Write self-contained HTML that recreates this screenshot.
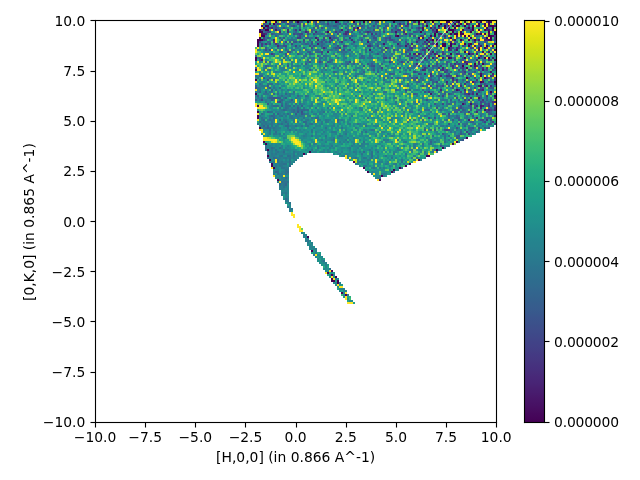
<!DOCTYPE html>
<html><head><meta charset="utf-8"><title>plot</title>
<style>html,body{margin:0;padding:0;background:#fff}svg{display:block}</style></head>
<body><svg width="640" height="480" viewBox="0 0 640 480">
<rect width="640" height="480" fill="#fff"/>
<defs><linearGradient id="cbg" x1="0" y1="0" x2="0" y2="1"><stop offset="0.0000" stop-color="#fde725"/><stop offset="0.0104" stop-color="#f6e620"/><stop offset="0.0208" stop-color="#f1e51d"/><stop offset="0.0312" stop-color="#eae51a"/><stop offset="0.0417" stop-color="#e2e418"/><stop offset="0.0521" stop-color="#dde318"/><stop offset="0.0625" stop-color="#d5e21a"/><stop offset="0.0729" stop-color="#cde11d"/><stop offset="0.0833" stop-color="#c8e020"/><stop offset="0.0938" stop-color="#c0df25"/><stop offset="0.1042" stop-color="#b8de29"/><stop offset="0.1146" stop-color="#b2dd2d"/><stop offset="0.1250" stop-color="#aadc32"/><stop offset="0.1354" stop-color="#a2da37"/><stop offset="0.1458" stop-color="#9dd93b"/><stop offset="0.1562" stop-color="#95d840"/><stop offset="0.1667" stop-color="#8ed645"/><stop offset="0.1771" stop-color="#89d548"/><stop offset="0.1875" stop-color="#81d34d"/><stop offset="0.1979" stop-color="#7cd250"/><stop offset="0.2083" stop-color="#75d054"/><stop offset="0.2188" stop-color="#6ece58"/><stop offset="0.2292" stop-color="#69cd5b"/><stop offset="0.2396" stop-color="#63cb5f"/><stop offset="0.2500" stop-color="#5cc863"/><stop offset="0.2604" stop-color="#58c765"/><stop offset="0.2708" stop-color="#52c569"/><stop offset="0.2812" stop-color="#4cc26c"/><stop offset="0.2917" stop-color="#48c16e"/><stop offset="0.3021" stop-color="#42be71"/><stop offset="0.3125" stop-color="#3dbc74"/><stop offset="0.3229" stop-color="#3aba76"/><stop offset="0.3333" stop-color="#35b779"/><stop offset="0.3438" stop-color="#31b57b"/><stop offset="0.3542" stop-color="#2eb37c"/><stop offset="0.3646" stop-color="#2ab07f"/><stop offset="0.3750" stop-color="#27ad81"/><stop offset="0.3854" stop-color="#25ac82"/><stop offset="0.3958" stop-color="#23a983"/><stop offset="0.4062" stop-color="#21a685"/><stop offset="0.4167" stop-color="#20a486"/><stop offset="0.4271" stop-color="#1fa187"/><stop offset="0.4375" stop-color="#1f9f88"/><stop offset="0.4479" stop-color="#1e9d89"/><stop offset="0.4583" stop-color="#1f9a8a"/><stop offset="0.4688" stop-color="#1f978b"/><stop offset="0.4792" stop-color="#1f958b"/><stop offset="0.4896" stop-color="#20928c"/><stop offset="0.5000" stop-color="#21918c"/><stop offset="0.5104" stop-color="#218e8d"/><stop offset="0.5208" stop-color="#228b8d"/><stop offset="0.5312" stop-color="#23898e"/><stop offset="0.5417" stop-color="#24868e"/><stop offset="0.5521" stop-color="#25838e"/><stop offset="0.5625" stop-color="#26828e"/><stop offset="0.5729" stop-color="#277f8e"/><stop offset="0.5833" stop-color="#287c8e"/><stop offset="0.5938" stop-color="#297a8e"/><stop offset="0.6042" stop-color="#2a778e"/><stop offset="0.6146" stop-color="#2b748e"/><stop offset="0.6250" stop-color="#2c728e"/><stop offset="0.6354" stop-color="#2d708e"/><stop offset="0.6458" stop-color="#2e6d8e"/><stop offset="0.6562" stop-color="#2f6b8e"/><stop offset="0.6667" stop-color="#31688e"/><stop offset="0.6771" stop-color="#32658e"/><stop offset="0.6875" stop-color="#33638d"/><stop offset="0.6979" stop-color="#34608d"/><stop offset="0.7083" stop-color="#365d8d"/><stop offset="0.7188" stop-color="#375b8d"/><stop offset="0.7292" stop-color="#38588c"/><stop offset="0.7396" stop-color="#3a548c"/><stop offset="0.7500" stop-color="#3b528b"/><stop offset="0.7604" stop-color="#3c4f8a"/><stop offset="0.7708" stop-color="#3e4c8a"/><stop offset="0.7812" stop-color="#3e4989"/><stop offset="0.7917" stop-color="#404688"/><stop offset="0.8021" stop-color="#414287"/><stop offset="0.8125" stop-color="#424086"/><stop offset="0.8229" stop-color="#433d84"/><stop offset="0.8333" stop-color="#443983"/><stop offset="0.8438" stop-color="#453781"/><stop offset="0.8542" stop-color="#46337f"/><stop offset="0.8646" stop-color="#46307e"/><stop offset="0.8750" stop-color="#472d7b"/><stop offset="0.8854" stop-color="#482979"/><stop offset="0.8958" stop-color="#482677"/><stop offset="0.9062" stop-color="#482374"/><stop offset="0.9167" stop-color="#481f70"/><stop offset="0.9271" stop-color="#481c6e"/><stop offset="0.9375" stop-color="#48186a"/><stop offset="0.9479" stop-color="#481467"/><stop offset="0.9583" stop-color="#471164"/><stop offset="0.9688" stop-color="#470d60"/><stop offset="0.9792" stop-color="#46085c"/><stop offset="0.9896" stop-color="#450559"/><stop offset="1.0000" stop-color="#440154"/></linearGradient></defs>
<rect x="525" y="21" width="19" height="401" fill="url(#cbg)"/>
<g shape-rendering="crispEdges"><path fill="#440154" d="M265 21h2v2h-2zM275 21h2v2h-2zM297 21h2v2h-2zM307 21h2v2h-2zM335 21h2v2h-2zM353 21h2v2h-2zM363 21h2v2h-2zM393 21h2v2h-2zM418 21h2v2h-2zM424 21h2v2h-2zM432 21h2v2h-2zM446 21h4v2h-4zM452 21h2v2h-2zM458 21h2v2h-2zM464 21h2v2h-2zM470 21h2v2h-2zM480 21h2v2h-2zM488 21h2v2h-2zM273 23h2v2h-2zM440 23h2v2h-2zM454 23h2v2h-2zM460 23h2v2h-2zM478 23h2v2h-2zM484 23h2v2h-2zM488 23h2v2h-2zM261 25h2v2h-2zM265 25h2v2h-2zM426 25h2v2h-2zM438 25h2v2h-2zM444 25h2v2h-2zM448 25h2v2h-2zM452 25h2v2h-2zM456 25h4v2h-4zM464 25h2v2h-2zM472 25h2v2h-2zM478 25h2v2h-2zM484 25h2v2h-2zM490 25h4v2h-4zM263 27h2v2h-2zM444 27h2v2h-2zM448 27h2v2h-2zM454 27h2v2h-2zM468 27h2v2h-2zM472 27h2v2h-2zM486 27h2v2h-2zM492 27h2v2h-2zM265 29h4v2h-4zM436 29h2v2h-2zM448 29h6v2h-6zM462 29h2v2h-2zM472 29h2v2h-2zM478 29h2v2h-2zM484 29h2v2h-2zM492 29h2v2h-2zM259 31h2v2h-2zM420 31h2v2h-2zM436 31h2v2h-2zM446 31h2v2h-2zM452 31h2v2h-2zM460 31h2v2h-2zM470 31h2v2h-2zM488 31h2v2h-2zM494 31h2v2h-2zM434 33h2v2h-2zM450 33h2v2h-2zM454 33h4v2h-4zM460 33h4v2h-4zM480 33h2v2h-2zM484 33h2v2h-2zM494 33h2v2h-2zM261 35h4v2h-4zM397 35h2v2h-2zM434 35h2v2h-2zM464 35h2v2h-2zM468 35h2v2h-2zM488 35h4v2h-4zM259 37h2v2h-2zM450 37h2v2h-2zM470 37h2v2h-2zM486 37h2v2h-2zM490 37h2v2h-2zM257 39h4v2h-4zM426 39h2v2h-2zM432 39h2v2h-2zM460 39h2v2h-2zM468 39h2v2h-2zM474 39h2v2h-2zM490 39h2v2h-2zM257 41h2v2h-2zM257 43h2v2h-2zM436 43h2v2h-2zM442 43h4v2h-4zM450 43h2v2h-2zM464 43h2v2h-2zM470 43h2v2h-2zM494 43h2v2h-2zM257 45h2v2h-2zM442 45h4v2h-4zM450 45h2v2h-2zM468 45h2v2h-2zM486 45h2v2h-2zM492 45h2v2h-2zM448 47h2v2h-2zM484 47h2v2h-2zM428 49h2v2h-2zM478 49h2v2h-2zM494 49h2v2h-2zM464 51h2v2h-2zM482 51h2v2h-2zM450 53h2v2h-2zM468 53h2v2h-2zM490 53h2v2h-2zM438 55h2v2h-2zM255 57h2v2h-2zM448 57h2v2h-2zM464 57h2v2h-2zM478 57h2v2h-2zM484 57h2v2h-2zM488 57h2v2h-2zM255 59h2v2h-2zM494 59h2v2h-2zM474 63h2v2h-2zM482 63h2v2h-2zM462 65h2v2h-2zM255 69h2v2h-2zM480 75h2v2h-2zM466 77h2v2h-2zM255 79h2v2h-2zM480 81h2v2h-2zM494 81h2v2h-2zM490 91h2v2h-2zM255 93h2v2h-2zM494 95h2v2h-2zM257 105h2v2h-2zM257 111h2v2h-2zM257 115h2v2h-2zM257 117h2v2h-2zM259 127h2v2h-2zM466 137h2v2h-2zM263 141h2v2h-2zM456 141h2v2h-2zM265 143h2v2h-2zM452 143h2v2h-2zM442 147h2v2h-2zM267 149h2v2h-2zM436 149h2v2h-2zM309 151h2v2h-2zM303 153h2v2h-2zM267 155h2v2h-2zM426 155h4v2h-4zM269 159h2v2h-2zM418 159h2v2h-2zM353 161h2v2h-2zM271 163h2v2h-2zM409 163h2v2h-2zM271 165h2v2h-2zM405 165h2v2h-2zM273 167h2v2h-2zM363 167h2v2h-2zM399 167h2v2h-2zM393 169h2v2h-2zM367 171h2v2h-2zM391 171h2v2h-2zM381 175h2v2h-2zM277 179h2v2h-2zM379 179h2v2h-2zM307 236h2v2h-2zM311 250h2v2h-2zM331 270h2v2h-2zM327 272h2v2h-2zM331 274h2v2h-2zM335 276h2v2h-2zM331 278h2v2h-2zM331 280h4v2h-4zM337 280h2v2h-2zM337 282h2v2h-2zM341 292h2v2h-2zM345 294h2v2h-2z"/><path fill="#46075a" d="M466 23h2v2h-2zM267 25h2v2h-2zM357 27h2v2h-2zM259 29h2v2h-2zM261 31h2v2h-2zM327 31h2v2h-2zM476 33h2v2h-2zM488 33h2v2h-2zM430 35h2v2h-2zM261 39h2v2h-2zM466 67h2v2h-2zM484 77h2v2h-2z"/><path fill="#470d60" d="M490 21h2v2h-2zM488 25h2v2h-2zM418 37h2v2h-2zM454 39h2v2h-2zM488 39h2v2h-2zM480 73h2v2h-2zM456 89h2v2h-2zM484 109h2v2h-2z"/><path fill="#471365" d="M269 23h2v2h-2zM418 23h2v2h-2zM494 25h2v2h-2zM422 27h2v2h-2zM422 29h2v2h-2zM488 29h2v2h-2zM261 33h2v2h-2zM492 35h2v2h-2zM329 37h2v2h-2zM422 37h2v2h-2zM436 39h2v2h-2zM474 45h2v2h-2zM478 47h2v2h-2zM456 49h2v2h-2zM450 57h2v2h-2zM492 57h2v2h-2zM482 81h2v2h-2zM480 85h2v2h-2zM478 97h2v2h-2zM462 103h2v2h-2zM470 103h2v2h-2z"/><path fill="#48186a" d="M430 27h2v2h-2zM275 29h2v2h-2zM395 31h2v2h-2zM395 35h2v2h-2zM456 35h2v2h-2zM478 39h2v2h-2zM383 43h2v2h-2zM454 43h2v2h-2zM405 45h2v2h-2zM480 45h2v2h-2zM424 57h2v2h-2zM432 57h2v2h-2zM474 65h2v2h-2zM482 69h2v2h-2zM490 71h2v2h-2zM472 81h2v2h-2zM478 85h2v2h-2zM430 93h2v2h-2zM476 93h2v2h-2zM480 105h2v2h-2z"/><path fill="#481d6f" d="M456 21h2v2h-2zM476 25h2v2h-2zM263 33h2v2h-2zM440 33h2v2h-2zM315 37h2v2h-2zM367 41h2v2h-2zM468 43h2v2h-2zM369 49h2v2h-2zM432 51h2v2h-2zM488 51h2v2h-2zM418 53h2v2h-2zM434 53h2v2h-2zM476 53h2v2h-2zM442 57h2v2h-2zM466 63h2v2h-2zM486 85h2v2h-2zM468 119h2v2h-2z"/><path fill="#482374" d="M407 23h2v2h-2zM468 23h2v2h-2zM341 29h2v2h-2zM273 39h2v2h-2zM317 39h2v2h-2zM484 39h4v2h-4zM428 41h2v2h-2zM411 43h2v2h-2zM428 45h2v2h-2zM448 49h2v2h-2zM413 53h3v2h-3zM476 59h2v2h-2zM464 61h2v2h-2zM470 65h2v2h-2zM442 67h2v2h-2zM494 67h2v2h-2zM492 73h2v2h-2zM440 75h2v2h-2zM452 77h2v2h-2zM464 89h2v2h-2zM482 89h2v2h-2zM470 97h2v2h-2zM494 101h2v2h-2zM480 107h2v2h-2z"/><path fill="#482878" d="M267 27h2v2h-2zM486 29h2v2h-2zM279 31h2v2h-2zM305 31h2v2h-2zM403 31h2v2h-2zM345 33h2v2h-2zM405 33h2v2h-2zM478 33h2v2h-2zM416 41h2v2h-2zM474 41h2v2h-2zM317 43h2v2h-2zM397 43h2v2h-2zM436 45h2v2h-2zM385 47h2v2h-2zM426 47h2v2h-2zM456 47h2v2h-2zM327 51h2v2h-2zM411 57h2v2h-2zM261 59h2v2h-2zM488 59h2v2h-2zM478 61h2v2h-2zM416 63h2v2h-2zM428 65h2v2h-2zM476 65h2v2h-2zM482 67h2v2h-2zM422 69h2v2h-2zM446 81h2v2h-2zM440 89h2v2h-2zM468 93h2v2h-2zM494 97h2v2h-2zM476 105h2v2h-2zM482 105h2v2h-2zM488 109h2v2h-2zM494 109h2v2h-2zM494 115h2v2h-2zM476 117h2v2h-2z"/><path fill="#472d7b" d="M413 21h3v2h-3zM476 21h2v2h-2zM399 23h2v2h-2zM271 27h2v2h-2zM434 27h2v2h-2zM287 29h2v2h-2zM299 29h2v2h-2zM353 29h2v2h-2zM432 29h2v2h-2zM287 31h2v2h-2zM347 31h2v2h-2zM434 31h2v2h-2zM438 33h2v2h-2zM444 35h2v2h-2zM349 37h2v2h-2zM351 39h2v2h-2zM450 41h2v2h-2zM426 43h2v2h-2zM478 43h2v2h-2zM277 45h2v2h-2zM323 47h2v2h-2zM472 53h2v2h-2zM480 55h2v2h-2zM454 63h2v2h-2zM478 63h2v2h-2zM486 67h2v2h-2zM442 69h2v2h-2zM424 73h2v2h-2zM490 75h2v2h-2zM452 79h2v2h-2zM464 83h2v2h-2zM460 85h2v2h-2zM458 89h2v2h-2zM472 93h2v2h-2zM476 111h2v2h-2z"/><path fill="#46327e" d="M337 21h2v2h-2zM353 27h2v2h-2zM315 31h2v2h-2zM345 31h2v2h-2zM367 31h2v2h-2zM265 33h2v2h-2zM371 33h2v2h-2zM430 39h2v2h-2zM494 39h2v2h-2zM424 41h2v2h-2zM407 43h2v2h-2zM432 43h2v2h-2zM369 45h2v2h-2zM411 47h2v2h-2zM440 47h2v2h-2zM486 47h2v2h-2zM450 49h2v2h-2zM409 53h2v2h-2zM456 53h2v2h-2zM418 65h2v2h-2zM452 65h2v2h-2zM424 69h2v2h-2zM430 73h2v2h-2zM486 77h2v2h-2zM456 79h2v2h-2zM476 79h2v2h-2zM494 83h2v2h-2zM490 85h2v2h-2zM482 99h2v2h-2zM494 107h2v2h-2zM486 119h2v2h-2z"/><path fill="#453781" d="M283 21h2v2h-2zM359 23h2v2h-2zM418 27h2v2h-2zM438 27h2v2h-2zM466 27h2v2h-2zM295 29h2v2h-2zM470 29h2v2h-2zM460 35h2v2h-2zM494 37h2v2h-2zM331 39h2v2h-2zM273 41h2v2h-2zM341 41h2v2h-2zM265 43h2v2h-2zM275 43h2v2h-2zM367 45h2v2h-2zM339 47h2v2h-2zM450 47h2v2h-2zM424 49h2v2h-2zM271 53h2v2h-2zM470 53h2v2h-2zM428 55h2v2h-2zM385 57h2v2h-2zM428 57h2v2h-2zM466 61h2v2h-2zM424 67h2v2h-2zM438 67h2v2h-2zM452 67h2v2h-2zM462 67h2v2h-2zM464 71h2v2h-2zM446 75h2v2h-2zM478 89h4v2h-4zM486 95h2v2h-2zM468 99h2v2h-2zM492 101h2v2h-2zM488 105h2v2h-2zM492 121h2v2h-2z"/><path fill="#433d84" d="M407 21h2v2h-2zM486 21h2v2h-2zM277 23h2v2h-2zM405 25h2v2h-2zM454 29h2v2h-2zM335 31h2v2h-2zM420 35h2v2h-2zM263 37h2v2h-2zM297 37h4v2h-4zM428 37h2v2h-2zM263 39h2v2h-2zM452 39h2v2h-2zM261 43h2v2h-2zM458 45h2v2h-2zM409 47h2v2h-2zM470 47h2v2h-2zM422 49h2v2h-2zM430 53h2v2h-2zM442 53h2v2h-2zM484 53h2v2h-2zM416 55h2v2h-2zM422 55h2v2h-2zM460 55h2v2h-2zM416 59h2v2h-2zM440 65h2v2h-2zM381 67h2v2h-2zM474 67h2v2h-2zM492 69h2v2h-2zM430 75h2v2h-2zM448 75h2v2h-2zM456 75h2v2h-2zM416 77h2v2h-2zM466 81h2v2h-2zM452 85h2v2h-2zM428 91h2v2h-2zM472 91h2v2h-2zM490 93h2v2h-2zM464 99h2v2h-2zM474 107h2v2h-2zM468 111h2v2h-2z"/><path fill="#424186" d="M287 23h2v2h-2zM327 23h2v2h-2zM303 25h2v2h-2zM468 25h2v2h-2zM269 27h2v2h-2zM401 27h2v2h-2zM397 29h4v2h-4zM409 29h2v2h-2zM267 31h4v2h-4zM307 31h2v2h-2zM343 33h2v2h-2zM389 37h2v2h-2zM444 37h2v2h-2zM448 37h2v2h-2zM303 39h2v2h-2zM418 39h2v2h-2zM285 41h2v2h-2zM329 41h2v2h-2zM353 41h2v2h-2zM261 45h2v2h-2zM343 45h2v2h-2zM462 45h2v2h-2zM269 49h2v2h-2zM442 51h2v2h-2zM468 51h2v2h-2zM420 53h2v2h-2zM436 53h2v2h-2zM458 53h2v2h-2zM454 59h2v2h-2zM490 59h2v2h-2zM389 61h2v2h-2zM399 67h2v2h-2zM446 69h2v2h-2zM468 69h2v2h-2zM478 69h2v2h-2zM486 69h2v2h-2zM444 71h2v2h-2zM418 73h2v2h-2zM468 73h2v2h-2zM492 75h2v2h-2zM474 77h2v2h-2zM494 77h2v2h-2zM494 79h2v2h-2zM436 81h2v2h-2zM430 85h2v2h-2zM442 85h2v2h-2zM484 85h2v2h-2zM442 95h2v2h-2zM480 101h2v2h-2zM484 121h2v2h-2zM446 129h2v2h-2zM466 131h2v2h-2zM468 133h2v2h-2z"/><path fill="#404688" d="M293 25h2v2h-2zM373 25h2v2h-2zM395 25h2v2h-2zM407 25h2v2h-2zM261 29h2v2h-2zM383 31h2v2h-2zM301 33h2v2h-2zM313 33h2v2h-2zM424 33h2v2h-2zM299 35h2v2h-2zM323 37h2v2h-2zM438 39h2v2h-2zM259 41h2v2h-2zM291 43h2v2h-2zM430 43h2v2h-2zM452 43h2v2h-2zM295 45h2v2h-2zM472 47h2v2h-2zM454 49h2v2h-2zM474 49h2v2h-2zM287 51h2v2h-2zM321 51h2v2h-2zM407 55h2v2h-2zM446 55h2v2h-2zM383 57h2v2h-2zM420 57h2v2h-2zM349 61h2v2h-2zM401 61h2v2h-2zM456 61h2v2h-2zM440 69h2v2h-2zM458 69h2v2h-2zM413 71h3v2h-3zM450 75h2v2h-2zM482 79h2v2h-2zM456 81h2v2h-2zM474 87h2v2h-2zM482 87h2v2h-2zM460 91h2v2h-2zM464 93h4v2h-4zM261 99h2v2h-2zM478 99h2v2h-2zM488 103h2v2h-2zM460 107h2v2h-2zM490 109h2v2h-2zM486 111h2v2h-2zM448 113h2v2h-2zM428 117h2v2h-2zM482 119h2v2h-2zM458 123h2v2h-2z"/><path fill="#3e4a89" d="M295 21h2v2h-2zM315 21h2v2h-2zM377 21h2v2h-2zM263 23h2v2h-2zM315 23h2v2h-2zM403 23h2v2h-2zM422 23h2v2h-2zM434 23h2v2h-2zM450 23h2v2h-2zM275 27h2v2h-2zM283 27h2v2h-2zM373 29h2v2h-2zM391 29h2v2h-2zM403 29h2v2h-2zM325 31h2v2h-2zM369 31h2v2h-2zM293 33h2v2h-2zM299 33h2v2h-2zM375 33h2v2h-2zM363 35h2v2h-2zM409 35h2v2h-2zM422 35h2v2h-2zM438 35h2v2h-2zM474 35h2v2h-2zM494 35h2v2h-2zM456 37h2v2h-2zM464 37h2v2h-2zM389 39h4v2h-4zM484 41h2v2h-2zM285 45h2v2h-2zM309 45h2v2h-2zM337 45h2v2h-2zM478 45h2v2h-2zM311 47h2v2h-2zM387 47h2v2h-2zM458 47h2v2h-2zM265 49h2v2h-2zM343 49h2v2h-2zM393 49h2v2h-2zM407 49h2v2h-2zM411 49h2v2h-2zM405 51h2v2h-2zM448 55h2v2h-2zM389 57h2v2h-2zM436 57h2v2h-2zM407 61h2v2h-2zM436 63h2v2h-2zM450 63h2v2h-2zM458 63h2v2h-2zM462 63h2v2h-2zM494 63h2v2h-2zM373 65h2v2h-2zM462 69h2v2h-2zM474 81h2v2h-2zM446 83h2v2h-2zM452 87h2v2h-2zM462 87h2v2h-2zM405 89h2v2h-2zM424 91h2v2h-2zM464 91h2v2h-2zM478 91h2v2h-2zM456 97h2v2h-2zM442 103h2v2h-2zM480 103h2v2h-2zM460 105h2v2h-2zM486 109h2v2h-2zM480 119h2v2h-2zM478 127h2v2h-2zM488 127h2v2h-2z"/><path fill="#3c4f8a" d="M281 21h2v2h-2zM291 21h2v2h-2zM375 21h2v2h-2zM279 23h2v2h-2zM297 23h2v2h-2zM426 23h2v2h-2zM444 23h4v2h-4zM275 25h2v2h-2zM422 25h2v2h-2zM321 27h2v2h-2zM383 27h2v2h-2zM395 27h2v2h-2zM279 29h2v2h-2zM347 29h2v2h-2zM365 31h2v2h-2zM307 33h2v2h-2zM337 33h2v2h-2zM395 33h2v2h-2zM283 37h2v2h-2zM373 37h4v2h-4zM323 39h2v2h-2zM361 39h2v2h-2zM367 39h2v2h-2zM472 39h2v2h-2zM299 41h2v2h-2zM405 41h2v2h-2zM269 43h2v2h-2zM422 43h2v2h-2zM283 45h2v2h-2zM313 45h2v2h-2zM345 45h2v2h-2zM413 45h3v2h-3zM452 47h2v2h-2zM424 51h2v2h-2zM285 53h2v2h-2zM494 53h2v2h-2zM462 57h2v2h-2zM319 61h2v2h-2zM325 65h2v2h-2zM363 65h2v2h-2zM480 65h2v2h-2zM456 67h2v2h-2zM460 67h2v2h-2zM446 71h2v2h-2zM474 71h2v2h-2zM448 73h2v2h-2zM470 75h2v2h-2zM430 79h2v2h-2zM480 83h2v2h-2zM484 83h2v2h-2zM422 85h2v2h-2zM255 87h2v2h-2zM269 87h2v2h-2zM448 93h2v2h-2zM438 95h2v2h-2zM426 99h2v2h-2zM279 101h2v2h-2zM464 103h2v2h-2zM470 105h2v2h-2zM301 111h2v2h-2zM488 111h2v2h-2zM472 115h2v2h-2zM434 117h2v2h-2zM490 119h2v2h-2zM444 129h2v2h-2zM448 129h2v2h-2zM456 137h2v2h-2z"/><path fill="#3a538b" d="M347 21h2v2h-2zM359 21h2v2h-2zM367 21h2v2h-2zM299 23h2v2h-2zM303 23h2v2h-2zM339 23h2v2h-2zM361 25h2v2h-2zM385 25h2v2h-2zM391 25h2v2h-2zM399 25h2v2h-2zM446 25h2v2h-2zM263 29h2v2h-2zM311 29h2v2h-2zM357 29h2v2h-2zM418 29h2v2h-2zM265 31h2v2h-2zM339 31h2v2h-2zM351 31h2v2h-2zM413 31h3v2h-3zM432 31h2v2h-2zM456 31h2v2h-2zM480 31h2v2h-2zM271 33h2v2h-2zM297 33h2v2h-2zM347 33h2v2h-2zM409 33h2v2h-2zM327 35h2v2h-2zM351 35h2v2h-2zM279 37h2v2h-2zM333 37h2v2h-2zM385 37h2v2h-2zM484 37h2v2h-2zM281 39h2v2h-2zM442 39h2v2h-2zM476 39h2v2h-2zM295 41h2v2h-2zM311 41h2v2h-2zM321 41h2v2h-2zM432 41h2v2h-2zM311 43h2v2h-2zM369 43h2v2h-2zM377 45h2v2h-2zM399 45h2v2h-2zM409 45h2v2h-2zM464 45h2v2h-2zM335 47h2v2h-2zM349 49h2v2h-2zM436 51h2v2h-2zM377 53h2v2h-2zM424 53h2v2h-2zM259 57h2v2h-2zM454 57h2v2h-2zM259 59h2v2h-2zM440 59h2v2h-2zM309 61h2v2h-2zM468 61h2v2h-2zM371 65h2v2h-2zM432 65h2v2h-2zM450 65h2v2h-2zM409 75h2v2h-2zM263 77h2v2h-2zM468 77h2v2h-2zM267 79h2v2h-2zM490 81h2v2h-2zM436 85h2v2h-2zM480 87h2v2h-2zM468 89h4v2h-4zM470 93h2v2h-2zM273 97h2v2h-2zM434 103h2v2h-2zM474 103h2v2h-2zM474 105h2v2h-2zM494 105h2v2h-2zM436 107h2v2h-2zM470 107h2v2h-2zM458 109h2v2h-2zM470 109h2v2h-2zM488 113h2v2h-2zM448 123h2v2h-2zM494 123h2v2h-2zM456 127h2v2h-2zM472 127h2v2h-2zM484 127h2v2h-2zM462 139h2v2h-2zM440 145h2v2h-2z"/><path fill="#38588c" d="M299 21h4v2h-4zM345 23h2v2h-2zM355 23h2v2h-2zM291 25h2v2h-2zM333 25h4v2h-4zM351 25h2v2h-2zM440 25h2v2h-2zM317 27h2v2h-2zM345 27h2v2h-2zM377 27h2v2h-2zM416 27h2v2h-2zM420 27h2v2h-2zM434 29h2v2h-2zM466 29h4v2h-4zM391 31h2v2h-2zM416 31h2v2h-2zM279 33h2v2h-2zM474 33h2v2h-2zM413 35h3v2h-3zM267 37h2v2h-2zM305 37h4v2h-4zM317 37h2v2h-2zM265 39h2v2h-2zM309 39h2v2h-2zM345 39h2v2h-2zM375 39h2v2h-2zM462 39h2v2h-2zM293 41h2v2h-2zM303 41h2v2h-2zM305 43h2v2h-2zM391 45h2v2h-2zM265 47h2v2h-2zM409 49h2v2h-2zM289 51h2v2h-2zM309 51h2v2h-2zM297 53h2v2h-2zM285 55h2v2h-2zM265 61h2v2h-2zM327 61h2v2h-2zM446 61h2v2h-2zM305 63h2v2h-2zM347 63h2v2h-2zM367 63h2v2h-2zM265 65h2v2h-2zM287 65h2v2h-2zM436 65h2v2h-2zM309 69h2v2h-2zM373 69h2v2h-2zM409 69h2v2h-2zM450 71h2v2h-2zM462 71h2v2h-2zM389 73h2v2h-2zM432 75h2v2h-2zM391 77h2v2h-2zM411 77h2v2h-2zM452 81h2v2h-2zM450 83h2v2h-2zM267 85h2v2h-2zM468 85h2v2h-2zM488 87h4v2h-4zM409 89h2v2h-2zM413 93h3v2h-3zM454 95h2v2h-2zM476 95h2v2h-2zM480 97h2v2h-2zM486 97h2v2h-2zM255 99h2v2h-2zM482 101h2v2h-2zM267 103h2v2h-2zM484 103h2v2h-2zM492 103h2v2h-2zM462 109h2v2h-2zM297 111h2v2h-2zM456 111h2v2h-2zM301 113h2v2h-2zM442 113h2v2h-2zM452 119h2v2h-2zM458 119h2v2h-2zM424 129h2v2h-2zM442 133h2v2h-2zM460 133h2v2h-2zM458 135h2v2h-2z"/><path fill="#365c8d" d="M269 21h2v2h-2zM289 21h2v2h-2zM319 21h2v2h-2zM327 21h2v2h-2zM371 21h2v2h-2zM426 21h4v2h-4zM375 23h2v2h-2zM397 23h2v2h-2zM458 23h2v2h-2zM317 25h2v2h-2zM377 25h2v2h-2zM313 27h2v2h-2zM367 27h2v2h-2zM311 31h2v2h-2zM321 33h2v2h-2zM411 33h2v2h-2zM452 33h2v2h-2zM275 35h2v2h-2zM373 35h2v2h-2zM442 35h2v2h-2zM335 37h2v2h-2zM387 37h2v2h-2zM337 39h2v2h-2zM385 39h2v2h-2zM279 41h2v2h-2zM289 41h2v2h-2zM325 41h2v2h-2zM405 43h2v2h-2zM321 45h2v2h-2zM371 45h2v2h-2zM277 47h2v2h-2zM303 47h2v2h-2zM305 49h2v2h-2zM397 49h2v2h-2zM279 51h2v2h-2zM416 51h2v2h-2zM430 51h2v2h-2zM309 53h2v2h-2zM321 53h2v2h-2zM444 53h2v2h-2zM317 55h2v2h-2zM361 55h2v2h-2zM409 55h2v2h-2zM393 57h2v2h-2zM409 57h2v2h-2zM480 57h2v2h-2zM424 59h4v2h-4zM460 59h4v2h-4zM482 59h2v2h-2zM422 61h2v2h-2zM371 63h2v2h-2zM446 63h2v2h-2zM464 63h2v2h-2zM484 63h2v2h-2zM422 65h2v2h-2zM407 67h2v2h-2zM426 67h2v2h-2zM484 69h2v2h-2zM391 73h2v2h-2zM420 73h2v2h-2zM462 73h4v2h-4zM470 73h2v2h-2zM482 73h2v2h-2zM261 75h2v2h-2zM438 75h2v2h-2zM269 77h2v2h-2zM438 77h2v2h-2zM450 77h2v2h-2zM488 77h2v2h-2zM413 79h3v2h-3zM462 79h2v2h-2zM432 81h2v2h-2zM468 81h2v2h-2zM488 81h2v2h-2zM428 83h2v2h-2zM460 83h2v2h-2zM432 87h2v2h-2zM492 87h2v2h-2zM271 89h2v2h-2zM444 93h2v2h-2zM257 95h2v2h-2zM480 95h2v2h-2zM275 97h4v2h-4zM285 97h2v2h-2zM291 99h2v2h-2zM450 99h2v2h-2zM458 99h2v2h-2zM486 99h2v2h-2zM277 101h2v2h-2zM281 105h2v2h-2zM454 109h2v2h-2zM454 111h2v2h-2zM460 111h2v2h-2zM295 113h2v2h-2zM448 115h2v2h-2zM458 117h2v2h-2zM486 117h4v2h-4zM470 121h4v2h-4zM490 123h2v2h-2zM464 125h2v2h-2zM468 127h2v2h-2zM476 131h2v2h-2zM456 135h2v2h-2z"/><path fill="#34608d" d="M285 21h2v2h-2zM289 23h2v2h-2zM434 25h2v2h-2zM277 27h2v2h-2zM411 27h2v2h-2zM277 29h2v2h-2zM305 29h2v2h-2zM383 29h2v2h-2zM295 31h2v2h-2zM359 31h2v2h-2zM295 33h2v2h-2zM333 35h2v2h-2zM365 35h2v2h-2zM389 35h2v2h-2zM329 39h2v2h-2zM393 39h2v2h-2zM416 39h2v2h-2zM428 39h2v2h-2zM339 41h2v2h-2zM393 41h2v2h-2zM436 41h2v2h-2zM456 41h2v2h-2zM277 43h2v2h-2zM424 43h2v2h-2zM434 43h2v2h-2zM325 47h2v2h-2zM337 47h2v2h-2zM379 47h2v2h-2zM422 47h2v2h-2zM430 47h2v2h-2zM285 49h2v2h-2zM381 49h2v2h-2zM307 51h2v2h-2zM317 51h4v2h-4zM371 51h2v2h-2zM273 53h2v2h-2zM383 53h2v2h-2zM283 57h2v2h-2zM307 59h2v2h-2zM409 59h2v2h-2zM329 61h2v2h-2zM456 63h2v2h-2zM460 63h2v2h-2zM413 65h3v2h-3zM333 67h2v2h-2zM494 69h2v2h-2zM333 71h2v2h-2zM363 71h2v2h-2zM377 71h2v2h-2zM416 71h2v2h-2zM405 73h2v2h-2zM440 73h2v2h-2zM444 75h2v2h-2zM458 75h2v2h-2zM397 77h2v2h-2zM413 77h3v2h-3zM430 77h2v2h-2zM432 79h2v2h-2zM438 79h2v2h-2zM418 81h2v2h-2zM476 81h2v2h-2zM255 85h2v2h-2zM407 85h2v2h-2zM448 85h2v2h-2zM395 89h2v2h-2zM488 91h2v2h-2zM273 93h2v2h-2zM450 93h2v2h-2zM468 95h2v2h-2zM269 97h4v2h-4zM279 97h2v2h-2zM462 97h2v2h-2zM271 99h2v2h-2zM281 99h2v2h-2zM490 99h2v2h-2zM484 101h2v2h-2zM448 103h2v2h-2zM486 103h2v2h-2zM301 105h2v2h-2zM484 105h2v2h-2zM492 105h2v2h-2zM297 107h2v2h-2zM458 107h2v2h-2zM490 107h2v2h-2zM456 109h2v2h-2zM476 109h2v2h-2zM492 109h2v2h-2zM470 113h2v2h-2zM490 113h2v2h-2zM456 115h2v2h-2zM488 123h2v2h-2zM267 127h2v2h-2zM470 127h2v2h-2zM434 129h2v2h-2zM470 129h2v2h-2zM460 131h2v2h-2zM430 141h2v2h-2z"/><path fill="#32648e" d="M313 21h2v2h-2zM275 23h2v2h-2zM343 23h2v2h-2zM411 23h2v2h-2zM299 25h2v2h-2zM315 25h2v2h-2zM327 25h2v2h-2zM387 25h2v2h-2zM462 25h2v2h-2zM299 27h2v2h-2zM337 27h2v2h-2zM355 27h2v2h-2zM470 27h2v2h-2zM488 27h2v2h-2zM339 29h2v2h-2zM395 29h2v2h-2zM464 29h2v2h-2zM490 29h2v2h-2zM363 31h2v2h-2zM393 31h2v2h-2zM403 33h2v2h-2zM325 35h2v2h-2zM345 35h2v2h-2zM371 35h2v2h-2zM379 35h2v2h-2zM399 35h4v2h-4zM476 35h2v2h-2zM331 37h2v2h-2zM436 37h2v2h-2zM482 37h2v2h-2zM267 41h2v2h-2zM385 41h2v2h-2zM283 43h2v2h-2zM307 43h2v2h-2zM321 43h2v2h-2zM333 43h2v2h-2zM279 45h2v2h-2zM299 45h2v2h-2zM315 45h2v2h-2zM401 45h2v2h-2zM420 45h2v2h-2zM285 47h2v2h-2zM373 47h2v2h-2zM492 47h2v2h-2zM293 49h2v2h-2zM365 49h2v2h-2zM383 49h2v2h-2zM385 51h2v2h-2zM476 51h2v2h-2zM401 53h2v2h-2zM323 55h2v2h-2zM369 55h2v2h-2zM383 55h2v2h-2zM399 55h2v2h-2zM466 55h2v2h-2zM363 57h2v2h-2zM371 57h2v2h-2zM399 57h2v2h-2zM468 57h2v2h-2zM331 59h2v2h-2zM397 59h2v2h-2zM420 61h2v2h-2zM353 63h2v2h-2zM381 63h2v2h-2zM267 65h2v2h-2zM434 65h2v2h-2zM492 65h2v2h-2zM432 67h2v2h-2zM454 67h2v2h-2zM478 67h2v2h-2zM428 69h2v2h-2zM444 69h2v2h-2zM460 71h2v2h-2zM480 71h2v2h-2zM393 73h2v2h-2zM255 75h2v2h-2zM420 77h2v2h-2zM446 77h2v2h-2zM273 79h2v2h-2zM422 79h2v2h-2zM434 81h2v2h-2zM492 81h2v2h-2zM407 83h2v2h-2zM432 83h2v2h-2zM440 85h2v2h-2zM279 87h2v2h-2zM436 87h2v2h-2zM259 91h2v2h-2zM265 91h2v2h-2zM405 91h2v2h-2zM438 91h2v2h-2zM444 91h2v2h-2zM452 91h2v2h-2zM285 93h2v2h-2zM361 95h2v2h-2zM466 95h2v2h-2zM454 101h2v2h-2zM407 103h2v2h-2zM468 105h2v2h-2zM486 105h2v2h-2zM488 107h2v2h-2zM283 109h2v2h-2zM297 109h2v2h-2zM440 109h2v2h-2zM464 109h2v2h-2zM478 109h2v2h-2zM267 111h2v2h-2zM490 111h2v2h-2zM277 113h2v2h-2zM464 113h2v2h-2zM271 115h2v2h-2zM480 115h2v2h-2zM273 117h2v2h-2zM448 117h2v2h-2zM456 117h2v2h-2zM490 117h2v2h-2zM279 119h2v2h-2zM446 119h2v2h-2zM490 121h2v2h-2zM263 125h2v2h-2zM267 125h2v2h-2zM464 129h2v2h-2zM448 135h2v2h-2zM458 137h2v2h-2zM401 167h2v2h-2zM275 171h2v2h-2z"/><path fill="#31688e" d="M323 21h2v2h-2zM399 21h2v2h-2zM478 21h2v2h-2zM265 23h2v2h-2zM323 23h2v2h-2zM337 23h2v2h-2zM273 25h2v2h-2zM329 25h2v2h-2zM347 25h2v2h-2zM363 25h2v2h-2zM273 27h2v2h-2zM273 29h2v2h-2zM407 29h2v2h-2zM337 31h2v2h-2zM371 31h2v2h-2zM379 31h2v2h-2zM273 33h2v2h-2zM281 33h2v2h-2zM317 33h2v2h-2zM361 33h2v2h-2zM379 33h2v2h-2zM430 33h2v2h-2zM303 35h2v2h-2zM329 35h2v2h-2zM482 35h2v2h-2zM269 37h2v2h-2zM383 37h2v2h-2zM343 39h2v2h-2zM420 39h4v2h-4zM269 41h2v2h-2zM319 41h2v2h-2zM395 41h2v2h-2zM418 41h2v2h-2zM377 43h2v2h-2zM381 43h2v2h-2zM418 43h2v2h-2zM281 45h2v2h-2zM397 45h2v2h-2zM488 45h2v2h-2zM333 47h2v2h-2zM343 47h2v2h-2zM275 49h2v2h-2zM317 49h2v2h-2zM420 49h2v2h-2zM432 49h2v2h-2zM281 51h2v2h-2zM337 51h2v2h-2zM345 51h2v2h-2zM365 51h2v2h-2zM407 51h2v2h-2zM311 53h2v2h-2zM391 53h2v2h-2zM428 53h2v2h-2zM335 55h2v2h-2zM405 55h2v2h-2zM413 55h3v2h-3zM434 55h2v2h-2zM319 57h4v2h-4zM359 57h4v2h-4zM474 57h2v2h-2zM289 59h2v2h-2zM269 61h2v2h-2zM321 61h2v2h-2zM399 61h2v2h-2zM436 61h2v2h-2zM470 61h2v2h-2zM325 63h2v2h-2zM341 63h2v2h-2zM397 63h2v2h-2zM413 63h3v2h-3zM442 63h2v2h-2zM369 65h2v2h-2zM323 67h2v2h-2zM373 67h2v2h-2zM422 67h2v2h-2zM269 69h2v2h-2zM405 69h2v2h-2zM420 69h2v2h-2zM399 71h2v2h-2zM259 75h2v2h-2zM355 75h2v2h-2zM383 77h2v2h-2zM403 79h2v2h-2zM416 81h2v2h-2zM259 83h2v2h-2zM399 83h2v2h-2zM426 83h2v2h-2zM426 85h2v2h-2zM428 87h2v2h-2zM422 89h2v2h-2zM432 91h2v2h-2zM454 91h2v2h-2zM416 93h2v2h-2zM297 95h2v2h-2zM305 95h2v2h-2zM478 95h2v2h-2zM466 97h2v2h-2zM472 99h2v2h-2zM460 101h2v2h-2zM470 101h2v2h-2zM488 101h2v2h-2zM281 103h2v2h-2zM273 105h6v2h-6zM289 105h2v2h-2zM293 105h2v2h-2zM462 107h2v2h-2zM293 109h2v2h-2zM301 109h4v2h-4zM307 109h2v2h-2zM424 109h2v2h-2zM428 109h2v2h-2zM480 109h2v2h-2zM409 111h4v2h-4zM261 113h2v2h-2zM273 113h2v2h-2zM287 113h2v2h-2zM303 113h2v2h-2zM444 113h2v2h-2zM424 115h2v2h-2zM367 117h2v2h-2zM484 117h2v2h-2zM263 119h2v2h-2zM337 119h2v2h-2zM422 119h2v2h-2zM259 121h2v2h-2zM285 121h2v2h-2zM303 121h2v2h-2zM482 121h2v2h-2zM285 125h4v2h-4zM269 129h2v2h-2zM430 129h2v2h-2zM478 129h2v2h-2zM472 133h2v2h-2zM432 135h2v2h-2zM444 137h2v2h-2zM460 139h2v2h-2zM363 151h2v2h-2zM267 157h2v2h-2zM273 157h2v2h-2zM289 165h2v2h-2zM285 183h2v3h-2z"/><path fill="#2f6c8e" d="M331 21h2v2h-2zM403 21h2v2h-2zM454 21h2v2h-2zM321 23h2v2h-2zM353 23h2v2h-2zM369 23h2v2h-2zM387 23h2v2h-2zM401 23h2v2h-2zM271 25h2v2h-2zM289 25h2v2h-2zM295 25h2v2h-2zM341 25h2v2h-2zM359 25h2v2h-2zM367 25h2v2h-2zM454 25h2v2h-2zM363 27h2v2h-2zM385 27h2v2h-2zM432 27h2v2h-2zM293 29h2v2h-2zM361 29h2v2h-2zM399 31h2v2h-2zM315 33h2v2h-2zM367 33h2v2h-2zM444 33h2v2h-2zM448 33h2v2h-2zM343 35h2v2h-2zM478 35h2v2h-2zM311 37h2v2h-2zM343 37h2v2h-2zM291 39h4v2h-4zM321 39h2v2h-2zM401 39h2v2h-2zM405 39h2v2h-2zM377 41h2v2h-2zM486 41h2v2h-2zM323 43h2v2h-2zM351 43h2v2h-2zM399 43h2v2h-2zM355 45h2v2h-2zM407 45h2v2h-2zM418 47h2v2h-2zM424 47h2v2h-2zM436 47h2v2h-2zM299 49h2v2h-2zM315 49h2v2h-2zM335 49h2v2h-2zM430 49h2v2h-2zM315 51h2v2h-2zM341 51h2v2h-2zM381 51h2v2h-2zM454 51h2v2h-2zM478 51h2v2h-2zM492 51h2v2h-2zM343 53h2v2h-2zM255 55h2v2h-2zM273 55h2v2h-2zM305 55h2v2h-2zM486 55h2v2h-2zM257 57h2v2h-2zM309 57h2v2h-2zM313 57h2v2h-2zM337 57h2v2h-2zM345 57h2v2h-2zM413 57h3v2h-3zM444 57h2v2h-2zM482 57h2v2h-2zM319 59h2v2h-2zM418 59h2v2h-2zM434 59h2v2h-2zM442 59h2v2h-2zM484 59h2v2h-2zM345 61h2v2h-2zM359 61h2v2h-2zM403 61h2v2h-2zM448 61h2v2h-2zM474 61h2v2h-2zM281 63h2v2h-2zM379 65h2v2h-2zM446 65h2v2h-2zM255 67h2v2h-2zM464 67h2v2h-2zM480 67h2v2h-2zM353 69h2v2h-2zM377 69h2v2h-2zM381 69h2v2h-2zM470 69h2v2h-2zM430 71h2v2h-2zM458 71h2v2h-2zM361 73h2v2h-2zM407 73h2v2h-2zM379 75h2v2h-2zM257 77h2v2h-2zM387 77h2v2h-2zM259 79h2v2h-2zM383 79h2v2h-2zM418 79h2v2h-2zM271 83h2v2h-2zM357 85h2v2h-2zM438 85h2v2h-2zM454 89h2v2h-2zM293 91h2v2h-2zM440 91h2v2h-2zM277 93h2v2h-2zM281 95h2v2h-2zM436 99h2v2h-2zM442 99h2v2h-2zM418 101h2v2h-2zM464 101h2v2h-2zM490 101h2v2h-2zM285 103h2v2h-2zM450 103h2v2h-2zM476 103h2v2h-2zM430 105h2v2h-2zM279 107h2v2h-2zM285 107h2v2h-2zM442 107h2v2h-2zM452 107h2v2h-2zM285 109h2v2h-2zM305 109h2v2h-2zM269 111h2v2h-2zM293 111h2v2h-2zM323 111h2v2h-2zM474 111h2v2h-2zM273 115h2v2h-2zM269 119h2v2h-2zM478 119h2v2h-2zM305 121h2v2h-2zM281 123h2v2h-2zM474 123h2v2h-2zM295 125h2v2h-2zM446 125h2v2h-2zM265 127h2v2h-2zM269 127h2v2h-2zM289 129h2v2h-2zM275 131h2v2h-2zM365 131h2v2h-2zM450 131h2v2h-2zM444 135h2v2h-2zM444 141h2v2h-2zM422 143h2v2h-2zM430 143h2v2h-2zM265 147h2v2h-2zM271 147h2v2h-2zM434 149h2v2h-2zM283 151h2v2h-2zM371 155h2v2h-2zM277 159h2v2h-2zM277 171h2v2h-2zM287 171h2v2h-2zM277 173h2v2h-2zM285 177h2v2h-2zM281 181h2v2h-2zM279 183h2v3h-2zM285 198h2v2h-2z"/><path fill="#2d708e" d="M343 21h2v2h-2zM363 23h2v2h-2zM482 23h2v2h-2zM331 25h2v2h-2zM337 25h2v2h-2zM418 25h2v2h-2zM281 27h2v2h-2zM285 27h2v2h-2zM361 27h2v2h-2zM369 27h2v2h-2zM373 27h2v2h-2zM393 27h2v2h-2zM313 29h2v2h-2zM327 29h2v2h-2zM416 29h2v2h-2zM428 29h2v2h-2zM303 31h2v2h-2zM375 31h2v2h-2zM397 31h2v2h-2zM418 31h2v2h-2zM275 33h2v2h-2zM319 33h2v2h-2zM297 35h2v2h-2zM265 37h2v2h-2zM309 37h2v2h-2zM337 37h2v2h-2zM289 39h2v2h-2zM373 39h2v2h-2zM379 41h2v2h-2zM399 41h2v2h-2zM454 41h2v2h-2zM263 43h2v2h-2zM267 43h2v2h-2zM303 43h2v2h-2zM480 43h2v2h-2zM486 43h2v2h-2zM470 45h2v2h-2zM321 47h2v2h-2zM434 47h2v2h-2zM291 49h2v2h-2zM311 49h2v2h-2zM331 49h2v2h-2zM347 49h2v2h-2zM267 51h2v2h-2zM389 51h2v2h-2zM438 51h2v2h-2zM458 51h2v2h-2zM305 53h2v2h-2zM359 53h2v2h-2zM369 53h2v2h-2zM405 53h2v2h-2zM325 55h2v2h-2zM363 55h2v2h-2zM325 57h2v2h-2zM367 57h4v2h-4zM418 57h2v2h-2zM472 59h2v2h-2zM347 61h2v2h-2zM353 61h2v2h-2zM371 61h2v2h-2zM391 61h2v2h-2zM484 61h2v2h-2zM345 63h2v2h-2zM357 63h2v2h-2zM345 65h2v2h-2zM424 65h2v2h-2zM460 65h2v2h-2zM494 65h2v2h-2zM265 67h2v2h-2zM391 67h2v2h-2zM436 67h2v2h-2zM263 69h2v2h-2zM325 69h2v2h-2zM367 69h2v2h-2zM371 69h2v2h-2zM436 69h2v2h-2zM335 71h2v2h-2zM438 71h2v2h-2zM472 71h2v2h-2zM438 73h2v2h-2zM456 73h2v2h-2zM478 73h2v2h-2zM436 75h2v2h-2zM403 77h2v2h-2zM407 77h2v2h-2zM422 77h2v2h-2zM448 77h2v2h-2zM444 79h2v2h-2zM454 79h2v2h-2zM464 79h2v2h-2zM470 79h2v2h-2zM490 79h2v2h-2zM267 83h2v2h-2zM474 83h2v2h-2zM399 85h2v2h-2zM420 85h2v2h-2zM476 85h2v2h-2zM273 87h2v2h-2zM492 89h2v2h-2zM271 91h2v2h-2zM383 91h2v2h-2zM470 91h2v2h-2zM492 91h2v2h-2zM409 93h2v2h-2zM289 95h2v2h-2zM261 97h2v2h-2zM395 97h2v2h-2zM259 99h2v2h-2zM279 99h2v2h-2zM385 99h2v2h-2zM395 101h2v2h-2zM446 101h2v2h-2zM450 101h2v2h-2zM462 101h2v2h-2zM422 103h2v2h-2zM446 103h2v2h-2zM454 103h2v2h-2zM285 105h4v2h-4zM297 105h2v2h-2zM315 107h2v2h-2zM299 109h2v2h-2zM426 109h2v2h-2zM271 111h2v2h-2zM420 111h2v2h-2zM464 111h2v2h-2zM494 113h2v2h-2zM281 115h2v2h-2zM466 115h2v2h-2zM261 117h2v2h-2zM303 117h2v2h-2zM317 117h2v2h-2zM454 117h2v2h-2zM466 117h2v2h-2zM460 119h2v2h-2zM474 119h2v2h-2zM407 121h2v2h-2zM257 123h2v2h-2zM287 123h2v2h-2zM305 123h2v2h-2zM311 123h2v2h-2zM464 123h4v2h-4zM271 125h2v2h-2zM301 125h2v2h-2zM307 125h2v2h-2zM365 125h2v2h-2zM273 127h2v2h-2zM287 127h2v2h-2zM325 127h2v2h-2zM371 129h2v2h-2zM460 129h2v2h-2zM311 135h2v2h-2zM422 135h2v2h-2zM333 139h2v2h-2zM448 139h2v2h-2zM363 141h2v2h-2zM279 147h2v2h-2zM275 149h2v2h-2zM371 151h2v2h-2zM371 153h2v2h-2zM393 153h2v2h-2zM287 155h2v2h-2zM391 157h2v2h-2zM416 157h2v2h-2zM277 161h2v2h-2zM289 161h2v2h-2zM401 161h2v2h-2zM283 163h2v2h-2zM289 163h2v2h-2zM363 165h2v2h-2zM285 173h2v2h-2zM329 268h2v2h-2z"/><path fill="#2c738e" d="M385 21h2v2h-2zM395 21h2v2h-2zM285 23h2v2h-2zM335 23h2v2h-2zM379 25h2v2h-2zM411 25h2v2h-2zM265 27h2v2h-2zM329 27h2v2h-2zM335 27h2v2h-2zM464 27h2v2h-2zM369 29h2v2h-2zM263 31h2v2h-2zM333 31h2v2h-2zM373 31h2v2h-2zM329 33h2v2h-2zM301 35h2v2h-2zM331 35h2v2h-2zM347 35h2v2h-2zM377 35h2v2h-2zM446 35h2v2h-2zM359 37h4v2h-4zM381 39h2v2h-2zM397 39h2v2h-2zM315 41h2v2h-2zM371 41h2v2h-2zM478 41h2v2h-2zM494 41h2v2h-2zM365 43h2v2h-2zM375 43h2v2h-2zM482 43h2v2h-2zM375 45h2v2h-2zM383 45h2v2h-2zM397 47h2v2h-2zM413 47h3v2h-3zM476 47h2v2h-2zM329 49h2v2h-2zM341 49h2v2h-2zM438 49h2v2h-2zM490 49h2v2h-2zM343 51h2v2h-2zM420 51h2v2h-2zM470 51h2v2h-2zM269 53h2v2h-2zM299 53h2v2h-2zM333 53h2v2h-2zM375 53h2v2h-2zM432 53h2v2h-2zM454 53h2v2h-2zM303 55h2v2h-2zM418 55h2v2h-2zM430 55h2v2h-2zM287 57h2v2h-2zM377 57h2v2h-2zM329 59h2v2h-2zM291 61h2v2h-2zM305 61h4v2h-4zM383 61h2v2h-2zM428 61h2v2h-2zM460 61h2v2h-2zM494 61h2v2h-2zM287 63h2v2h-2zM319 63h2v2h-2zM361 63h2v2h-2zM393 63h2v2h-2zM275 65h2v2h-2zM385 65h2v2h-2zM416 65h2v2h-2zM458 65h2v2h-2zM472 65h2v2h-2zM337 67h2v2h-2zM393 67h2v2h-2zM403 67h2v2h-2zM411 67h2v2h-2zM472 67h2v2h-2zM385 69h2v2h-2zM430 69h2v2h-2zM464 69h2v2h-2zM343 71h2v2h-2zM357 73h2v2h-2zM375 73h2v2h-2zM403 73h2v2h-2zM462 75h2v2h-2zM329 77h2v2h-2zM399 77h2v2h-2zM428 77h2v2h-2zM367 81h2v2h-2zM269 83h2v2h-2zM397 83h2v2h-2zM442 83h2v2h-2zM486 83h2v2h-2zM257 87h2v2h-2zM434 87h2v2h-2zM440 87h2v2h-2zM456 87h2v2h-2zM259 89h2v2h-2zM275 89h2v2h-2zM397 89h2v2h-2zM269 91h2v2h-2zM385 91h2v2h-2zM426 91h2v2h-2zM430 91h2v2h-2zM456 91h2v2h-2zM480 91h2v2h-2zM263 93h4v2h-4zM484 93h2v2h-2zM307 95h2v2h-2zM343 95h2v2h-2zM432 95h2v2h-2zM257 97h2v2h-2zM267 97h2v2h-2zM444 99h4v2h-4zM265 101h2v2h-2zM281 101h2v2h-2zM295 103h2v2h-2zM299 103h2v2h-2zM436 105h2v2h-2zM287 107h2v2h-2zM303 107h2v2h-2zM327 107h2v2h-2zM291 109h2v2h-2zM418 109h2v2h-2zM462 111h2v2h-2zM418 113h2v2h-2zM480 113h2v2h-2zM492 113h2v2h-2zM269 115h2v2h-2zM309 115h2v2h-2zM291 117h2v2h-2zM315 117h2v2h-2zM464 117h2v2h-2zM474 117h2v2h-2zM261 119h2v2h-2zM273 119h2v2h-2zM317 119h2v2h-2zM263 121h2v2h-2zM271 121h2v2h-2zM293 121h2v2h-2zM337 121h2v2h-2zM261 123h2v2h-2zM265 123h2v2h-2zM271 123h2v2h-2zM357 123h2v2h-2zM462 123h2v2h-2zM478 123h2v2h-2zM442 125h2v2h-2zM263 127h2v2h-2zM341 127h2v2h-2zM438 127h2v2h-2zM486 127h2v2h-2zM295 129h2v2h-2zM373 129h2v2h-2zM468 129h2v2h-2zM311 131h2v2h-2zM454 131h2v2h-2zM470 131h2v2h-2zM269 133h2v2h-2zM345 133h2v2h-2zM462 133h4v2h-4zM325 135h2v2h-2zM339 135h2v2h-2zM430 139h2v2h-2zM434 141h2v2h-2zM403 145h2v2h-2zM397 147h2v2h-2zM265 149h2v2h-2zM311 149h2v2h-2zM277 151h2v2h-2zM293 151h2v2h-2zM377 151h2v2h-2zM424 151h2v2h-2zM432 151h2v2h-2zM267 153h2v2h-2zM361 153h2v2h-2zM405 153h2v2h-2zM281 155h2v2h-2zM289 155h2v2h-2zM293 155h2v2h-2zM385 155h2v2h-2zM275 157h2v2h-2zM355 157h2v2h-2zM363 157h2v2h-2zM371 157h2v2h-2zM289 159h2v2h-2zM401 159h2v2h-2zM273 161h2v2h-2zM285 163h2v2h-2zM275 165h2v2h-2zM281 167h4v2h-4zM373 167h2v2h-2zM285 169h2v2h-2zM285 171h2v2h-2zM283 181h6v2h-6zM283 183h2v3h-2zM283 186h2v2h-2zM289 202h2v2h-2zM291 208h2v2h-2zM307 240h2v2h-2zM323 260h2v2h-2z"/><path fill="#2a778e" d="M321 21h2v2h-2zM397 21h2v2h-2zM401 21h2v2h-2zM331 23h2v2h-2zM420 23h2v2h-2zM403 25h2v2h-2zM432 25h2v2h-2zM442 25h2v2h-2zM323 27h2v2h-2zM407 27h2v2h-2zM446 27h2v2h-2zM335 29h2v2h-2zM379 29h2v2h-2zM393 29h2v2h-2zM293 31h2v2h-2zM317 31h2v2h-2zM424 31h2v2h-2zM474 31h2v2h-2zM277 33h2v2h-2zM323 33h2v2h-2zM307 35h2v2h-2zM353 35h4v2h-4zM291 37h2v2h-2zM301 37h2v2h-2zM430 37h2v2h-2zM287 39h2v2h-2zM357 39h2v2h-2zM383 39h2v2h-2zM307 41h2v2h-2zM327 41h2v2h-2zM422 41h2v2h-2zM301 43h2v2h-2zM319 43h2v2h-2zM371 43h2v2h-2zM319 45h2v2h-2zM327 45h2v2h-2zM438 45h2v2h-2zM281 47h2v2h-2zM295 47h4v2h-4zM287 49h2v2h-2zM323 49h2v2h-2zM401 49h2v2h-2zM405 49h2v2h-2zM466 49h2v2h-2zM351 51h2v2h-2zM379 51h2v2h-2zM393 51h2v2h-2zM409 51h2v2h-2zM301 53h2v2h-2zM349 53h2v2h-2zM343 55h2v2h-2zM385 55h2v2h-2zM389 55h2v2h-2zM426 55h2v2h-2zM450 55h2v2h-2zM303 57h2v2h-2zM434 57h2v2h-2zM452 57h2v2h-2zM299 59h2v2h-2zM325 59h2v2h-2zM411 59h2v2h-2zM430 59h2v2h-2zM470 59h2v2h-2zM259 61h2v2h-2zM482 61h2v2h-2zM291 63h2v2h-2zM369 63h2v2h-2zM377 63h2v2h-2zM428 63h2v2h-2zM486 63h2v2h-2zM291 65h2v2h-2zM297 65h2v2h-2zM311 65h2v2h-2zM339 65h2v2h-2zM357 67h2v2h-2zM371 67h2v2h-2zM377 67h4v2h-4zM267 69h2v2h-2zM347 69h2v2h-2zM275 71h2v2h-2zM488 71h2v2h-2zM323 73h2v2h-2zM267 75h2v2h-2zM387 75h2v2h-2zM413 75h3v2h-3zM466 75h2v2h-2zM434 77h2v2h-2zM349 79h2v2h-2zM389 81h2v2h-2zM377 83h2v2h-2zM261 85h4v2h-4zM267 87h2v2h-2zM450 87h2v2h-2zM287 89h2v2h-2zM416 89h2v2h-2zM426 89h4v2h-4zM255 91h4v2h-4zM267 93h2v2h-2zM289 93h2v2h-2zM434 93h2v2h-2zM442 93h2v2h-2zM452 93h2v2h-2zM261 95h2v2h-2zM269 95h4v2h-4zM355 95h2v2h-2zM416 95h2v2h-2zM283 97h2v2h-2zM295 97h2v2h-2zM365 97h2v2h-2zM393 97h2v2h-2zM490 97h2v2h-2zM273 99h2v2h-2zM399 99h2v2h-2zM440 99h2v2h-2zM466 99h2v2h-2zM480 99h2v2h-2zM289 101h2v2h-2zM299 101h2v2h-2zM401 101h2v2h-2zM413 101h3v2h-3zM472 103h2v2h-2zM271 105h2v2h-2zM311 105h2v2h-2zM466 107h2v2h-2zM281 109h2v2h-2zM291 111h2v2h-2zM337 111h2v2h-2zM283 113h2v2h-2zM307 113h2v2h-2zM259 115h2v2h-2zM279 115h2v2h-2zM285 115h2v2h-2zM289 115h4v2h-4zM295 115h2v2h-2zM299 115h4v2h-4zM351 115h2v2h-2zM452 115h2v2h-2zM458 115h2v2h-2zM269 117h2v2h-2zM297 117h2v2h-2zM311 117h2v2h-2zM472 117h2v2h-2zM271 119h2v2h-2zM283 119h4v2h-4zM293 119h2v2h-2zM307 119h2v2h-2zM319 119h2v2h-2zM325 119h2v2h-2zM341 119h2v2h-2zM413 119h3v2h-3zM265 121h2v2h-2zM325 121h2v2h-2zM466 121h2v2h-2zM277 123h2v2h-2zM309 123h2v2h-2zM428 123h6v2h-6zM275 125h2v2h-2zM305 125h2v2h-2zM440 125h2v2h-2zM454 125h2v2h-2zM468 125h2v2h-2zM482 125h2v2h-2zM261 127h2v2h-2zM313 127h2v2h-2zM355 127h2v2h-2zM480 127h2v2h-2zM273 129h2v2h-2zM311 129h2v2h-2zM456 129h2v2h-2zM269 131h2v2h-2zM331 131h4v2h-4zM361 131h2v2h-2zM273 133h4v2h-4zM279 133h2v2h-2zM444 133h2v2h-2zM375 135h2v2h-2zM391 135h2v2h-2zM426 137h2v2h-2zM345 139h2v2h-2zM383 139h2v2h-2zM387 139h2v2h-2zM444 139h2v2h-2zM347 141h2v2h-2zM405 141h2v2h-2zM265 145h2v2h-2zM331 145h2v2h-2zM359 145h2v2h-2zM413 145h3v2h-3zM422 145h2v2h-2zM442 145h2v2h-2zM273 147h2v2h-2zM317 147h2v2h-2zM349 147h2v2h-2zM271 149h2v2h-2zM283 149h2v2h-2zM369 149h2v2h-2zM411 149h2v2h-2zM438 149h2v2h-2zM267 151h2v2h-2zM353 151h2v2h-2zM436 151h2v2h-2zM271 153h2v2h-2zM275 153h2v2h-2zM293 153h2v2h-2zM339 153h2v2h-2zM418 153h2v2h-2zM279 155h2v2h-2zM285 157h2v2h-2zM289 157h2v2h-2zM365 157h2v2h-2zM295 159h2v2h-2zM281 161h2v2h-2zM279 163h4v2h-4zM395 163h2v2h-2zM279 165h4v2h-4zM365 165h2v2h-2zM379 167h2v2h-2zM277 169h2v2h-2zM287 169h2v2h-2zM281 173h2v2h-2zM381 173h2v2h-2zM379 175h2v2h-2zM379 177h2v2h-2zM283 179h2v2h-2zM279 186h2v2h-2zM285 192h2v2h-2zM285 200h2v2h-2zM287 206h2v2h-2zM313 254h2v2h-2zM347 294h2v2h-2z"/><path fill="#297b8e" d="M381 21h2v2h-2zM391 21h2v2h-2zM267 23h2v2h-2zM325 23h2v2h-2zM329 23h2v2h-2zM436 23h2v2h-2zM355 25h2v2h-2zM371 25h2v2h-2zM371 27h2v2h-2zM319 29h4v2h-4zM337 29h2v2h-2zM365 29h2v2h-2zM283 31h2v2h-2zM301 31h2v2h-2zM319 31h2v2h-2zM343 31h2v2h-2zM377 31h2v2h-2zM387 31h2v2h-2zM287 33h2v2h-2zM309 33h2v2h-2zM353 33h2v2h-2zM377 33h2v2h-2zM399 33h2v2h-2zM277 35h2v2h-2zM285 35h2v2h-2zM405 35h2v2h-2zM371 37h2v2h-2zM397 37h4v2h-4zM458 37h2v2h-2zM271 39h2v2h-2zM295 39h2v2h-2zM359 39h2v2h-2zM261 41h2v2h-2zM335 41h2v2h-2zM361 41h2v2h-2zM369 41h2v2h-2zM373 41h2v2h-2zM426 41h2v2h-2zM472 41h2v2h-2zM482 41h2v2h-2zM273 43h2v2h-2zM367 43h2v2h-2zM335 45h2v2h-2zM347 45h2v2h-2zM403 45h2v2h-2zM426 45h2v2h-2zM448 45h2v2h-2zM271 47h2v2h-2zM279 47h2v2h-2zM369 47h2v2h-2zM381 47h2v2h-2zM389 47h2v2h-2zM399 47h2v2h-2zM405 47h4v2h-4zM490 47h2v2h-2zM257 49h4v2h-4zM263 49h2v2h-2zM327 49h2v2h-2zM337 49h2v2h-2zM395 49h2v2h-2zM464 49h2v2h-2zM444 51h2v2h-2zM448 51h2v2h-2zM452 51h2v2h-2zM466 53h2v2h-2zM327 55h2v2h-2zM349 55h2v2h-2zM470 55h2v2h-2zM494 55h2v2h-2zM329 57h2v2h-2zM343 57h2v2h-2zM387 57h2v2h-2zM265 59h2v2h-2zM281 59h2v2h-2zM311 59h2v2h-2zM383 59h2v2h-2zM317 61h2v2h-2zM331 61h2v2h-2zM301 63h2v2h-2zM333 63h2v2h-2zM351 63h2v2h-2zM373 63h2v2h-2zM492 63h2v2h-2zM279 65h2v2h-2zM295 65h2v2h-2zM335 65h2v2h-2zM263 67h2v2h-2zM283 67h2v2h-2zM307 67h2v2h-2zM359 67h2v2h-2zM409 67h2v2h-2zM413 67h3v2h-3zM297 69h2v2h-2zM355 69h2v2h-2zM361 69h2v2h-2zM474 69h4v2h-4zM321 71h2v2h-2zM385 71h2v2h-2zM393 71h2v2h-2zM470 71h2v2h-2zM484 71h2v2h-2zM345 73h2v2h-2zM355 73h2v2h-2zM359 73h2v2h-2zM484 73h2v2h-2zM301 75h4v2h-4zM385 75h2v2h-2zM416 75h2v2h-2zM472 75h2v2h-2zM486 75h2v2h-2zM337 77h2v2h-2zM351 77h2v2h-2zM395 77h2v2h-2zM442 77h2v2h-2zM454 77h2v2h-2zM478 77h2v2h-2zM409 79h2v2h-2zM420 79h2v2h-2zM387 81h2v2h-2zM462 81h2v2h-2zM277 83h2v2h-2zM411 83h2v2h-2zM436 83h4v2h-4zM468 83h2v2h-2zM273 85h2v2h-2zM424 85h2v2h-2zM470 85h2v2h-2zM492 85h4v2h-4zM259 87h2v2h-2zM353 87h2v2h-2zM381 87h2v2h-2zM470 87h2v2h-2zM265 89h2v2h-2zM281 89h2v2h-2zM277 91h2v2h-2zM359 91h2v2h-2zM293 93h2v2h-2zM371 93h2v2h-2zM462 93h2v2h-2zM488 93h2v2h-2zM255 95h2v2h-2zM422 97h2v2h-2zM265 99h2v2h-2zM305 99h2v2h-2zM361 99h2v2h-2zM285 101h4v2h-4zM458 101h2v2h-2zM311 103h2v2h-2zM395 103h2v2h-2zM438 105h2v2h-2zM446 105h2v2h-2zM458 105h2v2h-2zM291 107h2v2h-2zM299 107h2v2h-2zM359 107h2v2h-2zM405 107h2v2h-2zM411 107h2v2h-2zM426 107h2v2h-2zM464 107h2v2h-2zM468 107h2v2h-2zM492 107h2v2h-2zM287 109h4v2h-4zM295 109h2v2h-2zM361 109h2v2h-2zM375 109h2v2h-2zM438 109h2v2h-2zM444 109h2v2h-2zM295 111h2v2h-2zM299 111h2v2h-2zM311 111h2v2h-2zM403 111h2v2h-2zM430 111h2v2h-2zM305 113h2v2h-2zM313 113h4v2h-4zM319 113h2v2h-2zM428 113h2v2h-2zM482 113h2v2h-2zM275 115h2v2h-2zM303 115h2v2h-2zM307 115h2v2h-2zM289 117h2v2h-2zM293 117h2v2h-2zM267 119h2v2h-2zM301 119h2v2h-2zM305 119h2v2h-2zM327 119h2v2h-2zM444 119h2v2h-2zM297 121h2v2h-2zM321 121h2v2h-2zM327 121h2v2h-2zM460 121h2v2h-2zM263 123h2v2h-2zM267 123h4v2h-4zM279 123h2v2h-2zM321 123h2v2h-2zM349 123h2v2h-2zM480 123h2v2h-2zM261 125h2v2h-2zM333 125h2v2h-2zM271 127h2v2h-2zM275 127h2v2h-2zM279 127h2v2h-2zM424 127h2v2h-2zM458 127h2v2h-2zM275 129h2v2h-2zM450 129h4v2h-4zM472 129h2v2h-2zM323 131h2v2h-2zM335 131h2v2h-2zM283 133h2v2h-2zM454 133h2v2h-2zM458 133h2v2h-2zM303 135h2v2h-2zM341 135h2v2h-2zM385 135h2v2h-2zM333 137h2v2h-2zM347 137h2v2h-2zM369 137h2v2h-2zM321 139h2v2h-2zM331 139h2v2h-2zM397 139h2v2h-2zM325 141h2v2h-2zM339 141h2v2h-2zM267 143h2v2h-2zM309 143h2v2h-2zM313 143h2v2h-2zM353 143h2v2h-2zM361 143h2v2h-2zM413 143h3v2h-3zM309 145h2v2h-2zM323 145h2v2h-2zM351 145h2v2h-2zM375 145h2v2h-2zM329 147h2v2h-2zM413 147h3v2h-3zM287 149h2v2h-2zM375 149h2v2h-2zM399 149h2v2h-2zM432 149h2v2h-2zM271 151h2v2h-2zM275 151h2v2h-2zM341 151h2v2h-2zM359 151h2v2h-2zM283 153h2v2h-2zM297 153h2v2h-2zM271 155h4v2h-4zM343 155h2v2h-2zM277 157h4v2h-4zM283 157h2v2h-2zM293 157h2v2h-2zM367 159h2v2h-2zM271 161h2v2h-2zM359 161h2v2h-2zM275 163h2v2h-2zM385 163h2v2h-2zM275 167h2v2h-2zM285 167h4v2h-4zM383 167h2v2h-2zM389 169h2v2h-2zM393 171h2v2h-2zM273 173h2v2h-2zM279 173h2v2h-2zM383 173h2v2h-2zM279 175h4v2h-4zM383 175h2v2h-2zM277 177h2v2h-2zM281 177h2v2h-2zM377 177h2v2h-2zM285 179h2v2h-2zM281 183h2v3h-2zM281 188h2v2h-2zM281 192h2v2h-2zM281 194h2v2h-2zM285 194h2v2h-2zM287 200h2v2h-2zM289 210h2v2h-2zM303 234h2v2h-2zM307 242h2v2h-2zM315 252h2v2h-2zM333 274h2v2h-2z"/><path fill="#277f8e" d="M355 21h2v2h-2zM291 23h4v2h-4zM385 23h2v2h-2zM470 23h2v2h-2zM397 25h2v2h-2zM287 27h2v2h-2zM333 27h2v2h-2zM359 29h2v2h-2zM456 29h2v2h-2zM333 33h2v2h-2zM359 33h2v2h-2zM265 35h2v2h-2zM313 35h2v2h-2zM387 35h2v2h-2zM391 35h2v2h-2zM295 37h2v2h-2zM349 39h2v2h-2zM371 39h2v2h-2zM387 39h2v2h-2zM317 41h2v2h-2zM444 41h2v2h-2zM480 41h2v2h-2zM335 43h2v2h-2zM353 43h2v2h-2zM385 43h2v2h-2zM458 43h2v2h-2zM472 43h2v2h-2zM492 43h2v2h-2zM275 45h2v2h-2zM325 45h2v2h-2zM353 45h2v2h-2zM291 47h2v2h-2zM355 47h2v2h-2zM365 47h2v2h-2zM377 47h2v2h-2zM482 47h2v2h-2zM267 49h2v2h-2zM387 49h4v2h-4zM468 49h2v2h-2zM339 51h2v2h-2zM387 53h2v2h-2zM319 55h2v2h-2zM371 55h2v2h-2zM440 55h2v2h-2zM482 55h2v2h-2zM311 57h2v2h-2zM323 59h2v2h-2zM343 59h2v2h-2zM401 59h2v2h-2zM405 59h2v2h-2zM413 59h3v2h-3zM448 59h2v2h-2zM474 59h2v2h-2zM343 63h2v2h-2zM389 63h2v2h-2zM401 63h2v2h-2zM271 65h2v2h-2zM303 65h2v2h-2zM327 65h2v2h-2zM395 65h2v2h-2zM438 65h2v2h-2zM279 67h2v2h-2zM291 67h2v2h-2zM355 67h2v2h-2zM444 67h2v2h-2zM490 67h2v2h-2zM281 69h6v2h-6zM315 69h2v2h-2zM448 69h2v2h-2zM373 71h2v2h-2zM448 71h2v2h-2zM468 71h2v2h-2zM486 71h2v2h-2zM259 73h4v2h-4zM343 73h2v2h-2zM442 73h2v2h-2zM363 75h2v2h-2zM420 75h2v2h-2zM442 75h2v2h-2zM271 77h2v2h-2zM345 77h2v2h-2zM369 77h2v2h-2zM263 81h2v2h-2zM325 81h2v2h-2zM339 81h2v2h-2zM359 81h2v2h-2zM385 81h2v2h-2zM428 81h2v2h-2zM261 83h2v2h-2zM337 83h2v2h-2zM401 83h2v2h-2zM482 83h2v2h-2zM259 85h2v2h-2zM265 85h2v2h-2zM335 85h2v2h-2zM466 85h2v2h-2zM263 87h2v2h-2zM337 87h2v2h-2zM347 87h2v2h-2zM389 87h2v2h-2zM257 89h2v2h-2zM399 89h2v2h-2zM488 89h2v2h-2zM373 91h2v2h-2zM420 91h2v2h-2zM480 93h2v2h-2zM279 95h2v2h-2zM287 95h2v2h-2zM442 97h2v2h-2zM448 97h2v2h-2zM484 97h2v2h-2zM283 99h2v2h-2zM289 99h2v2h-2zM424 99h2v2h-2zM428 99h2v2h-2zM291 101h4v2h-4zM474 101h4v2h-4zM271 103h2v2h-2zM287 103h2v2h-2zM303 103h2v2h-2zM413 103h3v2h-3zM436 103h2v2h-2zM309 105h2v2h-2zM321 109h2v2h-2zM409 109h2v2h-2zM446 109h2v2h-2zM277 111h2v2h-2zM319 111h2v2h-2zM327 111h2v2h-2zM373 111h4v2h-4zM448 111h4v2h-4zM466 111h2v2h-2zM279 113h2v2h-2zM289 113h2v2h-2zM299 113h2v2h-2zM297 115h2v2h-2zM426 115h2v2h-2zM434 115h2v2h-2zM450 115h2v2h-2zM454 115h2v2h-2zM265 117h2v2h-2zM313 117h2v2h-2zM407 117h2v2h-2zM430 117h2v2h-2zM391 119h2v2h-2zM409 119h2v2h-2zM432 119h2v2h-2zM261 121h2v2h-2zM281 121h4v2h-4zM287 121h2v2h-2zM313 121h2v2h-2zM343 121h2v2h-2zM422 121h2v2h-2zM333 123h2v2h-2zM347 123h2v2h-2zM472 123h2v2h-2zM259 125h2v2h-2zM277 125h2v2h-2zM289 125h2v2h-2zM375 125h4v2h-4zM277 127h2v2h-2zM263 129h2v2h-2zM277 129h2v2h-2zM287 129h2v2h-2zM299 129h2v2h-2zM345 129h2v2h-2zM363 129h2v2h-2zM369 129h2v2h-2zM428 129h2v2h-2zM315 131h2v2h-2zM383 131h2v2h-2zM305 133h2v2h-2zM361 133h2v2h-2zM387 133h2v2h-2zM436 133h2v2h-2zM470 133h2v2h-2zM283 137h2v2h-2zM325 137h2v2h-2zM337 137h2v2h-2zM353 137h2v2h-2zM450 137h2v2h-2zM464 137h2v2h-2zM359 139h2v2h-2zM385 139h2v2h-2zM428 139h2v2h-2zM343 141h2v2h-2zM381 141h2v2h-2zM403 141h2v2h-2zM363 143h2v2h-2zM428 143h2v2h-2zM269 145h2v2h-2zM281 145h2v2h-2zM287 145h2v2h-2zM317 145h2v2h-2zM361 145h2v2h-2zM434 145h2v2h-2zM446 145h2v2h-2zM269 147h2v2h-2zM281 147h2v2h-2zM357 147h2v2h-2zM327 149h2v2h-2zM349 149h2v2h-2zM397 149h2v2h-2zM281 151h2v2h-2zM297 151h2v2h-2zM329 151h2v2h-2zM335 151h2v2h-2zM355 151h2v2h-2zM393 151h2v2h-2zM273 153h2v2h-2zM287 153h2v2h-2zM337 153h2v2h-2zM424 153h2v2h-2zM341 155h2v2h-2zM347 155h2v2h-2zM413 155h3v2h-3zM269 157h2v2h-2zM287 157h2v2h-2zM351 157h2v2h-2zM377 157h2v2h-2zM285 159h2v2h-2zM369 159h2v2h-2zM413 159h3v2h-3zM420 159h2v2h-2zM269 161h2v2h-2zM279 161h2v2h-2zM285 161h2v2h-2zM357 161h2v2h-2zM363 161h2v2h-2zM387 161h2v2h-2zM277 163h2v2h-2zM357 163h2v2h-2zM367 163h2v2h-2zM393 163h2v2h-2zM399 163h2v2h-2zM403 163h2v2h-2zM389 165h2v2h-2zM371 167h2v2h-2zM273 171h2v2h-2zM281 171h4v2h-4zM371 171h2v2h-2zM287 173h2v2h-2zM385 173h2v2h-2zM275 175h2v2h-2zM287 177h2v2h-2zM281 179h2v2h-2zM281 186h2v2h-2zM285 186h2v2h-2zM279 188h2v2h-2zM283 188h2v2h-2zM283 192h2v2h-2zM287 198h2v2h-2zM289 208h2v2h-2zM305 236h2v2h-2zM307 238h2v2h-2zM305 240h2v2h-2zM311 242h2v2h-2zM309 244h2v2h-2zM311 246h2v2h-2zM315 248h2v2h-2zM325 264h2v2h-2zM341 288h2v2h-2zM345 290h2v2h-2zM343 294h2v2h-2z"/><path fill="#26828e" d="M317 23h2v2h-2zM381 23h4v2h-4zM494 23h2v2h-2zM325 25h2v2h-2zM347 27h2v2h-2zM329 29h2v2h-2zM349 29h2v2h-2zM371 29h2v2h-2zM422 31h2v2h-2zM293 35h2v2h-2zM339 35h2v2h-2zM403 35h2v2h-2zM432 35h2v2h-2zM438 37h2v2h-2zM325 39h2v2h-2zM365 39h2v2h-2zM297 41h2v2h-2zM411 41h2v2h-2zM420 41h2v2h-2zM448 41h2v2h-2zM460 41h2v2h-2zM341 43h4v2h-4zM291 45h4v2h-4zM323 45h2v2h-2zM363 45h2v2h-2zM482 45h2v2h-2zM345 47h2v2h-2zM333 49h2v2h-2zM488 49h2v2h-2zM263 51h4v2h-4zM291 51h2v2h-2zM299 51h4v2h-4zM347 51h2v2h-2zM369 51h2v2h-2zM401 51h2v2h-2zM440 51h2v2h-2zM486 51h2v2h-2zM313 53h2v2h-2zM341 53h2v2h-2zM353 53h2v2h-2zM381 55h2v2h-2zM397 55h2v2h-2zM411 55h2v2h-2zM301 57h2v2h-2zM285 59h2v2h-2zM369 61h2v2h-2zM373 61h2v2h-2zM385 61h2v2h-2zM426 61h2v2h-2zM321 63h2v2h-2zM438 63h2v2h-2zM269 65h2v2h-2zM299 65h2v2h-2zM377 65h2v2h-2zM387 65h2v2h-2zM281 67h2v2h-2zM305 67h2v2h-2zM395 67h2v2h-2zM434 67h2v2h-2zM321 69h2v2h-2zM363 69h2v2h-2zM393 69h2v2h-2zM432 69h2v2h-2zM259 71h2v2h-2zM337 71h2v2h-2zM359 71h2v2h-2zM446 73h2v2h-2zM422 75h2v2h-2zM273 77h2v2h-2zM379 77h2v2h-2zM405 77h2v2h-2zM363 79h2v2h-2zM434 79h2v2h-2zM448 79h2v2h-2zM261 81h2v2h-2zM420 81h2v2h-2zM444 81h2v2h-2zM275 83h2v2h-2zM383 83h2v2h-2zM416 83h2v2h-2zM488 83h2v2h-2zM283 85h2v2h-2zM405 85h2v2h-2zM409 85h2v2h-2zM303 87h2v2h-2zM460 87h2v2h-2zM343 89h2v2h-2zM413 89h3v2h-3zM418 89h2v2h-2zM490 89h2v2h-2zM446 91h2v2h-2zM468 91h2v2h-2zM476 91h2v2h-2zM287 93h2v2h-2zM291 93h2v2h-2zM393 93h2v2h-2zM401 93h2v2h-2zM432 93h2v2h-2zM440 93h2v2h-2zM460 93h2v2h-2zM283 95h2v2h-2zM299 95h2v2h-2zM317 95h2v2h-2zM373 95h2v2h-2zM436 95h2v2h-2zM440 95h2v2h-2zM472 95h2v2h-2zM259 97h2v2h-2zM297 97h4v2h-4zM389 97h2v2h-2zM452 97h2v2h-2zM269 99h2v2h-2zM405 99h2v2h-2zM422 99h2v2h-2zM430 99h2v2h-2zM452 101h2v2h-2zM301 103h2v2h-2zM317 103h2v2h-2zM440 103h2v2h-2zM409 105h2v2h-2zM454 105h2v2h-2zM462 105h2v2h-2zM269 107h2v2h-2zM283 107h2v2h-2zM295 107h2v2h-2zM309 107h2v2h-2zM355 107h2v2h-2zM454 107h2v2h-2zM279 109h2v2h-2zM263 111h2v2h-2zM275 111h2v2h-2zM279 111h4v2h-4zM307 111h2v2h-2zM321 111h2v2h-2zM480 111h2v2h-2zM263 113h2v2h-2zM321 113h2v2h-2zM333 113h4v2h-4zM436 113h2v2h-2zM317 115h2v2h-2zM323 115h2v2h-2zM446 115h2v2h-2zM263 117h2v2h-2zM275 117h2v2h-2zM349 117h2v2h-2zM391 117h2v2h-2zM420 117h2v2h-2zM450 117h2v2h-2zM329 119h2v2h-2zM339 119h2v2h-2zM349 119h2v2h-2zM389 119h2v2h-2zM267 121h2v2h-2zM347 121h2v2h-2zM440 121h4v2h-4zM273 123h2v2h-2zM283 123h2v2h-2zM315 123h2v2h-2zM339 123h2v2h-2zM359 123h2v2h-2zM363 123h2v2h-2zM265 125h2v2h-2zM283 125h2v2h-2zM291 125h4v2h-4zM297 125h2v2h-2zM315 125h2v2h-2zM319 125h2v2h-2zM331 125h2v2h-2zM337 125h2v2h-2zM373 125h2v2h-2zM462 125h2v2h-2zM478 125h2v2h-2zM488 125h2v2h-2zM492 125h2v2h-2zM291 127h4v2h-4zM331 127h2v2h-2zM452 127h2v2h-2zM265 129h2v2h-2zM321 129h2v2h-2zM337 129h2v2h-2zM458 129h2v2h-2zM345 131h2v2h-2zM381 131h2v2h-2zM420 131h2v2h-2zM436 131h2v2h-2zM468 131h2v2h-2zM478 131h2v2h-2zM315 133h2v2h-2zM321 133h2v2h-2zM335 133h2v2h-2zM426 133h2v2h-2zM438 133h2v2h-2zM267 135h2v2h-2zM305 135h2v2h-2zM319 135h2v2h-2zM381 135h2v2h-2zM393 135h2v2h-2zM436 139h2v2h-2zM333 141h2v2h-2zM385 141h2v2h-2zM458 141h2v2h-2zM315 143h2v2h-2zM341 143h2v2h-2zM357 143h2v2h-2zM367 143h2v2h-2zM416 143h2v2h-2zM440 143h2v2h-2zM275 145h2v2h-2zM335 145h2v2h-2zM363 145h2v2h-2zM381 145h2v2h-2zM409 145h2v2h-2zM448 145h2v2h-2zM285 147h2v2h-2zM333 147h2v2h-2zM347 147h2v2h-2zM371 147h2v2h-2zM444 147h2v2h-2zM269 149h2v2h-2zM285 149h2v2h-2zM323 149h2v2h-2zM409 149h2v2h-2zM420 149h2v2h-2zM269 151h2v2h-2zM279 151h2v2h-2zM295 151h2v2h-2zM315 151h2v2h-2zM319 151h6v2h-6zM327 151h2v2h-2zM411 151h2v2h-2zM277 153h6v2h-6zM285 153h2v2h-2zM289 153h2v2h-2zM345 153h2v2h-2zM355 153h2v2h-2zM369 153h2v2h-2zM269 155h2v2h-2zM275 155h2v2h-2zM295 155h2v2h-2zM301 155h2v2h-2zM361 155h2v2h-2zM377 155h2v2h-2zM405 155h2v2h-2zM271 157h2v2h-2zM281 157h2v2h-2zM291 157h2v2h-2zM295 157h2v2h-2zM347 157h2v2h-2zM353 157h2v2h-2zM369 157h2v2h-2zM411 157h2v2h-2zM424 157h2v2h-2zM279 159h4v2h-4zM283 161h2v2h-2zM287 161h2v2h-2zM293 161h2v2h-2zM361 161h2v2h-2zM377 161h6v2h-6zM405 161h2v2h-2zM355 163h2v2h-2zM373 163h2v2h-2zM387 163h2v2h-2zM273 165h2v2h-2zM277 165h2v2h-2zM283 165h4v2h-4zM359 165h2v2h-2zM277 167h2v2h-2zM375 167h2v2h-2zM275 169h2v2h-2zM283 169h2v2h-2zM283 173h2v2h-2zM371 173h2v2h-2zM283 177h2v2h-2zM279 179h2v2h-2zM277 181h2v2h-2zM287 188h2v2h-2zM285 190h2v2h-2zM285 196h4v2h-4zM287 202h2v2h-2zM289 204h2v2h-2zM301 232h2v2h-2zM305 234h2v2h-2zM303 236h2v2h-2zM305 238h2v2h-2zM309 246h2v2h-2zM311 248h4v2h-4zM315 250h2v2h-2zM317 258h2v2h-2zM321 260h2v2h-2zM325 262h2v2h-2zM325 266h2v2h-2zM329 274h2v2h-2zM335 278h2v2h-2zM335 282h2v2h-2zM339 282h2v2h-2zM343 288h2v2h-2zM349 300h2v2h-2z"/><path fill="#24868e" d="M309 21h2v2h-2zM295 23h2v2h-2zM319 23h2v2h-2zM349 23h2v2h-2zM373 23h2v2h-2zM263 25h2v2h-2zM283 25h2v2h-2zM327 27h2v2h-2zM315 29h2v2h-2zM323 29h2v2h-2zM438 31h2v2h-2zM462 31h2v2h-2zM468 31h2v2h-2zM267 33h2v2h-2zM283 33h4v2h-4zM327 33h2v2h-2zM407 33h2v2h-2zM426 35h2v2h-2zM281 37h2v2h-2zM287 37h2v2h-2zM369 37h2v2h-2zM391 37h4v2h-4zM413 37h3v2h-3zM476 37h2v2h-2zM347 39h2v2h-2zM395 39h2v2h-2zM411 39h2v2h-2zM323 41h2v2h-2zM355 41h2v2h-2zM397 41h2v2h-2zM413 41h3v2h-3zM442 41h2v2h-2zM259 43h2v2h-2zM287 43h2v2h-2zM309 43h2v2h-2zM420 43h2v2h-2zM311 45h2v2h-2zM357 45h2v2h-2zM395 45h2v2h-2zM267 47h2v2h-2zM307 49h2v2h-2zM319 49h2v2h-2zM375 49h2v2h-2zM295 51h2v2h-2zM373 51h2v2h-2zM377 51h2v2h-2zM277 53h2v2h-2zM283 53h2v2h-2zM289 53h2v2h-2zM373 53h2v2h-2zM379 53h2v2h-2zM389 53h2v2h-2zM393 53h2v2h-2zM464 53h2v2h-2zM265 55h2v2h-2zM279 55h2v2h-2zM359 55h2v2h-2zM478 55h2v2h-2zM490 55h2v2h-2zM293 57h2v2h-2zM416 61h2v2h-2zM269 63h2v2h-2zM335 63h2v2h-2zM405 63h2v2h-2zM440 63h2v2h-2zM488 63h2v2h-2zM293 65h2v2h-2zM307 65h4v2h-4zM319 65h2v2h-2zM351 65h2v2h-2zM401 65h2v2h-2zM454 65h2v2h-2zM289 67h2v2h-2zM311 69h2v2h-2zM343 69h2v2h-2zM403 69h2v2h-2zM480 69h2v2h-2zM277 71h2v2h-2zM291 71h2v2h-2zM361 71h2v2h-2zM420 71h2v2h-2zM428 71h2v2h-2zM409 73h2v2h-2zM454 73h2v2h-2zM257 75h2v2h-2zM323 75h2v2h-2zM337 75h2v2h-2zM341 75h2v2h-2zM265 77h4v2h-4zM277 77h2v2h-2zM355 77h2v2h-2zM401 77h2v2h-2zM409 77h2v2h-2zM432 77h2v2h-2zM407 79h2v2h-2zM424 79h2v2h-2zM436 79h2v2h-2zM486 79h2v2h-2zM257 81h2v2h-2zM277 81h2v2h-2zM357 81h2v2h-2zM375 81h2v2h-2zM484 81h2v2h-2zM281 85h2v2h-2zM325 85h2v2h-2zM275 87h2v2h-2zM411 87h2v2h-2zM289 89h2v2h-2zM285 91h2v2h-2zM311 91h2v2h-2zM281 93h2v2h-2zM267 95h2v2h-2zM277 95h2v2h-2zM301 95h2v2h-2zM325 95h2v2h-2zM460 95h2v2h-2zM464 95h2v2h-2zM484 95h2v2h-2zM305 97h4v2h-4zM359 97h2v2h-2zM257 99h2v2h-2zM263 99h2v2h-2zM267 99h2v2h-2zM303 99h2v2h-2zM488 99h2v2h-2zM269 101h2v2h-2zM303 101h2v2h-2zM428 101h2v2h-2zM486 101h2v2h-2zM291 103h2v2h-2zM319 103h2v2h-2zM349 103h2v2h-2zM329 105h2v2h-2zM343 105h2v2h-2zM397 105h2v2h-2zM411 105h2v2h-2zM442 105h2v2h-2zM271 107h2v2h-2zM371 107h2v2h-2zM399 107h2v2h-2zM420 107h2v2h-2zM273 109h4v2h-4zM317 109h2v2h-2zM381 109h2v2h-2zM411 109h2v2h-2zM442 109h2v2h-2zM452 109h2v2h-2zM289 111h2v2h-2zM303 111h2v2h-2zM331 111h2v2h-2zM440 111h2v2h-2zM285 113h2v2h-2zM401 113h4v2h-4zM434 113h2v2h-2zM293 115h2v2h-2zM335 115h2v2h-2zM420 115h2v2h-2zM464 115h2v2h-2zM484 115h2v2h-2zM492 115h2v2h-2zM271 117h2v2h-2zM277 117h2v2h-2zM283 117h2v2h-2zM335 117h2v2h-2zM418 117h2v2h-2zM438 117h2v2h-2zM468 117h2v2h-2zM343 119h2v2h-2zM273 121h2v2h-2zM452 121h2v2h-2zM285 123h2v2h-2zM299 123h2v2h-2zM307 123h2v2h-2zM416 123h2v2h-2zM438 123h2v2h-2zM299 125h2v2h-2zM317 125h2v2h-2zM325 125h2v2h-2zM385 125h2v2h-2zM436 125h2v2h-2zM448 125h2v2h-2zM484 125h2v2h-2zM335 127h2v2h-2zM434 127h2v2h-2zM444 127h2v2h-2zM291 129h2v2h-2zM303 129h2v2h-2zM325 129h2v2h-2zM365 129h2v2h-2zM297 131h2v2h-2zM301 131h2v2h-2zM307 131h2v2h-2zM343 131h2v2h-2zM377 131h2v2h-2zM434 131h2v2h-2zM277 133h2v2h-2zM343 133h2v2h-2zM279 135h2v2h-2zM315 135h2v2h-2zM359 135h2v2h-2zM365 135h4v2h-4zM285 137h2v2h-2zM303 137h2v2h-2zM329 137h4v2h-4zM341 137h2v2h-2zM434 137h4v2h-4zM462 137h2v2h-2zM301 139h2v2h-2zM349 139h2v2h-2zM432 139h2v2h-2zM305 141h2v2h-2zM313 141h2v2h-2zM351 141h2v2h-2zM391 141h2v2h-2zM432 141h2v2h-2zM271 143h2v2h-2zM279 143h2v2h-2zM329 143h2v2h-2zM365 143h2v2h-2zM267 145h2v2h-2zM271 145h2v2h-2zM321 145h2v2h-2zM432 145h2v2h-2zM444 145h2v2h-2zM267 147h2v2h-2zM341 147h2v2h-2zM361 147h2v2h-2zM273 149h2v2h-2zM277 149h2v2h-2zM281 149h2v2h-2zM289 149h2v2h-2zM293 149h2v2h-2zM355 149h2v2h-2zM383 149h2v2h-2zM289 151h2v2h-2zM299 151h2v2h-2zM313 151h2v2h-2zM349 151h2v2h-2zM395 151h2v2h-2zM269 153h2v2h-2zM291 153h2v2h-2zM299 153h4v2h-4zM305 153h2v2h-2zM347 153h4v2h-4zM297 155h4v2h-4zM391 155h2v2h-2zM361 157h2v2h-2zM375 157h2v2h-2zM395 157h2v2h-2zM271 159h2v2h-2zM357 159h2v2h-2zM361 159h2v2h-2zM389 159h2v2h-2zM291 161h2v2h-2zM367 161h2v2h-2zM373 161h2v2h-2zM273 163h2v2h-2zM379 163h2v2h-2zM373 165h2v2h-2zM377 165h2v2h-2zM395 165h2v2h-2zM397 167h2v2h-2zM273 169h2v2h-2zM381 169h2v2h-2zM287 179h2v2h-2zM287 186h2v2h-2zM283 190h2v2h-2zM287 190h2v2h-2zM287 192h2v2h-2zM309 240h2v2h-2zM317 254h2v2h-2zM315 256h2v2h-2zM321 258h2v2h-2zM323 262h2v2h-2zM337 278h2v2h-2zM339 288h2v2h-2zM343 290h2v2h-2zM343 292h2v2h-2z"/><path fill="#238a8d" d="M345 21h2v2h-2zM333 23h2v2h-2zM442 23h2v2h-2zM307 25h2v2h-2zM279 27h2v2h-2zM331 27h2v2h-2zM413 27h3v2h-3zM490 27h2v2h-2zM367 29h2v2h-2zM389 31h2v2h-2zM492 31h2v2h-2zM303 33h2v2h-2zM442 33h2v2h-2zM319 35h2v2h-2zM323 35h2v2h-2zM349 35h2v2h-2zM375 35h2v2h-2zM452 35h2v2h-2zM313 37h2v2h-2zM381 37h2v2h-2zM395 37h2v2h-2zM353 39h2v2h-2zM407 39h2v2h-2zM309 41h2v2h-2zM347 41h2v2h-2zM383 41h2v2h-2zM293 43h2v2h-2zM325 43h2v2h-2zM273 45h2v2h-2zM297 45h2v2h-2zM317 45h2v2h-2zM373 45h2v2h-2zM391 47h2v2h-2zM454 47h2v2h-2zM313 49h2v2h-2zM333 51h2v2h-2zM357 51h2v2h-2zM387 51h2v2h-2zM325 53h2v2h-2zM345 53h2v2h-2zM422 53h2v2h-2zM267 55h2v2h-2zM351 55h2v2h-2zM355 55h2v2h-2zM387 55h2v2h-2zM391 55h2v2h-2zM474 55h2v2h-2zM353 57h2v2h-2zM494 57h2v2h-2zM349 59h2v2h-2zM369 59h2v2h-2zM389 59h2v2h-2zM399 59h2v2h-2zM261 61h2v2h-2zM297 61h2v2h-2zM472 61h2v2h-2zM307 63h2v2h-2zM331 63h2v2h-2zM444 63h2v2h-2zM452 63h2v2h-2zM263 65h2v2h-2zM305 65h2v2h-2zM411 65h2v2h-2zM490 65h2v2h-2zM319 67h2v2h-2zM428 67h4v2h-4zM323 69h2v2h-2zM329 69h2v2h-2zM337 69h2v2h-2zM281 71h2v2h-2zM387 71h4v2h-4zM405 71h2v2h-2zM418 71h2v2h-2zM456 71h2v2h-2zM347 73h2v2h-2zM363 73h2v2h-2zM434 73h2v2h-2zM335 75h2v2h-2zM353 75h2v2h-2zM426 75h2v2h-2zM275 77h2v2h-2zM490 77h2v2h-2zM468 79h2v2h-2zM484 79h2v2h-2zM281 81h2v2h-2zM349 81h2v2h-2zM401 81h2v2h-2zM409 81h2v2h-2zM413 81h3v2h-3zM450 81h2v2h-2zM460 81h2v2h-2zM478 81h2v2h-2zM448 83h2v2h-2zM454 83h2v2h-2zM492 83h2v2h-2zM347 85h4v2h-4zM454 85h2v2h-2zM261 87h2v2h-2zM329 87h2v2h-2zM331 89h2v2h-2zM349 89h2v2h-2zM369 89h2v2h-2zM407 89h2v2h-2zM281 91h2v2h-2zM351 91h2v2h-2zM411 91h2v2h-2zM458 91h2v2h-2zM474 91h2v2h-2zM297 93h2v2h-2zM383 93h2v2h-2zM407 93h2v2h-2zM285 95h2v2h-2zM422 95h2v2h-2zM444 95h2v2h-2zM456 95h2v2h-2zM255 97h2v2h-2zM263 97h2v2h-2zM450 97h2v2h-2zM299 99h2v2h-2zM319 99h2v2h-2zM367 99h2v2h-2zM401 99h2v2h-2zM434 99h2v2h-2zM259 101h2v2h-2zM267 101h2v2h-2zM311 101h2v2h-2zM323 101h2v2h-2zM347 101h2v2h-2zM351 101h2v2h-2zM373 101h2v2h-2zM321 103h2v2h-2zM416 103h2v2h-2zM426 103h2v2h-2zM438 103h2v2h-2zM269 105h2v2h-2zM295 105h2v2h-2zM307 105h2v2h-2zM399 105h2v2h-2zM466 105h2v2h-2zM289 107h2v2h-2zM293 107h2v2h-2zM377 107h2v2h-2zM430 107h2v2h-2zM440 107h2v2h-2zM271 109h2v2h-2zM311 109h2v2h-2zM323 109h2v2h-2zM329 109h2v2h-2zM359 109h2v2h-2zM401 109h2v2h-2zM405 109h2v2h-2zM466 109h2v2h-2zM283 111h2v2h-2zM317 111h2v2h-2zM345 111h2v2h-2zM395 111h2v2h-2zM446 111h2v2h-2zM492 111h2v2h-2zM281 113h2v2h-2zM297 113h2v2h-2zM343 113h2v2h-2zM261 115h4v2h-4zM331 115h4v2h-4zM337 115h2v2h-2zM345 115h2v2h-2zM369 115h2v2h-2zM381 115h2v2h-2zM259 117h2v2h-2zM285 117h2v2h-2zM301 117h2v2h-2zM307 117h2v2h-2zM371 117h2v2h-2zM393 117h6v2h-6zM287 119h2v2h-2zM309 119h4v2h-4zM381 119h2v2h-2zM462 119h2v2h-2zM484 119h2v2h-2zM307 121h4v2h-4zM317 121h2v2h-2zM331 121h2v2h-2zM383 121h2v2h-2zM426 121h2v2h-2zM474 121h2v2h-2zM291 123h2v2h-2zM319 123h2v2h-2zM353 123h2v2h-2zM365 123h2v2h-2zM484 123h2v2h-2zM327 125h2v2h-2zM341 125h2v2h-2zM353 125h2v2h-2zM359 125h4v2h-4zM367 125h2v2h-2zM411 125h2v2h-2zM426 125h2v2h-2zM430 125h2v2h-2zM444 125h2v2h-2zM476 125h2v2h-2zM345 127h2v2h-2zM428 127h2v2h-2zM450 127h2v2h-2zM474 127h2v2h-2zM279 129h2v2h-2zM285 129h2v2h-2zM293 129h2v2h-2zM297 129h2v2h-2zM317 129h4v2h-4zM331 129h2v2h-2zM341 129h2v2h-2zM351 129h2v2h-2zM357 129h2v2h-2zM442 129h2v2h-2zM267 131h2v2h-2zM293 131h2v2h-2zM299 131h2v2h-2zM317 131h2v2h-2zM395 131h2v2h-2zM474 131h2v2h-2zM267 133h2v2h-2zM297 133h2v2h-2zM339 133h2v2h-2zM371 133h2v2h-2zM375 133h2v2h-2zM389 133h2v2h-2zM393 133h2v2h-2zM407 133h2v2h-2zM446 133h2v2h-2zM281 135h2v2h-2zM301 135h2v2h-2zM317 135h2v2h-2zM331 135h2v2h-2zM337 135h2v2h-2zM345 135h2v2h-2zM351 135h2v2h-2zM361 135h2v2h-2zM454 135h2v2h-2zM305 137h2v2h-2zM315 137h4v2h-4zM339 137h2v2h-2zM363 137h2v2h-2zM379 137h2v2h-2zM311 139h2v2h-2zM319 139h2v2h-2zM325 139h6v2h-6zM341 139h4v2h-4zM363 139h2v2h-2zM401 139h2v2h-2zM416 139h2v2h-2zM438 139h2v2h-2zM452 139h2v2h-2zM353 141h2v2h-2zM438 141h2v2h-2zM446 141h2v2h-2zM275 143h2v2h-2zM307 143h2v2h-2zM321 143h2v2h-2zM331 143h2v2h-2zM377 143h4v2h-4zM277 145h2v2h-2zM313 145h2v2h-2zM327 145h4v2h-4zM353 145h4v2h-4zM393 145h2v2h-2zM436 145h2v2h-2zM275 147h4v2h-4zM287 147h4v2h-4zM307 147h2v2h-2zM311 147h2v2h-2zM343 147h2v2h-2zM291 149h2v2h-2zM295 149h2v2h-2zM305 149h2v2h-2zM315 149h2v2h-2zM337 149h2v2h-2zM367 149h2v2h-2zM395 149h2v2h-2zM418 149h2v2h-2zM273 151h2v2h-2zM287 151h2v2h-2zM311 151h2v2h-2zM337 151h2v2h-2zM369 151h2v2h-2zM389 151h2v2h-2zM420 151h2v2h-2zM333 153h2v2h-2zM277 155h2v2h-2zM291 155h2v2h-2zM353 155h2v2h-2zM383 155h2v2h-2zM357 157h2v2h-2zM387 157h2v2h-2zM273 159h2v2h-2zM293 159h2v2h-2zM397 161h2v2h-2zM291 163h2v2h-2zM369 165h2v2h-2zM281 169h2v2h-2zM365 169h2v2h-2zM373 171h4v2h-4zM383 171h2v2h-2zM375 173h2v2h-2zM275 177h2v2h-2zM279 177h2v2h-2zM375 177h2v2h-2zM287 183h2v3h-2zM285 188h2v2h-2zM281 190h2v2h-2zM289 206h2v2h-2zM311 244h2v2h-2zM309 248h2v2h-2zM319 256h2v2h-2zM323 268h4v2h-4zM325 270h2v2h-2zM339 284h2v2h-2zM339 290h2v2h-2zM347 298h2v2h-2z"/><path fill="#218e8d" d="M281 25h2v2h-2zM305 25h2v2h-2zM323 25h2v2h-2zM345 25h2v2h-2zM375 25h2v2h-2zM424 25h2v2h-2zM297 27h2v2h-2zM303 27h2v2h-2zM426 27h2v2h-2zM480 27h2v2h-2zM430 29h2v2h-2zM273 31h2v2h-2zM341 31h2v2h-2zM466 31h2v2h-2zM341 33h2v2h-2zM355 33h2v2h-2zM422 33h2v2h-2zM271 35h2v2h-2zM289 35h2v2h-2zM418 35h2v2h-2zM363 37h2v2h-2zM416 37h2v2h-2zM333 39h2v2h-2zM492 39h2v2h-2zM283 41h2v2h-2zM357 41h2v2h-2zM363 41h2v2h-2zM339 43h2v2h-2zM363 43h2v2h-2zM379 43h2v2h-2zM488 43h2v2h-2zM263 45h2v2h-2zM269 45h2v2h-2zM331 45h4v2h-4zM381 45h2v2h-2zM418 45h2v2h-2zM422 45h2v2h-2zM299 47h2v2h-2zM331 47h2v2h-2zM325 49h2v2h-2zM361 49h2v2h-2zM371 49h2v2h-2zM444 49h2v2h-2zM470 49h2v2h-2zM385 53h2v2h-2zM460 53h2v2h-2zM281 55h2v2h-2zM309 55h2v2h-2zM454 55h2v2h-2zM462 55h2v2h-2zM307 57h2v2h-2zM373 57h2v2h-2zM379 57h2v2h-2zM363 59h2v2h-2zM377 59h4v2h-4zM403 59h2v2h-2zM450 59h2v2h-2zM458 59h2v2h-2zM387 61h2v2h-2zM397 61h2v2h-2zM317 63h2v2h-2zM430 63h2v2h-2zM355 65h2v2h-2zM359 65h2v2h-2zM375 65h2v2h-2zM478 65h2v2h-2zM297 67h2v2h-2zM313 67h2v2h-2zM341 67h2v2h-2zM369 67h2v2h-2zM387 67h2v2h-2zM305 69h2v2h-2zM273 71h2v2h-2zM279 71h2v2h-2zM269 73h2v2h-2zM317 73h2v2h-2zM486 73h2v2h-2zM327 75h2v2h-2zM333 75h2v2h-2zM349 75h2v2h-2zM365 75h2v2h-2zM377 75h2v2h-2zM460 75h2v2h-2zM325 77h2v2h-2zM373 77h2v2h-2zM389 77h2v2h-2zM285 79h2v2h-2zM347 79h2v2h-2zM385 79h2v2h-2zM446 79h2v2h-2zM299 81h2v2h-2zM373 81h2v2h-2zM335 83h2v2h-2zM353 83h2v2h-2zM365 83h2v2h-2zM371 83h2v2h-2zM466 83h2v2h-2zM353 85h2v2h-2zM403 85h2v2h-2zM456 85h2v2h-2zM462 85h2v2h-2zM474 85h2v2h-2zM383 87h2v2h-2zM399 87h2v2h-2zM409 87h2v2h-2zM446 87h2v2h-2zM472 87h2v2h-2zM283 89h2v2h-2zM373 89h2v2h-2zM381 89h2v2h-2zM263 91h2v2h-2zM337 91h2v2h-2zM319 95h2v2h-2zM367 95h2v2h-2zM399 95h2v2h-2zM428 95h2v2h-2zM448 95h2v2h-2zM474 95h2v2h-2zM321 97h2v2h-2zM349 97h2v2h-2zM373 97h2v2h-2zM385 97h2v2h-2zM409 97h2v2h-2zM413 97h3v2h-3zM317 99h2v2h-2zM377 99h2v2h-2zM476 99h2v2h-2zM484 99h2v2h-2zM305 101h2v2h-2zM321 101h2v2h-2zM305 103h2v2h-2zM389 103h2v2h-2zM409 103h2v2h-2zM478 103h2v2h-2zM283 105h2v2h-2zM299 105h2v2h-2zM317 105h2v2h-2zM379 105h2v2h-2zM403 105h2v2h-2zM420 105h2v2h-2zM321 107h2v2h-2zM339 107h2v2h-2zM361 107h2v2h-2zM333 111h2v2h-2zM339 113h2v2h-2zM349 113h2v2h-2zM393 113h2v2h-2zM416 113h2v2h-2zM426 113h2v2h-2zM267 115h2v2h-2zM277 115h2v2h-2zM283 115h2v2h-2zM361 115h2v2h-2zM279 117h2v2h-2zM295 117h2v2h-2zM299 117h2v2h-2zM305 117h2v2h-2zM323 117h2v2h-2zM337 117h2v2h-2zM363 117h2v2h-2zM373 117h2v2h-2zM377 117h2v2h-2zM291 119h2v2h-2zM299 119h2v2h-2zM323 119h2v2h-2zM333 119h2v2h-2zM418 119h2v2h-2zM450 119h2v2h-2zM466 119h2v2h-2zM269 121h2v2h-2zM339 121h2v2h-2zM367 121h2v2h-2zM432 121h2v2h-2zM456 121h2v2h-2zM464 121h2v2h-2zM295 123h4v2h-4zM337 123h2v2h-2zM355 123h2v2h-2zM440 123h2v2h-2zM323 125h2v2h-2zM329 125h2v2h-2zM349 125h2v2h-2zM486 125h2v2h-2zM283 127h2v2h-2zM307 127h2v2h-2zM315 127h2v2h-2zM323 127h2v2h-2zM343 127h2v2h-2zM357 127h2v2h-2zM454 127h2v2h-2zM267 129h2v2h-2zM305 129h2v2h-2zM327 129h2v2h-2zM401 129h2v2h-2zM285 131h2v2h-2zM289 131h2v2h-2zM325 131h2v2h-2zM329 131h2v2h-2zM347 131h2v2h-2zM353 131h2v2h-2zM373 131h2v2h-2zM452 131h2v2h-2zM458 131h2v2h-2zM462 131h2v2h-2zM323 133h2v2h-2zM331 133h4v2h-4zM369 133h2v2h-2zM373 133h2v2h-2zM381 133h2v2h-2zM399 133h2v2h-2zM411 133h2v2h-2zM420 133h2v2h-2zM273 135h2v2h-2zM307 135h4v2h-4zM349 135h2v2h-2zM389 135h2v2h-2zM399 135h2v2h-2zM440 135h2v2h-2zM299 137h4v2h-4zM343 137h2v2h-2zM357 137h2v2h-2zM440 137h2v2h-2zM309 139h2v2h-2zM317 139h2v2h-2zM339 139h2v2h-2zM353 139h2v2h-2zM365 139h2v2h-2zM311 141h2v2h-2zM345 141h2v2h-2zM387 141h2v2h-2zM436 141h2v2h-2zM277 143h2v2h-2zM339 143h2v2h-2zM397 143h2v2h-2zM273 145h2v2h-2zM289 145h2v2h-2zM325 145h2v2h-2zM337 145h2v2h-2zM357 145h2v2h-2zM319 147h2v2h-2zM331 147h2v2h-2zM355 147h2v2h-2zM363 147h2v2h-2zM383 147h2v2h-2zM387 147h2v2h-2zM409 147h2v2h-2zM418 147h2v2h-2zM309 149h2v2h-2zM317 149h2v2h-2zM341 149h2v2h-2zM347 149h2v2h-2zM353 149h2v2h-2zM363 149h4v2h-4zM371 149h2v2h-2zM389 149h2v2h-2zM333 151h2v2h-2zM375 151h2v2h-2zM381 151h2v2h-2zM385 151h2v2h-2zM430 151h2v2h-2zM343 153h2v2h-2zM375 153h4v2h-4zM426 153h2v2h-2zM283 155h2v2h-2zM351 155h2v2h-2zM367 155h4v2h-4zM399 155h2v2h-2zM297 157h2v2h-2zM287 159h2v2h-2zM363 159h4v2h-4zM373 159h2v2h-2zM379 159h4v2h-4zM407 159h2v2h-2zM385 161h2v2h-2zM377 163h2v2h-2zM383 163h2v2h-2zM287 165h2v2h-2zM391 165h2v2h-2zM279 167h2v2h-2zM385 167h2v2h-2zM389 167h2v2h-2zM397 169h2v2h-2zM377 171h2v2h-2zM385 171h2v2h-2zM277 175h2v2h-2zM287 175h2v2h-2zM375 175h4v2h-4zM287 194h2v2h-2zM283 198h2v2h-2zM307 244h2v2h-2zM319 254h2v2h-2zM321 256h2v2h-2zM319 262h4v2h-4zM331 272h2v2h-2zM329 276h2v2h-2zM333 282h2v2h-2zM335 284h2v2h-2zM351 300h2v2h-2z"/><path fill="#20928c" d="M281 23h2v2h-2zM347 23h2v2h-2zM371 23h2v2h-2zM391 23h2v2h-2zM452 23h2v2h-2zM269 25h2v2h-2zM365 25h2v2h-2zM413 25h3v2h-3zM311 27h2v2h-2zM297 29h2v2h-2zM331 29h2v2h-2zM289 31h2v2h-2zM357 31h2v2h-2zM385 31h2v2h-2zM401 31h2v2h-2zM409 31h2v2h-2zM428 31h2v2h-2zM413 33h3v2h-3zM335 35h2v2h-2zM367 35h4v2h-4zM351 37h2v2h-2zM434 37h2v2h-2zM424 39h2v2h-2zM263 41h2v2h-2zM301 41h2v2h-2zM343 41h2v2h-2zM403 41h2v2h-2zM279 43h2v2h-2zM297 43h2v2h-2zM315 43h2v2h-2zM416 43h2v2h-2zM466 43h2v2h-2zM265 45h2v2h-2zM367 47h2v2h-2zM403 47h2v2h-2zM295 49h2v2h-2zM377 49h2v2h-2zM271 51h2v2h-2zM303 51h2v2h-2zM311 51h2v2h-2zM361 53h2v2h-2zM403 53h2v2h-2zM329 55h2v2h-2zM341 55h2v2h-2zM365 55h2v2h-2zM432 55h2v2h-2zM442 55h2v2h-2zM295 57h2v2h-2zM365 57h2v2h-2zM333 59h2v2h-2zM341 59h2v2h-2zM353 59h2v2h-2zM365 59h2v2h-2zM464 59h2v2h-2zM468 59h2v2h-2zM271 61h2v2h-2zM293 61h2v2h-2zM311 61h2v2h-2zM365 61h2v2h-2zM381 61h2v2h-2zM277 63h2v2h-2zM329 63h2v2h-2zM424 63h2v2h-2zM333 65h2v2h-2zM407 65h2v2h-2zM275 67h2v2h-2zM287 67h2v2h-2zM361 67h2v2h-2zM375 67h2v2h-2zM279 69h2v2h-2zM295 69h2v2h-2zM413 69h3v2h-3zM269 71h2v2h-2zM379 71h2v2h-2zM454 71h2v2h-2zM466 71h2v2h-2zM263 73h2v2h-2zM381 73h2v2h-2zM265 75h2v2h-2zM271 75h2v2h-2zM389 75h2v2h-2zM424 75h2v2h-2zM482 75h2v2h-2zM472 77h2v2h-2zM265 79h2v2h-2zM377 79h2v2h-2zM428 79h2v2h-2zM460 79h2v2h-2zM333 81h2v2h-2zM347 81h2v2h-2zM440 81h2v2h-2zM279 83h2v2h-2zM287 83h2v2h-2zM349 83h2v2h-2zM361 83h2v2h-2zM490 83h2v2h-2zM257 85h2v2h-2zM377 85h2v2h-2zM277 87h2v2h-2zM331 87h2v2h-2zM361 87h2v2h-2zM458 87h2v2h-2zM261 89h2v2h-2zM267 89h2v2h-2zM277 89h2v2h-2zM295 89h2v2h-2zM311 89h2v2h-2zM436 89h2v2h-2zM460 89h4v2h-4zM267 91h2v2h-2zM363 91h2v2h-2zM377 91h2v2h-2zM484 91h2v2h-2zM269 93h2v2h-2zM389 93h2v2h-2zM293 95h2v2h-2zM315 95h2v2h-2zM385 95h2v2h-2zM405 95h2v2h-2zM492 95h2v2h-2zM440 97h2v2h-2zM287 99h2v2h-2zM293 99h2v2h-2zM309 99h2v2h-2zM345 99h2v2h-2zM363 99h2v2h-2zM325 101h2v2h-2zM371 101h2v2h-2zM375 101h2v2h-2zM426 101h2v2h-2zM391 103h4v2h-4zM468 103h2v2h-2zM319 105h2v2h-2zM424 105h4v2h-4zM444 105h2v2h-2zM464 105h2v2h-2zM331 107h2v2h-2zM393 107h2v2h-2zM413 107h3v2h-3zM377 109h2v2h-2zM313 111h2v2h-2zM367 111h2v2h-2zM391 111h2v2h-2zM494 111h2v2h-2zM325 113h2v2h-2zM337 113h2v2h-2zM353 113h2v2h-2zM369 113h2v2h-2zM456 113h2v2h-2zM484 113h2v2h-2zM329 115h2v2h-2zM343 115h2v2h-2zM365 115h2v2h-2zM377 115h2v2h-2zM403 115h2v2h-2zM411 115h2v2h-2zM331 117h2v2h-2zM347 119h2v2h-2zM379 119h2v2h-2zM397 119h4v2h-4zM440 119h2v2h-2zM277 121h4v2h-4zM289 121h2v2h-2zM468 121h2v2h-2zM275 123h2v2h-2zM313 123h2v2h-2zM361 123h2v2h-2zM371 123h2v2h-2zM420 123h2v2h-2zM454 123h2v2h-2zM273 125h2v2h-2zM303 125h2v2h-2zM309 125h2v2h-2zM345 125h2v2h-2zM369 125h2v2h-2zM480 125h2v2h-2zM301 127h2v2h-2zM309 127h2v2h-2zM317 127h4v2h-4zM337 127h2v2h-2zM383 127h2v2h-2zM395 127h2v2h-2zM283 129h2v2h-2zM301 129h2v2h-2zM315 129h2v2h-2zM329 129h2v2h-2zM474 129h2v2h-2zM263 131h2v2h-2zM273 131h2v2h-2zM277 131h4v2h-4zM303 131h4v2h-4zM319 131h2v2h-2zM355 131h2v2h-2zM367 131h2v2h-2zM385 131h2v2h-2zM456 131h2v2h-2zM303 133h2v2h-2zM307 133h2v2h-2zM311 133h2v2h-2zM325 133h2v2h-2zM349 133h2v2h-2zM355 133h2v2h-2zM401 133h2v2h-2zM456 133h2v2h-2zM275 135h2v2h-2zM285 135h2v2h-2zM297 135h2v2h-2zM343 135h2v2h-2zM363 135h2v2h-2zM442 135h2v2h-2zM446 135h2v2h-2zM309 137h2v2h-2zM345 137h2v2h-2zM428 137h2v2h-2zM460 137h2v2h-2zM283 139h2v2h-2zM307 139h2v2h-2zM323 139h2v2h-2zM446 139h2v2h-2zM283 141h2v2h-2zM303 141h2v2h-2zM319 141h2v2h-2zM323 141h2v2h-2zM341 141h2v2h-2zM389 141h2v2h-2zM452 141h2v2h-2zM273 143h2v2h-2zM323 143h2v2h-2zM337 143h2v2h-2zM432 143h2v2h-2zM285 145h2v2h-2zM305 145h2v2h-2zM319 145h2v2h-2zM367 145h2v2h-2zM325 147h2v2h-2zM339 147h2v2h-2zM345 147h2v2h-2zM353 147h2v2h-2zM279 149h2v2h-2zM307 149h2v2h-2zM325 149h2v2h-2zM329 149h2v2h-2zM339 149h2v2h-2zM359 149h2v2h-2zM377 149h2v2h-2zM285 151h2v2h-2zM291 151h2v2h-2zM301 151h2v2h-2zM351 151h2v2h-2zM365 151h2v2h-2zM351 153h4v2h-4zM359 153h2v2h-2zM285 155h2v2h-2zM355 155h2v2h-2zM373 155h2v2h-2zM389 155h2v2h-2zM401 157h2v2h-2zM405 157h2v2h-2zM420 157h2v2h-2zM283 159h2v2h-2zM349 159h2v2h-2zM385 159h2v2h-2zM393 159h2v2h-2zM403 159h2v2h-2zM407 163h2v2h-2zM367 165h2v2h-2zM399 165h2v2h-2zM381 167h2v2h-2zM395 167h2v2h-2zM279 169h2v2h-2zM367 169h4v2h-4zM375 169h4v2h-4zM383 169h2v2h-2zM395 169h2v2h-2zM279 171h2v2h-2zM377 173h2v2h-2zM285 175h2v2h-2zM313 246h2v2h-2zM317 260h2v2h-2zM321 264h2v2h-2zM327 268h2v2h-2zM327 270h2v2h-2zM337 286h2v2h-2z"/><path fill="#1f968b" d="M333 21h2v2h-2zM373 21h2v2h-2zM389 21h2v2h-2zM411 21h2v2h-2zM438 21h2v2h-2zM313 23h2v2h-2zM383 25h2v2h-2zM293 27h2v2h-2zM305 27h2v2h-2zM309 27h2v2h-2zM375 27h2v2h-2zM391 27h2v2h-2zM397 27h2v2h-2zM482 27h2v2h-2zM385 29h2v2h-2zM458 29h2v2h-2zM297 31h2v2h-2zM331 31h2v2h-2zM349 31h2v2h-2zM407 31h2v2h-2zM351 33h2v2h-2zM373 33h2v2h-2zM420 33h2v2h-2zM315 35h2v2h-2zM428 35h2v2h-2zM353 37h2v2h-2zM405 37h2v2h-2zM424 37h2v2h-2zM403 39h2v2h-2zM351 41h2v2h-2zM430 41h2v2h-2zM285 43h2v2h-2zM295 43h2v2h-2zM329 43h2v2h-2zM349 43h2v2h-2zM387 43h2v2h-2zM403 43h2v2h-2zM259 45h2v2h-2zM339 45h2v2h-2zM349 45h2v2h-2zM387 45h2v2h-2zM476 45h2v2h-2zM305 47h2v2h-2zM420 47h2v2h-2zM273 49h2v2h-2zM279 49h2v2h-2zM462 49h2v2h-2zM355 51h2v2h-2zM361 51h2v2h-2zM397 51h2v2h-2zM418 51h2v2h-2zM422 51h2v2h-2zM281 53h2v2h-2zM351 53h2v2h-2zM269 55h2v2h-2zM295 55h2v2h-2zM353 55h2v2h-2zM367 55h2v2h-2zM261 57h2v2h-2zM279 57h2v2h-2zM426 57h2v2h-2zM476 57h2v2h-2zM313 59h2v2h-2zM317 59h2v2h-2zM345 59h2v2h-2zM381 59h2v2h-2zM444 59h2v2h-2zM281 61h2v2h-2zM313 61h2v2h-2zM413 61h3v2h-3zM440 61h2v2h-2zM297 63h2v2h-2zM311 63h2v2h-2zM355 63h2v2h-2zM399 63h2v2h-2zM283 65h2v2h-2zM405 65h2v2h-2zM273 67h2v2h-2zM331 67h2v2h-2zM335 67h2v2h-2zM345 67h2v2h-2zM273 69h2v2h-2zM319 69h2v2h-2zM339 69h2v2h-2zM369 69h2v2h-2zM379 69h2v2h-2zM265 71h2v2h-2zM299 71h2v2h-2zM305 71h2v2h-2zM323 71h2v2h-2zM327 71h2v2h-2zM355 71h2v2h-2zM391 71h2v2h-2zM285 73h2v2h-2zM301 73h2v2h-2zM422 73h2v2h-2zM426 73h2v2h-2zM476 73h2v2h-2zM275 75h2v2h-2zM393 75h2v2h-2zM397 75h2v2h-2zM255 77h2v2h-2zM307 77h2v2h-2zM321 77h4v2h-4zM341 77h2v2h-2zM367 77h2v2h-2zM482 77h2v2h-2zM263 79h2v2h-2zM323 79h2v2h-2zM331 79h2v2h-2zM357 79h2v2h-2zM371 79h2v2h-2zM389 79h2v2h-2zM458 79h2v2h-2zM259 81h2v2h-2zM265 81h2v2h-2zM269 81h2v2h-2zM283 81h2v2h-2zM329 81h2v2h-2zM383 81h2v2h-2zM458 81h2v2h-2zM359 83h2v2h-2zM271 85h2v2h-2zM277 85h2v2h-2zM327 85h2v2h-2zM343 85h2v2h-2zM373 85h2v2h-2zM379 85h2v2h-2zM413 85h3v2h-3zM271 87h2v2h-2zM418 87h2v2h-2zM426 87h2v2h-2zM299 89h4v2h-4zM337 89h2v2h-2zM353 89h2v2h-2zM438 89h2v2h-2zM448 89h2v2h-2zM261 91h2v2h-2zM355 91h4v2h-4zM365 91h2v2h-2zM401 91h2v2h-2zM448 91h4v2h-4zM257 93h2v2h-2zM261 93h2v2h-2zM279 93h2v2h-2zM313 93h2v2h-2zM323 93h2v2h-2zM385 93h2v2h-2zM393 95h2v2h-2zM409 95h2v2h-2zM418 95h2v2h-2zM319 97h2v2h-2zM371 97h2v2h-2zM307 99h2v2h-2zM373 99h2v2h-2zM393 99h2v2h-2zM454 99h2v2h-2zM309 101h2v2h-2zM313 101h2v2h-2zM440 101h2v2h-2zM466 101h2v2h-2zM269 103h2v2h-2zM283 103h2v2h-2zM309 103h2v2h-2zM430 103h2v2h-2zM279 105h2v2h-2zM305 105h2v2h-2zM321 105h2v2h-2zM373 105h2v2h-2zM401 105h2v2h-2zM422 105h2v2h-2zM440 105h2v2h-2zM452 105h2v2h-2zM305 107h2v2h-2zM367 107h2v2h-2zM407 107h2v2h-2zM448 107h2v2h-2zM482 107h2v2h-2zM277 109h2v2h-2zM327 109h2v2h-2zM391 109h2v2h-2zM265 111h2v2h-2zM287 111h2v2h-2zM371 113h2v2h-2zM379 113h2v2h-2zM397 113h2v2h-2zM472 113h2v2h-2zM478 113h2v2h-2zM321 115h2v2h-2zM407 115h2v2h-2zM413 115h3v2h-3zM422 115h2v2h-2zM470 115h2v2h-2zM329 117h2v2h-2zM401 117h2v2h-2zM281 119h2v2h-2zM289 119h2v2h-2zM434 119h2v2h-2zM454 119h2v2h-2zM301 121h2v2h-2zM319 121h2v2h-2zM329 121h2v2h-2zM333 121h2v2h-2zM363 121h2v2h-2zM387 121h2v2h-2zM391 121h2v2h-2zM480 121h2v2h-2zM486 121h2v2h-2zM289 123h2v2h-2zM301 123h2v2h-2zM329 123h4v2h-4zM343 123h2v2h-2zM375 123h4v2h-4zM395 123h2v2h-2zM269 125h2v2h-2zM399 125h2v2h-2zM407 125h2v2h-2zM281 127h2v2h-2zM285 127h2v2h-2zM299 127h2v2h-2zM327 127h2v2h-2zM339 127h2v2h-2zM375 127h2v2h-2zM393 127h2v2h-2zM462 127h2v2h-2zM271 129h2v2h-2zM281 129h2v2h-2zM307 129h4v2h-4zM323 129h2v2h-2zM367 129h2v2h-2zM379 129h2v2h-2zM393 129h2v2h-2zM261 133h2v2h-2zM295 133h2v2h-2zM474 133h2v2h-2zM263 135h2v2h-2zM277 135h2v2h-2zM313 135h2v2h-2zM323 135h2v2h-2zM333 135h2v2h-2zM355 135h2v2h-2zM407 135h2v2h-2zM307 137h2v2h-2zM321 137h2v2h-2zM327 137h2v2h-2zM351 137h2v2h-2zM355 137h2v2h-2zM432 137h2v2h-2zM438 137h2v2h-2zM303 139h4v2h-4zM351 139h2v2h-2zM403 139h2v2h-2zM418 139h2v2h-2zM458 139h2v2h-2zM321 141h2v2h-2zM331 141h2v2h-2zM428 141h2v2h-2zM269 143h2v2h-2zM305 143h2v2h-2zM333 143h2v2h-2zM345 143h2v2h-2zM279 145h2v2h-2zM311 145h2v2h-2zM373 145h2v2h-2zM383 145h2v2h-2zM293 147h2v2h-2zM365 147h4v2h-4zM395 147h2v2h-2zM422 147h2v2h-2zM343 149h4v2h-4zM401 149h2v2h-2zM426 149h2v2h-2zM440 149h2v2h-2zM307 151h2v2h-2zM347 151h2v2h-2zM357 151h2v2h-2zM361 151h2v2h-2zM403 151h2v2h-2zM407 151h2v2h-2zM365 153h2v2h-2zM349 155h2v2h-2zM363 155h2v2h-2zM387 155h2v2h-2zM397 159h4v2h-4zM365 161h2v2h-2zM411 161h2v2h-2zM361 163h2v2h-2zM365 163h2v2h-2zM383 165h2v2h-2zM367 167h2v2h-2zM373 169h2v2h-2zM381 171h2v2h-2zM389 171h2v2h-2zM275 173h2v2h-2zM283 196h2v2h-2zM285 202h2v2h-2zM291 210h2v2h-2zM303 232h2v2h-2zM309 242h2v2h-2zM313 252h2v2h-2zM319 260h2v2h-2zM333 272h2v2h-2z"/><path fill="#1f9a8a" d="M387 21h2v2h-2zM307 23h2v2h-2zM430 23h2v2h-2zM480 23h2v2h-2zM285 25h2v2h-2zM309 25h2v2h-2zM381 25h2v2h-2zM416 25h2v2h-2zM295 27h2v2h-2zM405 27h2v2h-2zM436 27h2v2h-2zM343 29h2v2h-2zM426 31h2v2h-2zM430 31h2v2h-2zM311 33h2v2h-2zM381 33h4v2h-4zM418 33h2v2h-2zM341 35h2v2h-2zM407 35h2v2h-2zM440 35h2v2h-2zM289 37h2v2h-2zM293 37h2v2h-2zM466 37h2v2h-2zM269 39h2v2h-2zM363 39h2v2h-2zM464 41h2v2h-2zM357 43h2v2h-2zM401 43h2v2h-2zM271 45h2v2h-2zM305 45h2v2h-2zM289 47h2v2h-2zM283 49h2v2h-2zM353 49h4v2h-4zM373 49h2v2h-2zM436 49h2v2h-2zM269 51h2v2h-2zM277 51h2v2h-2zM305 51h2v2h-2zM331 51h2v2h-2zM349 51h2v2h-2zM399 51h2v2h-2zM480 51h2v2h-2zM275 53h2v2h-2zM293 53h2v2h-2zM331 53h2v2h-2zM339 53h2v2h-2zM365 53h2v2h-2zM381 53h2v2h-2zM277 57h2v2h-2zM297 57h2v2h-2zM323 57h2v2h-2zM339 57h2v2h-2zM321 59h2v2h-2zM422 59h2v2h-2zM367 61h2v2h-2zM432 61h2v2h-2zM442 61h2v2h-2zM255 63h2v2h-2zM349 63h2v2h-2zM375 63h2v2h-2zM273 65h2v2h-2zM317 65h2v2h-2zM389 65h2v2h-2zM309 67h2v2h-2zM327 69h2v2h-2zM345 69h2v2h-2zM383 69h2v2h-2zM397 69h2v2h-2zM472 69h2v2h-2zM255 71h2v2h-2zM349 71h2v2h-2zM371 71h2v2h-2zM424 71h2v2h-2zM476 71h2v2h-2zM329 73h2v2h-2zM333 73h2v2h-2zM351 73h2v2h-2zM285 75h2v2h-2zM305 75h2v2h-2zM345 75h2v2h-2zM357 75h2v2h-2zM371 75h2v2h-2zM383 75h2v2h-2zM395 75h2v2h-2zM301 77h2v2h-2zM436 77h2v2h-2zM373 79h2v2h-2zM379 79h2v2h-2zM474 79h2v2h-2zM369 81h2v2h-2zM397 81h2v2h-2zM403 81h2v2h-2zM426 81h2v2h-2zM448 81h2v2h-2zM283 83h2v2h-2zM420 83h2v2h-2zM440 83h2v2h-2zM275 85h2v2h-2zM285 85h2v2h-2zM303 85h2v2h-2zM307 85h2v2h-2zM285 87h2v2h-2zM293 87h2v2h-2zM365 87h2v2h-2zM285 89h2v2h-2zM291 89h2v2h-2zM297 89h2v2h-2zM333 89h2v2h-2zM442 89h2v2h-2zM287 91h2v2h-2zM309 91h2v2h-2zM375 91h2v2h-2zM283 93h2v2h-2zM307 93h2v2h-2zM391 93h2v2h-2zM397 93h4v2h-4zM422 93h2v2h-2zM474 93h2v2h-2zM478 93h2v2h-2zM295 95h2v2h-2zM341 95h2v2h-2zM413 95h3v2h-3zM450 95h2v2h-2zM265 97h2v2h-2zM281 97h2v2h-2zM291 97h2v2h-2zM418 97h4v2h-4zM297 99h2v2h-2zM353 99h2v2h-2zM387 99h2v2h-2zM456 99h2v2h-2zM257 101h2v2h-2zM261 101h2v2h-2zM422 101h2v2h-2zM432 101h2v2h-2zM438 101h2v2h-2zM478 101h2v2h-2zM275 103h2v2h-2zM325 103h2v2h-2zM379 103h2v2h-2zM424 103h2v2h-2zM460 103h2v2h-2zM291 105h2v2h-2zM434 105h2v2h-2zM319 107h2v2h-2zM323 107h2v2h-2zM337 107h2v2h-2zM319 109h2v2h-2zM420 109h2v2h-2zM434 109h2v2h-2zM259 111h2v2h-2zM273 111h2v2h-2zM315 111h2v2h-2zM428 111h2v2h-2zM269 113h2v2h-2zM293 113h2v2h-2zM329 113h2v2h-2zM351 113h2v2h-2zM357 113h2v2h-2zM365 113h2v2h-2zM375 113h2v2h-2zM385 113h2v2h-2zM407 113h2v2h-2zM458 113h2v2h-2zM315 115h2v2h-2zM325 115h2v2h-2zM438 115h2v2h-2zM468 115h2v2h-2zM476 115h2v2h-2zM482 115h2v2h-2zM267 117h2v2h-2zM287 117h2v2h-2zM309 117h2v2h-2zM321 117h2v2h-2zM446 117h2v2h-2zM259 119h2v2h-2zM321 119h2v2h-2zM359 119h2v2h-2zM438 119h2v2h-2zM488 119h2v2h-2zM424 121h2v2h-2zM478 121h2v2h-2zM259 123h2v2h-2zM317 123h2v2h-2zM323 123h2v2h-2zM341 123h2v2h-2zM387 123h2v2h-2zM397 123h2v2h-2zM450 123h2v2h-2zM281 125h2v2h-2zM311 125h2v2h-2zM371 125h2v2h-2zM420 125h2v2h-2zM434 125h2v2h-2zM450 125h4v2h-4zM456 125h2v2h-2zM470 125h2v2h-2zM311 127h2v2h-2zM347 127h2v2h-2zM397 127h2v2h-2zM403 127h2v2h-2zM482 127h2v2h-2zM335 129h2v2h-2zM347 129h4v2h-4zM385 129h2v2h-2zM462 129h2v2h-2zM265 131h2v2h-2zM271 131h2v2h-2zM309 131h2v2h-2zM349 131h2v2h-2zM363 131h2v2h-2zM265 133h2v2h-2zM285 133h4v2h-4zM309 133h2v2h-2zM317 133h2v2h-2zM327 133h2v2h-2zM353 133h2v2h-2zM383 133h2v2h-2zM265 135h2v2h-2zM283 135h2v2h-2zM299 135h2v2h-2zM321 135h2v2h-2zM349 137h2v2h-2zM367 137h2v2h-2zM385 137h2v2h-2zM411 137h2v2h-2zM420 137h2v2h-2zM373 139h2v2h-2zM337 141h2v2h-2zM450 141h2v2h-2zM285 143h2v2h-2zM351 143h2v2h-2zM407 143h2v2h-2zM315 145h2v2h-2zM333 145h2v2h-2zM339 145h2v2h-2zM349 145h2v2h-2zM369 145h4v2h-4zM428 145h2v2h-2zM291 147h2v2h-2zM309 147h2v2h-2zM337 147h2v2h-2zM379 147h2v2h-2zM428 147h2v2h-2zM321 149h2v2h-2zM333 149h2v2h-2zM357 149h2v2h-2zM303 151h2v2h-2zM325 151h2v2h-2zM339 151h2v2h-2zM397 151h2v2h-2zM295 153h2v2h-2zM341 153h2v2h-2zM363 153h2v2h-2zM379 153h2v2h-2zM365 155h2v2h-2zM393 155h2v2h-2zM367 157h2v2h-2zM291 159h2v2h-2zM287 163h2v2h-2zM391 163h2v2h-2zM379 165h2v2h-2zM379 169h2v2h-2zM369 171h2v2h-2zM387 171h2v2h-2zM385 175h2v2h-2zM283 194h2v2h-2zM319 252h2v2h-2zM323 264h2v2h-2zM327 264h2v2h-2zM333 276h2v2h-2zM341 284h2v2h-2zM343 296h2v2h-2z"/><path fill="#1f9e89" d="M303 21h2v2h-2zM329 21h2v2h-2zM339 21h2v2h-2zM393 23h2v2h-2zM409 23h2v2h-2zM462 23h2v2h-2zM472 23h2v2h-2zM339 25h2v2h-2zM428 27h2v2h-2zM345 29h2v2h-2zM291 31h2v2h-2zM321 31h2v2h-2zM482 31h2v2h-2zM335 33h2v2h-2zM369 33h2v2h-2zM267 35h2v2h-2zM385 35h2v2h-2zM393 35h2v2h-2zM403 37h2v2h-2zM446 37h2v2h-2zM460 37h2v2h-2zM313 39h2v2h-2zM319 39h2v2h-2zM381 41h2v2h-2zM299 43h2v2h-2zM327 43h2v2h-2zM355 43h2v2h-2zM446 43h2v2h-2zM307 45h2v2h-2zM361 45h2v2h-2zM389 45h2v2h-2zM349 47h4v2h-4zM395 47h2v2h-2zM444 47h2v2h-2zM460 47h2v2h-2zM297 49h2v2h-2zM482 49h2v2h-2zM261 51h2v2h-2zM367 51h2v2h-2zM291 53h2v2h-2zM307 53h2v2h-2zM371 53h2v2h-2zM271 55h2v2h-2zM287 55h2v2h-2zM331 57h2v2h-2zM341 57h2v2h-2zM349 57h2v2h-2zM381 57h2v2h-2zM397 57h2v2h-2zM490 57h2v2h-2zM267 59h2v2h-2zM287 59h2v2h-2zM297 59h2v2h-2zM359 59h2v2h-2zM367 59h2v2h-2zM371 59h2v2h-2zM428 59h2v2h-2zM299 61h2v2h-2zM361 61h2v2h-2zM424 61h2v2h-2zM275 63h2v2h-2zM327 63h2v2h-2zM337 63h2v2h-2zM391 63h2v2h-2zM321 65h2v2h-2zM361 65h2v2h-2zM426 65h2v2h-2zM299 67h2v2h-2zM484 67h2v2h-2zM303 69h2v2h-2zM335 69h2v2h-2zM349 69h2v2h-2zM375 69h2v2h-2zM395 69h2v2h-2zM331 71h2v2h-2zM383 71h2v2h-2zM403 71h2v2h-2zM492 71h4v2h-4zM281 73h4v2h-4zM337 73h2v2h-2zM353 73h2v2h-2zM383 73h2v2h-2zM413 73h3v2h-3zM331 75h2v2h-2zM369 75h2v2h-2zM468 75h2v2h-2zM444 77h2v2h-2zM456 77h2v2h-2zM492 79h2v2h-2zM351 81h2v2h-2zM371 81h2v2h-2zM255 83h2v2h-2zM409 83h2v2h-2zM313 85h2v2h-2zM329 85h2v2h-2zM351 85h2v2h-2zM367 85h2v2h-2zM305 87h4v2h-4zM393 87h2v2h-2zM413 87h3v2h-3zM476 87h2v2h-2zM484 87h2v2h-2zM273 89h2v2h-2zM363 89h2v2h-2zM403 89h2v2h-2zM476 89h2v2h-2zM367 91h2v2h-2zM371 91h2v2h-2zM399 91h2v2h-2zM275 93h2v2h-2zM303 93h2v2h-2zM309 93h2v2h-2zM353 93h2v2h-2zM363 93h2v2h-2zM369 93h2v2h-2zM420 93h2v2h-2zM426 93h2v2h-2zM436 93h2v2h-2zM494 93h2v2h-2zM259 95h2v2h-2zM265 95h2v2h-2zM291 95h2v2h-2zM377 95h2v2h-2zM470 95h2v2h-2zM287 97h2v2h-2zM293 97h2v2h-2zM309 97h2v2h-2zM482 97h2v2h-2zM403 99h2v2h-2zM263 101h2v2h-2zM273 101h2v2h-2zM283 101h2v2h-2zM345 101h2v2h-2zM387 101h2v2h-2zM403 101h2v2h-2zM456 101h2v2h-2zM267 105h2v2h-2zM303 105h2v2h-2zM313 105h2v2h-2zM333 105h2v2h-2zM363 105h2v2h-2zM377 105h2v2h-2zM407 105h2v2h-2zM353 107h2v2h-2zM265 109h6v2h-6zM313 109h2v2h-2zM345 109h2v2h-2zM371 109h2v2h-2zM385 109h2v2h-2zM305 111h2v2h-2zM341 111h2v2h-2zM385 111h2v2h-2zM413 111h3v2h-3zM444 111h2v2h-2zM271 113h2v2h-2zM309 113h2v2h-2zM413 113h3v2h-3zM432 113h2v2h-2zM452 113h2v2h-2zM357 115h2v2h-2zM389 115h2v2h-2zM488 115h2v2h-2zM281 117h2v2h-2zM319 117h2v2h-2zM325 117h4v2h-4zM341 117h2v2h-2zM353 117h6v2h-6zM369 117h2v2h-2zM399 117h2v2h-2zM452 117h2v2h-2zM480 117h2v2h-2zM297 119h2v2h-2zM303 119h2v2h-2zM313 119h2v2h-2zM331 119h2v2h-2zM365 119h2v2h-2zM456 119h2v2h-2zM361 121h2v2h-2zM365 121h2v2h-2zM385 121h2v2h-2zM454 121h2v2h-2zM325 123h2v2h-2zM418 123h2v2h-2zM422 123h2v2h-2zM442 123h2v2h-2zM482 123h2v2h-2zM458 125h2v2h-2zM466 125h2v2h-2zM490 125h2v2h-2zM289 127h2v2h-2zM295 127h2v2h-2zM369 127h2v2h-2zM387 127h2v2h-2zM313 129h2v2h-2zM287 131h2v2h-2zM341 131h2v2h-2zM369 131h4v2h-4zM387 131h2v2h-2zM418 131h2v2h-2zM424 131h2v2h-2zM472 131h2v2h-2zM359 133h2v2h-2zM434 133h2v2h-2zM295 135h2v2h-2zM327 135h2v2h-2zM347 135h2v2h-2zM357 135h2v2h-2zM464 135h2v2h-2zM277 137h2v2h-2zM361 137h2v2h-2zM279 139h2v2h-2zM361 139h2v2h-2zM367 139h2v2h-2zM389 139h2v2h-2zM405 139h2v2h-2zM424 139h2v2h-2zM454 139h2v2h-2zM285 141h2v2h-2zM349 141h2v2h-2zM369 141h2v2h-2zM379 141h2v2h-2zM422 141h2v2h-2zM287 143h2v2h-2zM325 143h2v2h-2zM347 143h2v2h-2zM375 143h2v2h-2zM391 143h2v2h-2zM444 143h2v2h-2zM448 143h2v2h-2zM283 145h2v2h-2zM291 145h2v2h-2zM401 145h2v2h-2zM405 145h2v2h-2zM420 145h2v2h-2zM283 147h2v2h-2zM313 147h2v2h-2zM321 147h2v2h-2zM327 147h2v2h-2zM369 147h2v2h-2zM375 147h2v2h-2zM393 147h2v2h-2zM436 147h2v2h-2zM297 149h2v2h-2zM301 149h4v2h-4zM373 149h2v2h-2zM381 149h2v2h-2zM345 151h2v2h-2zM426 151h2v2h-2zM335 153h2v2h-2zM357 153h2v2h-2zM381 153h2v2h-2zM401 153h2v2h-2zM416 153h2v2h-2zM403 155h2v2h-2zM373 157h2v2h-2zM418 157h2v2h-2zM369 161h4v2h-4zM363 163h2v2h-2zM401 163h2v2h-2zM371 165h2v2h-2zM371 169h2v2h-2zM391 169h2v2h-2zM387 173h4v2h-4zM287 204h2v2h-2zM313 250h2v2h-2zM353 302h2v2h-2z"/><path fill="#1fa187" d="M361 21h2v2h-2zM416 21h2v2h-2zM341 23h2v2h-2zM428 23h2v2h-2zM438 23h2v2h-2zM474 23h2v2h-2zM357 25h2v2h-2zM428 25h2v2h-2zM466 25h2v2h-2zM343 27h2v2h-2zM403 27h2v2h-2zM440 27h2v2h-2zM478 27h2v2h-2zM363 29h2v2h-2zM271 31h2v2h-2zM353 31h2v2h-2zM361 31h2v2h-2zM454 31h2v2h-2zM357 33h2v2h-2zM416 33h2v2h-2zM273 35h2v2h-2zM291 35h2v2h-2zM321 35h2v2h-2zM347 37h2v2h-2zM478 37h2v2h-2zM285 39h2v2h-2zM456 39h2v2h-2zM265 41h2v2h-2zM331 41h2v2h-2zM365 41h2v2h-2zM393 43h4v2h-4zM303 45h2v2h-2zM287 47h2v2h-2zM301 47h2v2h-2zM313 47h2v2h-2zM359 47h2v2h-2zM301 49h2v2h-2zM345 49h2v2h-2zM335 51h2v2h-2zM375 51h2v2h-2zM411 51h2v2h-2zM446 51h2v2h-2zM450 51h2v2h-2zM295 53h2v2h-2zM347 53h2v2h-2zM462 53h2v2h-2zM263 55h2v2h-2zM351 57h2v2h-2zM375 57h2v2h-2zM460 57h2v2h-2zM438 59h2v2h-2zM255 61h2v2h-2zM343 61h2v2h-2zM450 61h2v2h-2zM383 63h2v2h-2zM409 63h2v2h-2zM343 65h2v2h-2zM464 65h2v2h-2zM327 67h2v2h-2zM405 67h2v2h-2zM440 67h2v2h-2zM492 67h2v2h-2zM293 69h2v2h-2zM341 69h2v2h-2zM359 69h2v2h-2zM399 69h2v2h-2zM319 71h2v2h-2zM325 71h2v2h-2zM347 71h2v2h-2zM401 71h2v2h-2zM422 71h2v2h-2zM434 71h2v2h-2zM293 73h2v2h-2zM458 73h2v2h-2zM295 75h4v2h-4zM399 75h2v2h-2zM476 75h2v2h-2zM319 77h2v2h-2zM375 77h2v2h-2zM462 77h4v2h-4zM476 77h2v2h-2zM339 79h2v2h-2zM377 81h2v2h-2zM424 81h2v2h-2zM257 83h2v2h-2zM273 83h2v2h-2zM307 83h2v2h-2zM422 83h2v2h-2zM295 85h2v2h-2zM371 85h2v2h-2zM411 85h2v2h-2zM432 85h2v2h-2zM444 85h2v2h-2zM472 85h2v2h-2zM341 87h2v2h-2zM363 87h2v2h-2zM279 89h2v2h-2zM309 89h2v2h-2zM357 89h2v2h-2zM424 89h2v2h-2zM430 89h2v2h-2zM450 89h2v2h-2zM484 89h2v2h-2zM273 91h2v2h-2zM333 91h2v2h-2zM395 91h2v2h-2zM413 91h3v2h-3zM418 91h2v2h-2zM424 93h2v2h-2zM309 95h2v2h-2zM347 95h2v2h-2zM351 95h2v2h-2zM488 95h2v2h-2zM343 97h2v2h-2zM357 97h2v2h-2zM361 97h2v2h-2zM432 97h2v2h-2zM460 97h2v2h-2zM472 97h2v2h-2zM488 97h2v2h-2zM285 99h2v2h-2zM313 99h2v2h-2zM474 99h2v2h-2zM341 101h2v2h-2zM353 101h2v2h-2zM359 101h2v2h-2zM393 101h2v2h-2zM444 101h2v2h-2zM277 103h4v2h-4zM307 103h2v2h-2zM377 103h2v2h-2zM385 103h2v2h-2zM444 103h2v2h-2zM458 103h2v2h-2zM466 103h2v2h-2zM490 103h2v2h-2zM315 105h2v2h-2zM391 105h2v2h-2zM418 105h2v2h-2zM432 105h2v2h-2zM490 105h2v2h-2zM275 107h2v2h-2zM335 107h2v2h-2zM418 107h2v2h-2zM424 107h2v2h-2zM428 107h2v2h-2zM476 107h2v2h-2zM257 109h2v2h-2zM315 109h2v2h-2zM325 109h2v2h-2zM357 109h2v2h-2zM373 109h2v2h-2zM309 111h2v2h-2zM424 111h4v2h-4zM434 111h2v2h-2zM470 111h2v2h-2zM311 113h2v2h-2zM391 113h2v2h-2zM287 115h2v2h-2zM339 115h2v2h-2zM359 115h2v2h-2zM363 115h2v2h-2zM393 115h2v2h-2zM416 115h2v2h-2zM428 115h4v2h-4zM333 117h2v2h-2zM375 117h2v2h-2zM379 117h2v2h-2zM432 117h2v2h-2zM444 117h2v2h-2zM277 119h2v2h-2zM351 119h4v2h-4zM385 119h2v2h-2zM428 119h2v2h-2zM349 121h4v2h-4zM399 121h4v2h-4zM428 121h2v2h-2zM476 121h2v2h-2zM446 123h2v2h-2zM279 125h2v2h-2zM335 125h2v2h-2zM343 125h2v2h-2zM351 125h2v2h-2zM355 125h2v2h-2zM428 125h2v2h-2zM472 125h2v2h-2zM321 127h2v2h-2zM349 127h2v2h-2zM413 129h3v2h-3zM476 129h2v2h-2zM321 131h2v2h-2zM337 131h2v2h-2zM401 131h2v2h-2zM430 131h2v2h-2zM444 131h2v2h-2zM271 133h2v2h-2zM319 133h2v2h-2zM347 133h2v2h-2zM379 133h2v2h-2zM405 133h2v2h-2zM418 133h2v2h-2zM379 135h2v2h-2zM428 135h2v2h-2zM281 137h2v2h-2zM377 137h2v2h-2zM383 137h2v2h-2zM407 137h2v2h-2zM418 137h2v2h-2zM422 137h2v2h-2zM287 139h2v2h-2zM313 139h2v2h-2zM337 139h2v2h-2zM371 139h2v2h-2zM407 139h2v2h-2zM434 139h2v2h-2zM307 141h2v2h-2zM329 141h2v2h-2zM359 141h2v2h-2zM367 141h2v2h-2zM420 141h2v2h-2zM448 141h2v2h-2zM289 143h2v2h-2zM373 143h2v2h-2zM381 143h2v2h-2zM409 143h2v2h-2zM307 145h2v2h-2zM345 145h2v2h-2zM399 145h2v2h-2zM416 145h2v2h-2zM424 145h2v2h-2zM323 147h2v2h-2zM351 147h2v2h-2zM373 147h2v2h-2zM434 147h2v2h-2zM351 149h2v2h-2zM379 149h2v2h-2zM391 149h4v2h-4zM416 149h2v2h-2zM305 151h2v2h-2zM317 151h2v2h-2zM331 151h2v2h-2zM343 151h2v2h-2zM405 151h2v2h-2zM387 153h2v2h-2zM339 155h2v2h-2zM359 155h2v2h-2zM375 155h2v2h-2zM379 155h2v2h-2zM395 155h2v2h-2zM389 157h2v2h-2zM393 157h2v2h-2zM397 157h2v2h-2zM391 159h2v2h-2zM383 161h2v2h-2zM405 163h2v2h-2zM397 165h2v2h-2zM317 256h2v2h-2zM323 258h2v2h-2zM335 280h2v2h-2zM347 296h2v2h-2z"/><path fill="#21a585" d="M305 21h2v2h-2zM351 23h2v2h-2zM367 23h2v2h-2zM393 25h2v2h-2zM450 25h2v2h-2zM289 27h2v2h-2zM291 29h2v2h-2zM301 29h2v2h-2zM420 29h2v2h-2zM363 33h2v2h-2zM311 35h2v2h-2zM271 37h2v2h-2zM327 37h2v2h-2zM345 37h2v2h-2zM355 37h2v2h-2zM279 39h2v2h-2zM311 39h2v2h-2zM337 41h2v2h-2zM345 41h2v2h-2zM349 41h2v2h-2zM391 41h2v2h-2zM466 41h2v2h-2zM313 43h2v2h-2zM409 43h2v2h-2zM287 45h2v2h-2zM351 45h2v2h-2zM430 45h2v2h-2zM466 45h2v2h-2zM273 47h2v2h-2zM357 47h2v2h-2zM375 47h2v2h-2zM401 47h2v2h-2zM428 47h2v2h-2zM261 49h2v2h-2zM309 49h2v2h-2zM434 49h2v2h-2zM458 49h2v2h-2zM275 51h2v2h-2zM285 51h2v2h-2zM323 51h2v2h-2zM413 51h3v2h-3zM257 53h2v2h-2zM329 53h2v2h-2zM375 55h2v2h-2zM379 55h2v2h-2zM401 55h2v2h-2zM492 55h2v2h-2zM335 57h2v2h-2zM403 57h2v2h-2zM293 59h2v2h-2zM347 59h2v2h-2zM432 59h2v2h-2zM446 59h2v2h-2zM395 61h2v2h-2zM458 61h2v2h-2zM267 63h2v2h-2zM295 63h2v2h-2zM339 63h2v2h-2zM363 63h2v2h-2zM434 63h2v2h-2zM257 65h2v2h-2zM367 65h2v2h-2zM391 65h2v2h-2zM442 65h2v2h-2zM303 67h2v2h-2zM389 67h2v2h-2zM420 67h2v2h-2zM287 69h2v2h-2zM307 69h2v2h-2zM333 69h2v2h-2zM317 71h2v2h-2zM289 73h2v2h-2zM387 73h2v2h-2zM416 73h2v2h-2zM293 75h2v2h-2zM317 75h2v2h-2zM325 75h2v2h-2zM299 77h2v2h-2zM303 77h2v2h-2zM347 77h2v2h-2zM279 79h2v2h-2zM307 79h2v2h-2zM365 79h2v2h-2zM397 79h2v2h-2zM472 79h2v2h-2zM331 81h2v2h-2zM361 81h2v2h-2zM464 81h2v2h-2zM303 83h2v2h-2zM325 83h2v2h-2zM395 83h2v2h-2zM403 83h2v2h-2zM476 83h2v2h-2zM339 85h4v2h-4zM418 85h2v2h-2zM434 85h2v2h-2zM281 87h2v2h-2zM299 87h2v2h-2zM313 87h2v2h-2zM395 87h2v2h-2zM448 87h2v2h-2zM293 89h2v2h-2zM345 89h2v2h-2zM379 91h2v2h-2zM482 91h2v2h-2zM259 93h2v2h-2zM365 93h2v2h-2zM375 93h2v2h-2zM327 95h2v2h-2zM345 95h2v2h-2zM381 95h2v2h-2zM452 95h2v2h-2zM339 97h2v2h-2zM353 97h2v2h-2zM416 97h2v2h-2zM426 97h2v2h-2zM277 99h2v2h-2zM359 99h2v2h-2zM389 99h2v2h-2zM413 99h3v2h-3zM418 99h2v2h-2zM432 99h2v2h-2zM255 101h2v2h-2zM289 103h2v2h-2zM297 103h2v2h-2zM401 103h2v2h-2zM432 103h2v2h-2zM327 105h2v2h-2zM337 105h2v2h-2zM369 105h2v2h-2zM456 105h2v2h-2zM313 107h2v2h-2zM381 107h2v2h-2zM484 107h2v2h-2zM343 109h2v2h-2zM353 109h2v2h-2zM365 109h2v2h-2zM432 109h2v2h-2zM448 109h2v2h-2zM460 109h2v2h-2zM351 111h2v2h-2zM359 111h2v2h-2zM383 111h2v2h-2zM275 113h2v2h-2zM323 113h2v2h-2zM347 113h2v2h-2zM381 113h2v2h-2zM265 115h2v2h-2zM436 115h2v2h-2zM343 117h2v2h-2zM351 117h2v2h-2zM426 117h2v2h-2zM436 117h2v2h-2zM371 119h2v2h-2zM341 121h2v2h-2zM438 121h2v2h-2zM462 121h2v2h-2zM293 123h2v2h-2zM335 123h2v2h-2zM389 123h2v2h-2zM403 123h2v2h-2zM470 123h2v2h-2zM313 125h2v2h-2zM381 125h2v2h-2zM303 127h2v2h-2zM333 127h2v2h-2zM351 127h2v2h-2zM363 127h4v2h-4zM464 127h2v2h-2zM466 129h2v2h-2zM281 131h2v2h-2zM327 131h2v2h-2zM422 131h2v2h-2zM440 131h2v2h-2zM448 131h2v2h-2zM293 133h2v2h-2zM299 133h4v2h-4zM341 133h2v2h-2zM351 133h2v2h-2zM365 133h2v2h-2zM269 135h2v2h-2zM373 135h2v2h-2zM387 135h2v2h-2zM395 135h2v2h-2zM311 137h2v2h-2zM359 137h2v2h-2zM365 137h2v2h-2zM401 137h2v2h-2zM446 137h2v2h-2zM281 139h2v2h-2zM285 139h2v2h-2zM265 141h2v2h-2zM289 141h2v2h-2zM309 141h2v2h-2zM373 141h2v2h-2zM407 141h2v2h-2zM317 143h2v2h-2zM327 143h2v2h-2zM335 143h2v2h-2zM355 143h2v2h-2zM369 143h4v2h-4zM383 143h2v2h-2zM395 143h2v2h-2zM418 143h2v2h-2zM297 147h2v2h-2zM313 149h2v2h-2zM331 149h2v2h-2zM387 149h2v2h-2zM424 149h2v2h-2zM379 151h2v2h-2zM418 151h2v2h-2zM409 153h2v2h-2zM381 155h2v2h-2zM397 155h2v2h-2zM420 155h2v2h-2zM385 157h2v2h-2zM422 157h2v2h-2zM387 159h2v2h-2zM387 165h2v2h-2zM387 167h2v2h-2zM373 175h2v2h-2zM311 252h2v2h-2zM319 258h2v2h-2zM327 266h2v2h-2zM337 288h2v2h-2zM341 290h2v2h-2zM347 300h2v2h-2z"/><path fill="#23a983" d="M283 23h2v2h-2zM313 25h2v2h-2zM389 27h2v2h-2zM317 29h2v2h-2zM413 29h3v2h-3zM446 29h2v2h-2zM381 31h2v2h-2zM484 31h2v2h-2zM291 33h2v2h-2zM283 35h2v2h-2zM309 35h2v2h-2zM359 35h2v2h-2zM303 37h2v2h-2zM409 37h4v2h-4zM426 37h2v2h-2zM389 41h2v2h-2zM401 41h2v2h-2zM440 43h2v2h-2zM456 43h2v2h-2zM317 47h2v2h-2zM357 49h2v2h-2zM363 49h2v2h-2zM379 49h2v2h-2zM283 51h2v2h-2zM325 51h2v2h-2zM456 51h2v2h-2zM263 53h2v2h-2zM279 53h2v2h-2zM319 53h2v2h-2zM297 55h2v2h-2zM395 55h2v2h-2zM269 57h2v2h-2zM299 57h2v2h-2zM347 57h2v2h-2zM355 57h4v2h-4zM257 59h2v2h-2zM279 59h2v2h-2zM337 59h2v2h-2zM486 59h2v2h-2zM301 61h2v2h-2zM363 61h2v2h-2zM289 63h2v2h-2zM315 63h2v2h-2zM323 63h2v2h-2zM420 63h4v2h-4zM480 63h2v2h-2zM301 67h2v2h-2zM365 67h2v2h-2zM261 69h2v2h-2zM291 69h2v2h-2zM407 69h2v2h-2zM460 69h2v2h-2zM263 71h2v2h-2zM295 71h2v2h-2zM329 71h2v2h-2zM409 71h2v2h-2zM297 73h2v2h-2zM313 73h4v2h-4zM379 73h2v2h-2zM397 73h2v2h-2zM287 77h2v2h-2zM424 77h2v2h-2zM311 79h2v2h-2zM271 81h2v2h-2zM279 81h2v2h-2zM303 81h2v2h-2zM345 81h2v2h-2zM363 81h4v2h-4zM486 81h2v2h-2zM265 83h2v2h-2zM281 83h2v2h-2zM301 83h2v2h-2zM313 83h2v2h-2zM321 83h2v2h-2zM345 83h2v2h-2zM462 83h2v2h-2zM323 85h2v2h-2zM333 85h2v2h-2zM391 85h2v2h-2zM397 85h2v2h-2zM333 87h2v2h-2zM355 87h2v2h-2zM263 89h2v2h-2zM327 89h2v2h-2zM444 89h2v2h-2zM279 91h2v2h-2zM301 91h2v2h-2zM317 91h2v2h-2zM341 91h2v2h-2zM403 91h2v2h-2zM416 91h2v2h-2zM295 93h2v2h-2zM311 93h2v2h-2zM357 93h2v2h-2zM418 93h2v2h-2zM482 93h2v2h-2zM323 95h2v2h-2zM349 95h2v2h-2zM351 97h2v2h-2zM329 99h2v2h-2zM347 99h2v2h-2zM381 99h4v2h-4zM462 99h2v2h-2zM492 99h2v2h-2zM297 101h2v2h-2zM385 101h2v2h-2zM315 103h2v2h-2zM327 103h2v2h-2zM365 103h6v2h-6zM397 103h2v2h-2zM420 103h2v2h-2zM456 103h2v2h-2zM347 105h2v2h-2zM351 105h2v2h-2zM355 105h2v2h-2zM413 105h3v2h-3zM478 105h2v2h-2zM273 107h2v2h-2zM281 107h2v2h-2zM301 107h2v2h-2zM307 107h2v2h-2zM357 107h2v2h-2zM369 107h2v2h-2zM373 107h2v2h-2zM450 107h2v2h-2zM335 109h4v2h-4zM351 109h2v2h-2zM355 109h2v2h-2zM329 111h2v2h-2zM361 111h2v2h-2zM387 111h2v2h-2zM405 111h2v2h-2zM418 111h2v2h-2zM478 111h2v2h-2zM259 113h2v2h-2zM265 113h4v2h-4zM317 113h2v2h-2zM327 113h2v2h-2zM331 113h2v2h-2zM363 113h2v2h-2zM422 113h2v2h-2zM446 113h2v2h-2zM462 113h2v2h-2zM349 115h2v2h-2zM367 115h2v2h-2zM399 115h2v2h-2zM385 117h2v2h-2zM373 119h2v2h-2zM377 119h2v2h-2zM257 121h2v2h-2zM311 121h2v2h-2zM323 121h2v2h-2zM409 121h2v2h-2zM420 121h2v2h-2zM430 121h2v2h-2zM488 121h2v2h-2zM494 121h2v2h-2zM351 123h2v2h-2zM405 123h2v2h-2zM452 123h2v2h-2zM456 123h2v2h-2zM357 125h2v2h-2zM389 125h6v2h-6zM359 127h2v2h-2zM367 127h2v2h-2zM371 127h2v2h-2zM379 127h2v2h-2zM361 129h2v2h-2zM407 129h2v2h-2zM420 129h2v2h-2zM438 129h2v2h-2zM482 129h2v2h-2zM295 131h2v2h-2zM313 131h2v2h-2zM389 131h2v2h-2zM403 131h4v2h-4zM426 131h2v2h-2zM385 133h2v2h-2zM432 133h2v2h-2zM271 135h2v2h-2zM329 135h2v2h-2zM335 135h2v2h-2zM371 135h2v2h-2zM397 135h2v2h-2zM411 135h2v2h-2zM426 135h2v2h-2zM436 135h2v2h-2zM275 137h2v2h-2zM323 137h2v2h-2zM371 137h2v2h-2zM399 137h2v2h-2zM424 137h2v2h-2zM409 139h2v2h-2zM267 141h2v2h-2zM287 141h2v2h-2zM327 141h2v2h-2zM361 141h2v2h-2zM426 141h2v2h-2zM263 143h2v2h-2zM283 143h2v2h-2zM319 143h2v2h-2zM349 143h2v2h-2zM293 145h2v2h-2zM347 145h2v2h-2zM387 145h2v2h-2zM438 145h2v2h-2zM305 147h2v2h-2zM359 147h2v2h-2zM399 147h2v2h-2zM319 149h2v2h-2zM373 151h2v2h-2zM401 155h2v2h-2zM422 155h2v2h-2zM359 157h2v2h-2zM379 157h2v2h-2zM383 157h2v2h-2zM405 159h2v2h-2zM399 161h2v2h-2zM359 163h2v2h-2zM369 163h2v2h-2zM391 167h2v2h-2zM329 272h2v2h-2z"/><path fill="#26ad81" d="M267 21h2v2h-2zM377 23h2v2h-2zM405 23h2v2h-2zM319 27h2v2h-2zM339 27h2v2h-2zM381 27h2v2h-2zM351 29h2v2h-2zM313 31h2v2h-2zM411 31h2v2h-2zM393 33h2v2h-2zM381 35h2v2h-2zM480 35h2v2h-2zM273 37h2v2h-2zM285 37h2v2h-2zM327 39h2v2h-2zM339 39h2v2h-2zM377 39h2v2h-2zM305 41h2v2h-2zM407 41h2v2h-2zM438 41h2v2h-2zM271 43h2v2h-2zM289 43h2v2h-2zM391 43h2v2h-2zM359 45h2v2h-2zM269 47h2v2h-2zM327 47h2v2h-2zM361 47h2v2h-2zM464 47h2v2h-2zM468 47h2v2h-2zM367 49h2v2h-2zM452 49h2v2h-2zM472 51h2v2h-2zM317 53h2v2h-2zM357 53h2v2h-2zM411 53h2v2h-2zM448 53h2v2h-2zM313 55h2v2h-2zM377 55h2v2h-2zM444 55h2v2h-2zM291 57h2v2h-2zM333 57h2v2h-2zM472 57h2v2h-2zM351 59h2v2h-2zM299 63h2v2h-2zM313 63h2v2h-2zM365 63h2v2h-2zM385 63h4v2h-4zM472 63h2v2h-2zM301 65h2v2h-2zM329 65h2v2h-2zM337 65h2v2h-2zM403 65h2v2h-2zM353 67h2v2h-2zM401 67h2v2h-2zM418 67h2v2h-2zM277 69h2v2h-2zM411 69h2v2h-2zM289 71h2v2h-2zM341 71h2v2h-2zM365 71h2v2h-2zM375 71h2v2h-2zM395 71h2v2h-2zM275 73h4v2h-4zM291 73h2v2h-2zM305 73h2v2h-2zM311 75h2v2h-2zM367 75h2v2h-2zM418 75h2v2h-2zM259 77h2v2h-2zM295 77h2v2h-2zM470 77h2v2h-2zM281 79h2v2h-2zM329 79h2v2h-2zM341 79h2v2h-2zM273 81h2v2h-2zM430 81h2v2h-2zM263 83h2v2h-2zM327 83h2v2h-2zM333 83h2v2h-2zM367 83h2v2h-2zM373 83h2v2h-2zM389 83h2v2h-2zM418 83h2v2h-2zM381 85h2v2h-2zM289 87h2v2h-2zM309 87h2v2h-2zM325 87h2v2h-2zM375 87h2v2h-2zM387 87h2v2h-2zM391 87h2v2h-2zM442 87h2v2h-2zM351 89h2v2h-2zM420 89h2v2h-2zM432 89h2v2h-2zM486 89h2v2h-2zM283 91h2v2h-2zM291 91h2v2h-2zM303 91h2v2h-2zM353 91h2v2h-2zM369 91h2v2h-2zM422 91h2v2h-2zM462 91h2v2h-2zM299 93h2v2h-2zM327 93h2v2h-2zM333 93h2v2h-2zM337 93h2v2h-2zM387 93h2v2h-2zM395 93h2v2h-2zM456 93h4v2h-4zM303 95h2v2h-2zM357 95h2v2h-2zM365 95h2v2h-2zM389 95h2v2h-2zM434 95h2v2h-2zM301 97h4v2h-4zM345 97h2v2h-2zM387 97h2v2h-2zM391 97h2v2h-2zM444 97h2v2h-2zM371 99h2v2h-2zM452 99h2v2h-2zM307 101h2v2h-2zM339 101h2v2h-2zM343 101h2v2h-2zM379 101h2v2h-2zM389 101h2v2h-2zM424 101h2v2h-2zM430 101h2v2h-2zM448 101h2v2h-2zM347 103h2v2h-2zM403 103h2v2h-2zM411 103h2v2h-2zM325 105h2v2h-2zM353 105h2v2h-2zM375 105h2v2h-2zM325 107h2v2h-2zM389 107h2v2h-2zM309 109h2v2h-2zM339 109h2v2h-2zM363 111h2v2h-2zM438 111h2v2h-2zM430 113h2v2h-2zM460 113h2v2h-2zM319 115h2v2h-2zM375 115h2v2h-2zM397 115h2v2h-2zM432 115h2v2h-2zM347 117h2v2h-2zM440 117h2v2h-2zM401 119h2v2h-2zM345 121h2v2h-2zM357 121h2v2h-2zM377 121h2v2h-2zM381 121h2v2h-2zM397 121h2v2h-2zM446 121h2v2h-2zM381 123h2v2h-2zM407 123h2v2h-2zM321 125h2v2h-2zM339 125h2v2h-2zM347 125h2v2h-2zM405 125h2v2h-2zM438 125h2v2h-2zM297 127h2v2h-2zM373 127h2v2h-2zM385 127h2v2h-2zM442 127h2v2h-2zM333 129h2v2h-2zM405 129h2v2h-2zM418 129h2v2h-2zM484 129h2v2h-2zM357 131h2v2h-2zM393 131h2v2h-2zM428 131h2v2h-2zM281 133h2v2h-2zM289 133h4v2h-4zM329 133h2v2h-2zM337 133h2v2h-2zM440 133h2v2h-2zM448 133h4v2h-4zM403 135h2v2h-2zM416 135h2v2h-2zM470 135h2v2h-2zM319 137h2v2h-2zM381 137h2v2h-2zM395 137h2v2h-2zM442 137h2v2h-2zM452 137h2v2h-2zM381 139h2v2h-2zM301 141h2v2h-2zM399 141h4v2h-4zM291 143h2v2h-2zM303 143h2v2h-2zM343 143h2v2h-2zM385 143h2v2h-2zM405 143h2v2h-2zM424 143h2v2h-2zM446 143h2v2h-2zM341 145h4v2h-4zM377 145h4v2h-4zM395 145h2v2h-2zM426 145h2v2h-2zM299 147h2v2h-2zM403 147h2v2h-2zM299 149h2v2h-2zM335 149h2v2h-2zM383 153h2v2h-2zM389 153h2v2h-2zM397 153h2v2h-2zM403 157h2v2h-2zM377 159h2v2h-2zM383 159h2v2h-2zM403 161h2v2h-2zM375 163h2v2h-2zM397 163h2v2h-2zM361 165h2v2h-2zM381 165h2v2h-2zM365 167h2v2h-2zM317 252h2v2h-2zM323 266h2v2h-2zM327 274h2v2h-2z"/><path fill="#2ab07f" d="M361 23h2v2h-2zM277 25h2v2h-2zM297 25h2v2h-2zM369 25h2v2h-2zM436 25h2v2h-2zM365 27h2v2h-2zM450 27h2v2h-2zM389 29h2v2h-2zM440 31h2v2h-2zM426 33h2v2h-2zM492 33h2v2h-2zM261 37h2v2h-2zM277 37h2v2h-2zM357 37h2v2h-2zM442 37h2v2h-2zM355 39h2v2h-2zM375 41h2v2h-2zM490 43h2v2h-2zM385 45h2v2h-2zM446 45h2v2h-2zM341 47h2v2h-2zM446 47h2v2h-2zM418 49h2v2h-2zM434 51h2v2h-2zM323 53h2v2h-2zM337 53h2v2h-2zM311 55h2v2h-2zM337 55h2v2h-2zM357 55h2v2h-2zM424 55h2v2h-2zM285 57h2v2h-2zM401 57h2v2h-2zM327 59h2v2h-2zM361 59h2v2h-2zM395 59h2v2h-2zM452 59h2v2h-2zM325 61h2v2h-2zM377 61h4v2h-4zM285 63h2v2h-2zM395 63h2v2h-2zM323 65h2v2h-2zM397 65h2v2h-2zM295 67h2v2h-2zM383 67h2v2h-2zM357 69h2v2h-2zM488 69h2v2h-2zM297 71h2v2h-2zM397 71h2v2h-2zM407 71h2v2h-2zM411 71h2v2h-2zM452 71h2v2h-2zM482 71h2v2h-2zM265 73h2v2h-2zM311 73h2v2h-2zM401 73h2v2h-2zM452 73h2v2h-2zM263 75h2v2h-2zM269 75h2v2h-2zM279 75h2v2h-2zM287 75h2v2h-2zM339 75h2v2h-2zM343 75h2v2h-2zM371 77h2v2h-2zM289 79h2v2h-2zM327 79h2v2h-2zM333 79h2v2h-2zM345 79h2v2h-2zM381 79h2v2h-2zM393 79h2v2h-2zM305 81h2v2h-2zM327 81h2v2h-2zM323 83h2v2h-2zM331 83h2v2h-2zM351 83h2v2h-2zM405 83h2v2h-2zM297 85h2v2h-2zM369 85h2v2h-2zM488 85h2v2h-2zM283 87h2v2h-2zM464 87h2v2h-2zM317 89h2v2h-2zM325 89h2v2h-2zM341 89h2v2h-2zM377 89h2v2h-2zM297 91h4v2h-4zM343 91h2v2h-2zM381 91h2v2h-2zM389 91h2v2h-2zM345 93h2v2h-2zM349 93h2v2h-2zM355 93h2v2h-2zM311 95h2v2h-2zM339 95h2v2h-2zM375 95h2v2h-2zM391 95h2v2h-2zM401 95h2v2h-2zM313 97h2v2h-2zM401 97h2v2h-2zM405 97h2v2h-2zM468 97h2v2h-2zM323 99h2v2h-2zM319 101h2v2h-2zM391 101h2v2h-2zM407 101h2v2h-2zM335 103h2v2h-2zM351 103h2v2h-2zM335 105h2v2h-2zM371 105h2v2h-2zM395 105h2v2h-2zM267 107h2v2h-2zM341 107h2v2h-2zM345 107h2v2h-2zM409 107h2v2h-2zM331 109h2v2h-2zM383 109h2v2h-2zM416 109h2v2h-2zM285 111h2v2h-2zM389 111h2v2h-2zM393 111h2v2h-2zM484 111h2v2h-2zM383 113h2v2h-2zM399 113h2v2h-2zM385 115h2v2h-2zM462 115h2v2h-2zM474 115h2v2h-2zM478 115h2v2h-2zM345 117h2v2h-2zM361 117h2v2h-2zM383 117h2v2h-2zM462 117h2v2h-2zM357 119h2v2h-2zM361 119h2v2h-2zM291 121h2v2h-2zM299 121h2v2h-2zM359 121h2v2h-2zM369 121h2v2h-2zM411 121h2v2h-2zM418 121h2v2h-2zM303 123h2v2h-2zM444 123h2v2h-2zM492 123h2v2h-2zM329 127h2v2h-2zM377 127h2v2h-2zM413 127h3v2h-3zM446 127h2v2h-2zM391 129h2v2h-2zM397 129h2v2h-2zM411 129h2v2h-2zM283 131h2v2h-2zM375 131h2v2h-2zM432 131h2v2h-2zM416 133h2v2h-2zM466 135h2v2h-2zM313 137h2v2h-2zM335 137h2v2h-2zM387 137h2v2h-2zM448 137h2v2h-2zM347 139h2v2h-2zM317 141h2v2h-2zM365 141h2v2h-2zM281 143h2v2h-2zM411 143h2v2h-2zM434 143h2v2h-2zM365 145h2v2h-2zM411 145h2v2h-2zM303 147h2v2h-2zM335 147h2v2h-2zM381 147h2v2h-2zM389 147h4v2h-4zM438 147h2v2h-2zM361 149h2v2h-2zM403 149h2v2h-2zM407 149h2v2h-2zM428 149h2v2h-2zM367 151h2v2h-2zM391 151h2v2h-2zM373 153h2v2h-2zM407 153h2v2h-2zM357 155h2v2h-2zM424 155h2v2h-2zM399 157h2v2h-2zM409 157h2v2h-2zM351 159h2v2h-2zM359 159h2v2h-2zM371 163h2v2h-2zM389 163h2v2h-2zM385 165h2v2h-2zM349 296h2v2h-2z"/><path fill="#2fb47c" d="M341 21h2v2h-2zM357 21h2v2h-2zM405 21h2v2h-2zM395 23h2v2h-2zM343 25h2v2h-2zM470 25h2v2h-2zM480 25h2v2h-2zM269 29h2v2h-2zM303 29h2v2h-2zM325 29h2v2h-2zM405 29h2v2h-2zM281 31h2v2h-2zM285 31h2v2h-2zM355 31h2v2h-2zM432 33h2v2h-2zM436 33h2v2h-2zM472 33h2v2h-2zM450 35h2v2h-2zM321 37h2v2h-2zM377 37h2v2h-2zM299 39h4v2h-4zM331 43h2v2h-2zM438 43h2v2h-2zM259 47h2v2h-2zM283 47h2v2h-2zM307 47h2v2h-2zM319 47h2v2h-2zM329 47h2v2h-2zM347 47h2v2h-2zM353 47h2v2h-2zM432 47h2v2h-2zM494 47h2v2h-2zM351 49h2v2h-2zM484 49h2v2h-2zM303 53h2v2h-2zM327 53h2v2h-2zM367 53h2v2h-2zM407 53h2v2h-2zM452 53h2v2h-2zM474 53h2v2h-2zM492 53h2v2h-2zM299 55h2v2h-2zM345 55h2v2h-2zM373 55h2v2h-2zM468 55h2v2h-2zM275 57h2v2h-2zM327 57h2v2h-2zM416 57h2v2h-2zM305 59h2v2h-2zM339 59h2v2h-2zM385 59h2v2h-2zM303 61h2v2h-2zM418 61h2v2h-2zM454 61h2v2h-2zM273 63h2v2h-2zM309 63h2v2h-2zM448 63h2v2h-2zM353 65h2v2h-2zM444 65h2v2h-2zM261 67h2v2h-2zM317 67h2v2h-2zM351 67h2v2h-2zM458 67h2v2h-2zM271 69h2v2h-2zM267 71h2v2h-2zM301 71h2v2h-2zM339 71h2v2h-2zM426 71h2v2h-2zM295 73h2v2h-2zM319 73h2v2h-2zM327 73h2v2h-2zM490 73h2v2h-2zM321 75h2v2h-2zM373 75h2v2h-2zM407 75h2v2h-2zM434 75h2v2h-2zM339 77h2v2h-2zM377 77h2v2h-2zM393 77h2v2h-2zM418 77h2v2h-2zM426 77h2v2h-2zM460 77h2v2h-2zM257 79h2v2h-2zM321 79h2v2h-2zM367 79h2v2h-2zM387 79h2v2h-2zM291 81h2v2h-2zM379 81h2v2h-2zM285 83h2v2h-2zM297 83h2v2h-2zM315 83h2v2h-2zM369 83h2v2h-2zM381 83h2v2h-2zM387 83h2v2h-2zM413 83h3v2h-3zM430 83h2v2h-2zM470 83h2v2h-2zM279 85h2v2h-2zM299 85h2v2h-2zM305 85h2v2h-2zM307 89h2v2h-2zM367 89h2v2h-2zM389 89h2v2h-2zM472 89h2v2h-2zM494 89h2v2h-2zM313 91h2v2h-2zM319 91h2v2h-2zM339 91h2v2h-2zM349 91h2v2h-2zM361 91h2v2h-2zM434 91h2v2h-2zM343 93h2v2h-2zM347 93h2v2h-2zM367 93h2v2h-2zM462 95h2v2h-2zM289 97h2v2h-2zM341 97h2v2h-2zM355 97h2v2h-2zM399 97h2v2h-2zM321 99h2v2h-2zM327 99h2v2h-2zM369 99h2v2h-2zM379 99h2v2h-2zM448 99h2v2h-2zM271 101h2v2h-2zM383 101h2v2h-2zM399 101h2v2h-2zM265 103h2v2h-2zM273 103h2v2h-2zM293 103h2v2h-2zM339 103h2v2h-2zM359 103h2v2h-2zM373 103h2v2h-2zM367 105h2v2h-2zM401 107h2v2h-2zM444 107h2v2h-2zM347 109h2v2h-2zM413 109h3v2h-3zM261 111h2v2h-2zM353 111h2v2h-2zM407 111h2v2h-2zM442 111h2v2h-2zM359 113h2v2h-2zM409 113h2v2h-2zM420 113h2v2h-2zM454 113h2v2h-2zM327 115h2v2h-2zM460 115h2v2h-2zM411 117h2v2h-2zM442 117h2v2h-2zM478 117h2v2h-2zM265 119h2v2h-2zM363 119h2v2h-2zM371 121h2v2h-2zM345 123h2v2h-2zM409 123h2v2h-2zM413 123h3v2h-3zM397 125h2v2h-2zM460 125h2v2h-2zM361 127h2v2h-2zM405 127h2v2h-2zM426 127h2v2h-2zM353 129h2v2h-2zM291 131h2v2h-2zM413 131h3v2h-3zM442 131h2v2h-2zM313 133h2v2h-2zM363 133h2v2h-2zM466 133h2v2h-2zM405 135h2v2h-2zM420 135h2v2h-2zM391 139h4v2h-4zM442 139h2v2h-2zM393 141h2v2h-2zM426 143h2v2h-2zM295 145h2v2h-2zM315 147h2v2h-2zM391 153h2v2h-2zM403 153h2v2h-2zM411 153h2v2h-2zM391 161h2v2h-2zM401 165h2v2h-2zM369 167h2v2h-2z"/><path fill="#35b779" d="M409 25h2v2h-2zM420 25h2v2h-2zM460 25h2v2h-2zM409 27h2v2h-2zM476 27h2v2h-2zM281 29h2v2h-2zM411 29h2v2h-2zM305 33h2v2h-2zM428 33h2v2h-2zM295 35h2v2h-2zM357 35h2v2h-2zM436 35h2v2h-2zM319 37h2v2h-2zM401 37h2v2h-2zM452 37h2v2h-2zM462 37h2v2h-2zM267 39h2v2h-2zM440 39h2v2h-2zM373 43h2v2h-2zM393 45h2v2h-2zM432 45h2v2h-2zM456 45h2v2h-2zM293 47h2v2h-2zM371 47h2v2h-2zM440 49h2v2h-2zM329 51h2v2h-2zM438 53h2v2h-2zM289 57h2v2h-2zM317 57h2v2h-2zM466 57h2v2h-2zM271 59h2v2h-2zM387 59h2v2h-2zM478 59h2v2h-2zM337 61h2v2h-2zM263 63h2v2h-2zM407 63h2v2h-2zM285 65h2v2h-2zM448 65h2v2h-2zM468 65h2v2h-2zM349 67h2v2h-2zM385 67h2v2h-2zM448 67h2v2h-2zM331 69h2v2h-2zM387 69h2v2h-2zM391 69h2v2h-2zM426 69h2v2h-2zM452 69h2v2h-2zM456 69h2v2h-2zM283 71h2v2h-2zM307 71h2v2h-2zM367 71h2v2h-2zM440 71h2v2h-2zM307 73h2v2h-2zM331 73h2v2h-2zM444 73h2v2h-2zM494 73h2v2h-2zM299 75h2v2h-2zM313 75h2v2h-2zM351 75h2v2h-2zM331 77h2v2h-2zM365 77h2v2h-2zM297 79h2v2h-2zM337 79h2v2h-2zM405 79h2v2h-2zM478 79h2v2h-2zM289 81h2v2h-2zM307 81h2v2h-2zM337 81h2v2h-2zM438 81h2v2h-2zM442 81h2v2h-2zM339 83h2v2h-2zM478 83h2v2h-2zM337 85h2v2h-2zM375 85h2v2h-2zM387 85h2v2h-2zM365 89h2v2h-2zM379 89h2v2h-2zM401 89h2v2h-2zM411 89h2v2h-2zM305 91h2v2h-2zM397 91h2v2h-2zM317 93h2v2h-2zM329 93h2v2h-2zM263 95h2v2h-2zM275 95h2v2h-2zM313 95h2v2h-2zM363 95h2v2h-2zM331 97h2v2h-2zM407 97h2v2h-2zM424 97h2v2h-2zM375 99h2v2h-2zM411 99h2v2h-2zM301 101h2v2h-2zM329 101h2v2h-2zM349 101h2v2h-2zM482 103h2v2h-2zM339 105h2v2h-2zM345 105h2v2h-2zM357 105h2v2h-2zM387 105h2v2h-2zM317 107h2v2h-2zM349 107h2v2h-2zM432 107h2v2h-2zM438 107h2v2h-2zM472 109h2v2h-2zM325 111h2v2h-2zM343 111h2v2h-2zM349 111h2v2h-2zM369 111h2v2h-2zM399 111h2v2h-2zM422 111h2v2h-2zM458 111h2v2h-2zM361 113h2v2h-2zM367 113h2v2h-2zM389 113h2v2h-2zM411 113h2v2h-2zM313 115h2v2h-2zM347 115h2v2h-2zM339 117h2v2h-2zM359 117h2v2h-2zM416 117h2v2h-2zM424 117h2v2h-2zM470 117h2v2h-2zM393 119h2v2h-2zM492 119h2v2h-2zM353 121h2v2h-2zM393 121h2v2h-2zM327 123h2v2h-2zM391 123h2v2h-2zM476 123h2v2h-2zM486 123h2v2h-2zM395 125h2v2h-2zM401 125h2v2h-2zM409 125h2v2h-2zM432 125h2v2h-2zM305 127h2v2h-2zM353 127h2v2h-2zM395 129h2v2h-2zM454 129h2v2h-2zM438 131h2v2h-2zM357 133h2v2h-2zM391 133h2v2h-2zM353 135h2v2h-2zM401 135h2v2h-2zM424 135h2v2h-2zM468 135h2v2h-2zM279 137h2v2h-2zM375 137h2v2h-2zM393 137h2v2h-2zM405 137h2v2h-2zM383 141h2v2h-2zM311 143h2v2h-2zM393 143h2v2h-2zM403 143h2v2h-2zM303 145h2v2h-2zM389 145h2v2h-2zM295 147h2v2h-2zM440 147h2v2h-2zM385 149h2v2h-2zM399 153h2v2h-2zM416 155h2v2h-2zM407 157h2v2h-2zM409 161h2v2h-2zM377 167h2v2h-2zM393 167h2v2h-2z"/><path fill="#3bbb75" d="M325 21h2v2h-2zM301 27h2v2h-2zM307 27h2v2h-2zM351 27h2v2h-2zM458 27h2v2h-2zM424 29h2v2h-2zM474 29h2v2h-2zM299 31h2v2h-2zM448 31h2v2h-2zM339 37h2v2h-2zM492 37h2v2h-2zM413 39h3v2h-3zM448 39h2v2h-2zM470 39h2v2h-2zM277 41h2v2h-2zM387 41h2v2h-2zM289 45h2v2h-2zM454 45h2v2h-2zM460 45h2v2h-2zM275 47h2v2h-2zM363 51h2v2h-2zM363 53h2v2h-2zM283 55h2v2h-2zM321 55h2v2h-2zM265 57h2v2h-2zM315 57h2v2h-2zM301 59h2v2h-2zM393 59h2v2h-2zM333 61h2v2h-2zM283 63h2v2h-2zM426 63h2v2h-2zM289 65h2v2h-2zM331 65h2v2h-2zM393 65h2v2h-2zM399 65h2v2h-2zM466 65h2v2h-2zM329 67h2v2h-2zM468 67h2v2h-2zM275 69h2v2h-2zM301 69h2v2h-2zM401 69h2v2h-2zM450 69h2v2h-2zM257 71h2v2h-2zM353 71h2v2h-2zM381 71h2v2h-2zM299 73h2v2h-2zM399 73h2v2h-2zM432 73h2v2h-2zM281 75h2v2h-2zM361 75h2v2h-2zM411 75h2v2h-2zM283 77h2v2h-2zM297 77h2v2h-2zM327 77h2v2h-2zM333 77h4v2h-4zM269 79h2v2h-2zM343 79h2v2h-2zM359 79h2v2h-2zM369 79h2v2h-2zM440 79h2v2h-2zM341 81h2v2h-2zM411 81h2v2h-2zM291 83h2v2h-2zM329 83h2v2h-2zM355 83h2v2h-2zM379 83h2v2h-2zM291 85h4v2h-4zM301 85h2v2h-2zM319 85h2v2h-2zM361 85h2v2h-2zM287 87h2v2h-2zM291 87h2v2h-2zM295 87h2v2h-2zM323 87h2v2h-2zM359 87h2v2h-2zM373 87h2v2h-2zM401 87h2v2h-2zM438 87h2v2h-2zM269 89h2v2h-2zM361 89h2v2h-2zM383 89h2v2h-2zM301 93h2v2h-2zM315 93h2v2h-2zM359 93h2v2h-2zM454 93h2v2h-2zM273 95h2v2h-2zM369 95h4v2h-4zM430 95h2v2h-2zM369 97h2v2h-2zM403 97h2v2h-2zM446 97h2v2h-2zM458 97h2v2h-2zM351 99h2v2h-2zM391 99h2v2h-2zM409 99h2v2h-2zM361 101h2v2h-2zM409 101h2v2h-2zM263 103h2v2h-2zM357 103h2v2h-2zM387 103h2v2h-2zM331 105h2v2h-2zM341 105h2v2h-2zM343 107h2v2h-2zM363 107h2v2h-2zM472 107h2v2h-2zM263 109h2v2h-2zM474 109h2v2h-2zM335 111h2v2h-2zM347 111h2v2h-2zM355 111h2v2h-2zM432 111h2v2h-2zM373 113h2v2h-2zM424 113h2v2h-2zM341 115h2v2h-2zM387 115h2v2h-2zM403 117h2v2h-2zM345 119h2v2h-2zM369 119h2v2h-2zM426 119h2v2h-2zM436 119h2v2h-2zM494 119h2v2h-2zM379 121h2v2h-2zM379 123h2v2h-2zM383 123h4v2h-4zM460 123h2v2h-2zM383 125h2v2h-2zM413 125h3v2h-3zM466 127h2v2h-2zM343 129h2v2h-2zM355 129h2v2h-2zM359 129h2v2h-2zM377 129h2v2h-2zM381 129h2v2h-2zM359 131h2v2h-2zM411 131h2v2h-2zM416 131h2v2h-2zM464 131h2v2h-2zM367 133h2v2h-2zM430 133h2v2h-2zM434 135h2v2h-2zM450 135h2v2h-2zM373 137h2v2h-2zM450 139h2v2h-2zM269 141h2v2h-2zM385 145h2v2h-2zM418 145h2v2h-2zM420 147h2v2h-2zM422 149h2v2h-2zM399 151h4v2h-4zM385 153h2v2h-2zM413 153h3v2h-3zM409 155h4v2h-4zM381 163h2v2h-2zM341 294h2v2h-2z"/><path fill="#42be71" d="M277 21h2v2h-2zM311 25h2v2h-2zM321 25h2v2h-2zM349 25h2v2h-2zM482 29h2v2h-2zM323 31h2v2h-2zM269 33h2v2h-2zM385 33h2v2h-2zM389 33h4v2h-4zM397 33h2v2h-2zM490 33h2v2h-2zM279 35h4v2h-4zM287 35h2v2h-2zM317 35h2v2h-2zM277 39h2v2h-2zM305 39h2v2h-2zM458 39h2v2h-2zM281 43h2v2h-2zM337 43h2v2h-2zM267 45h2v2h-2zM341 45h2v2h-2zM365 45h2v2h-2zM452 45h2v2h-2zM255 47h2v2h-2zM416 47h2v2h-2zM359 49h2v2h-2zM259 51h2v2h-2zM273 51h2v2h-2zM293 51h2v2h-2zM391 51h2v2h-2zM426 51h2v2h-2zM478 53h2v2h-2zM488 53h2v2h-2zM261 55h2v2h-2zM293 55h2v2h-2zM456 55h2v2h-2zM305 57h2v2h-2zM407 57h2v2h-2zM269 59h2v2h-2zM456 59h2v2h-2zM480 59h2v2h-2zM492 59h2v2h-2zM488 61h2v2h-2zM259 63h2v2h-2zM476 63h2v2h-2zM349 65h2v2h-2zM357 65h2v2h-2zM381 65h4v2h-4zM311 67h2v2h-2zM450 67h2v2h-2zM351 69h2v2h-2zM365 69h2v2h-2zM416 69h2v2h-2zM357 71h2v2h-2zM436 71h2v2h-2zM428 73h2v2h-2zM450 73h2v2h-2zM359 75h2v2h-2zM478 75h2v2h-2zM281 77h2v2h-2zM285 77h2v2h-2zM309 77h2v2h-2zM381 77h2v2h-2zM440 77h2v2h-2zM319 79h2v2h-2zM325 79h2v2h-2zM313 81h2v2h-2zM343 81h2v2h-2zM295 83h2v2h-2zM299 83h2v2h-2zM341 83h2v2h-2zM385 83h2v2h-2zM393 83h2v2h-2zM289 85h2v2h-2zM363 85h2v2h-2zM383 85h2v2h-2zM345 87h2v2h-2zM349 87h2v2h-2zM385 87h2v2h-2zM416 87h2v2h-2zM420 87h2v2h-2zM303 89h2v2h-2zM315 89h2v2h-2zM319 89h2v2h-2zM323 89h2v2h-2zM335 89h2v2h-2zM339 89h2v2h-2zM371 89h2v2h-2zM434 89h2v2h-2zM295 91h2v2h-2zM387 91h2v2h-2zM436 91h2v2h-2zM325 93h2v2h-2zM405 93h2v2h-2zM321 95h2v2h-2zM331 95h2v2h-2zM335 95h2v2h-2zM379 95h2v2h-2zM397 95h2v2h-2zM403 95h2v2h-2zM420 95h2v2h-2zM329 97h2v2h-2zM335 97h2v2h-2zM383 97h2v2h-2zM436 97h4v2h-4zM492 97h2v2h-2zM331 101h2v2h-2zM397 101h2v2h-2zM436 101h2v2h-2zM442 101h2v2h-2zM333 103h2v2h-2zM353 103h4v2h-4zM371 103h2v2h-2zM405 103h2v2h-2zM450 105h2v2h-2zM375 107h2v2h-2zM397 107h2v2h-2zM349 109h2v2h-2zM389 109h2v2h-2zM397 109h2v2h-2zM379 111h2v2h-2zM397 111h2v2h-2zM401 111h2v2h-2zM416 111h2v2h-2zM472 111h2v2h-2zM444 115h2v2h-2zM490 115h2v2h-2zM403 119h4v2h-4zM416 119h2v2h-2zM464 119h2v2h-2zM373 121h2v2h-2zM448 121h2v2h-2zM367 123h4v2h-4zM424 123h2v2h-2zM403 125h2v2h-2zM424 125h2v2h-2zM383 129h2v2h-2zM403 129h2v2h-2zM440 129h2v2h-2zM339 131h2v2h-2zM351 131h2v2h-2zM377 135h2v2h-2zM409 135h2v2h-2zM297 137h2v2h-2zM403 137h2v2h-2zM413 139h3v2h-3zM420 139h2v2h-2zM416 141h2v2h-2zM359 143h2v2h-2zM391 145h2v2h-2zM430 145h2v2h-2zM377 147h2v2h-2zM387 151h2v2h-2zM367 153h2v2h-2zM430 153h2v2h-2zM411 159h2v2h-2zM349 298h2v2h-2z"/><path fill="#4ac16d" d="M474 27h2v2h-2zM285 29h2v2h-2zM407 37h2v2h-2zM307 39h2v2h-2zM335 39h2v2h-2zM409 39h2v2h-2zM464 39h2v2h-2zM271 41h2v2h-2zM313 41h2v2h-2zM409 41h2v2h-2zM468 41h2v2h-2zM345 43h2v2h-2zM321 49h2v2h-2zM391 49h2v2h-2zM472 49h2v2h-2zM307 55h2v2h-2zM339 55h2v2h-2zM420 55h2v2h-2zM488 55h2v2h-2zM273 59h2v2h-2zM273 61h2v2h-2zM293 63h2v2h-2zM259 65h2v2h-2zM365 65h2v2h-2zM321 67h2v2h-2zM313 69h2v2h-2zM311 71h2v2h-2zM395 73h2v2h-2zM466 73h2v2h-2zM488 73h2v2h-2zM283 75h2v2h-2zM375 75h2v2h-2zM305 77h2v2h-2zM291 79h4v2h-4zM301 79h2v2h-2zM401 79h2v2h-2zM450 79h2v2h-2zM267 81h2v2h-2zM309 81h2v2h-2zM434 83h2v2h-2zM311 85h2v2h-2zM385 85h2v2h-2zM301 87h2v2h-2zM311 87h2v2h-2zM317 87h2v2h-2zM339 87h2v2h-2zM367 87h2v2h-2zM444 87h2v2h-2zM329 89h2v2h-2zM347 89h2v2h-2zM315 91h2v2h-2zM347 91h2v2h-2zM341 93h2v2h-2zM361 93h2v2h-2zM353 95h2v2h-2zM387 95h2v2h-2zM458 95h2v2h-2zM482 95h2v2h-2zM337 97h2v2h-2zM349 99h2v2h-2zM460 99h2v2h-2zM375 103h2v2h-2zM263 105h2v2h-2zM428 105h2v2h-2zM277 107h2v2h-2zM311 107h2v2h-2zM329 107h2v2h-2zM351 107h2v2h-2zM367 109h2v2h-2zM403 109h2v2h-2zM430 109h2v2h-2zM482 109h2v2h-2zM355 113h2v2h-2zM450 113h2v2h-2zM486 113h2v2h-2zM373 115h2v2h-2zM442 115h2v2h-2zM365 117h2v2h-2zM460 117h2v2h-2zM413 121h3v2h-3zM434 121h2v2h-2zM458 121h2v2h-2zM373 123h2v2h-2zM399 123h2v2h-2zM434 123h2v2h-2zM387 125h2v2h-2zM416 125h2v2h-2zM399 127h4v2h-4zM418 127h2v2h-2zM432 127h2v2h-2zM409 129h2v2h-2zM422 129h2v2h-2zM403 133h2v2h-2zM413 133h3v2h-3zM438 135h2v2h-2zM452 135h2v2h-2zM273 137h2v2h-2zM416 137h2v2h-2zM430 137h2v2h-2zM379 139h2v2h-2zM411 139h2v2h-2zM422 139h2v2h-2zM371 141h2v2h-2zM424 141h2v2h-2zM440 141h2v2h-2zM399 143h2v2h-2zM436 143h2v2h-2zM442 143h2v2h-2zM407 145h2v2h-2zM432 153h2v2h-2zM381 157h2v2h-2zM403 165h2v2h-2z"/><path fill="#52c569" d="M271 23h2v2h-2zM309 23h2v2h-2zM289 29h2v2h-2zM307 29h2v2h-2zM381 29h2v2h-2zM486 31h2v2h-2zM325 33h2v2h-2zM361 35h2v2h-2zM470 35h2v2h-2zM341 37h2v2h-2zM283 39h2v2h-2zM315 39h2v2h-2zM291 41h2v2h-2zM359 41h2v2h-2zM389 43h2v2h-2zM301 45h2v2h-2zM379 45h2v2h-2zM309 47h2v2h-2zM383 47h2v2h-2zM426 49h2v2h-2zM259 53h2v2h-2zM291 55h2v2h-2zM271 57h2v2h-2zM405 57h2v2h-2zM422 57h2v2h-2zM341 61h2v2h-2zM409 61h2v2h-2zM490 61h4v2h-4zM303 63h2v2h-2zM341 65h2v2h-2zM430 65h2v2h-2zM271 67h2v2h-2zM418 69h2v2h-2zM490 69h2v2h-2zM287 71h2v2h-2zM287 73h2v2h-2zM321 73h2v2h-2zM325 73h2v2h-2zM377 73h2v2h-2zM474 73h2v2h-2zM309 75h2v2h-2zM319 75h2v2h-2zM391 75h2v2h-2zM313 77h2v2h-2zM363 77h2v2h-2zM458 77h2v2h-2zM301 81h2v2h-2zM319 81h2v2h-2zM363 83h2v2h-2zM287 85h2v2h-2zM317 85h2v2h-2zM355 85h2v2h-2zM297 87h2v2h-2zM343 87h2v2h-2zM454 87h2v2h-2zM275 91h2v2h-2zM289 91h2v2h-2zM321 91h2v2h-2zM325 91h4v2h-4zM321 93h2v2h-2zM335 93h2v2h-2zM337 95h2v2h-2zM315 97h2v2h-2zM379 97h2v2h-2zM395 99h2v2h-2zM407 99h2v2h-2zM317 101h2v2h-2zM420 101h2v2h-2zM434 101h2v2h-2zM313 103h2v2h-2zM331 103h2v2h-2zM345 103h2v2h-2zM361 103h2v2h-2zM383 103h2v2h-2zM428 103h2v2h-2zM383 105h2v2h-2zM379 107h2v2h-2zM391 107h2v2h-2zM416 107h2v2h-2zM259 109h2v2h-2zM395 109h2v2h-2zM450 109h2v2h-2zM357 111h2v2h-2zM377 113h2v2h-2zM387 113h2v2h-2zM405 113h2v2h-2zM353 115h4v2h-4zM486 115h2v2h-2zM468 123h2v2h-2zM422 125h2v2h-2zM391 127h2v2h-2zM420 127h2v2h-2zM430 127h2v2h-2zM436 127h2v2h-2zM476 127h2v2h-2zM436 129h2v2h-2zM399 131h2v2h-2zM446 131h2v2h-2zM395 133h2v2h-2zM430 135h2v2h-2zM462 135h2v2h-2zM271 137h2v2h-2zM299 139h2v2h-2zM369 139h2v2h-2zM426 139h2v2h-2zM281 141h2v2h-2zM426 147h2v2h-2zM405 149h2v2h-2zM413 151h3v2h-3zM395 153h2v2h-2zM420 153h4v2h-4zM409 159h2v2h-2zM393 165h2v2h-2z"/><path fill="#5ac864" d="M349 21h2v2h-2zM365 21h2v2h-2zM291 27h2v2h-2zM494 27h2v2h-2zM442 31h2v2h-2zM472 31h2v2h-2zM365 37h2v2h-2zM347 43h2v2h-2zM359 51h2v2h-2zM315 53h2v2h-2zM355 53h2v2h-2zM301 55h2v2h-2zM267 57h2v2h-2zM430 57h2v2h-2zM458 57h2v2h-2zM407 59h2v2h-2zM420 59h2v2h-2zM289 61h2v2h-2zM351 61h2v2h-2zM405 61h2v2h-2zM430 61h2v2h-2zM434 61h2v2h-2zM257 63h2v2h-2zM379 63h2v2h-2zM281 65h2v2h-2zM313 65h2v2h-2zM484 65h2v2h-2zM339 67h2v2h-2zM343 67h2v2h-2zM488 67h2v2h-2zM442 71h2v2h-2zM371 73h2v2h-2zM289 75h2v2h-2zM307 75h2v2h-2zM315 75h2v2h-2zM401 75h2v2h-2zM464 75h2v2h-2zM261 79h2v2h-2zM283 79h2v2h-2zM353 79h2v2h-2zM317 81h2v2h-2zM353 81h2v2h-2zM381 81h2v2h-2zM391 81h2v2h-2zM331 85h2v2h-2zM359 85h2v2h-2zM416 85h2v2h-2zM482 85h2v2h-2zM313 89h2v2h-2zM452 89h2v2h-2zM345 91h2v2h-2zM409 91h2v2h-2zM492 93h2v2h-2zM347 97h2v2h-2zM301 99h2v2h-2zM311 99h2v2h-2zM341 99h2v2h-2zM333 101h2v2h-2zM357 101h2v2h-2zM363 101h2v2h-2zM349 105h2v2h-2zM359 105h2v2h-2zM365 105h2v2h-2zM389 105h2v2h-2zM448 105h2v2h-2zM385 107h2v2h-2zM363 109h2v2h-2zM393 109h2v2h-2zM436 109h2v2h-2zM339 111h2v2h-2zM305 115h2v2h-2zM311 115h2v2h-2zM494 117h2v2h-2zM442 119h2v2h-2zM444 121h2v2h-2zM450 121h2v2h-2zM411 123h2v2h-2zM422 127h2v2h-2zM440 127h2v2h-2zM377 133h2v2h-2zM397 133h2v2h-2zM418 135h2v2h-2zM399 139h2v2h-2zM440 139h2v2h-2zM418 141h2v2h-2zM442 141h2v2h-2zM387 143h4v2h-4zM420 143h2v2h-2zM405 147h2v2h-2zM383 151h2v2h-2zM416 151h2v2h-2zM407 155h2v2h-2zM393 161h2v2h-2zM385 169h2v2h-2z"/><path fill="#63cb5f" d="M365 23h2v2h-2zM389 23h2v2h-2zM301 25h2v2h-2zM353 25h2v2h-2zM389 25h2v2h-2zM341 27h2v2h-2zM379 27h2v2h-2zM399 27h2v2h-2zM333 29h2v2h-2zM339 33h2v2h-2zM365 33h2v2h-2zM446 33h2v2h-2zM411 35h2v2h-2zM416 35h2v2h-2zM297 39h2v2h-2zM341 39h2v2h-2zM369 39h2v2h-2zM287 41h2v2h-2zM458 41h2v2h-2zM470 41h2v2h-2zM476 41h2v2h-2zM413 43h3v2h-3zM462 47h2v2h-2zM277 49h2v2h-2zM462 51h2v2h-2zM335 53h2v2h-2zM399 53h2v2h-2zM333 55h2v2h-2zM403 55h2v2h-2zM452 55h2v2h-2zM438 57h2v2h-2zM265 63h2v2h-2zM277 67h2v2h-2zM315 67h2v2h-2zM478 71h2v2h-2zM279 73h2v2h-2zM303 73h2v2h-2zM373 73h2v2h-2zM277 75h2v2h-2zM279 77h2v2h-2zM343 77h2v2h-2zM357 77h2v2h-2zM287 79h2v2h-2zM317 79h2v2h-2zM488 79h2v2h-2zM287 81h2v2h-2zM323 81h2v2h-2zM393 81h2v2h-2zM405 81h2v2h-2zM444 83h2v2h-2zM269 85h2v2h-2zM321 87h2v2h-2zM466 87h2v2h-2zM305 89h2v2h-2zM387 89h2v2h-2zM335 91h2v2h-2zM407 91h2v2h-2zM305 93h2v2h-2zM331 93h2v2h-2zM428 93h2v2h-2zM438 93h2v2h-2zM490 95h2v2h-2zM333 97h2v2h-2zM363 97h2v2h-2zM367 97h2v2h-2zM377 97h2v2h-2zM325 99h2v2h-2zM367 101h2v2h-2zM405 101h2v2h-2zM257 103h2v2h-2zM341 103h4v2h-4zM265 105h2v2h-2zM323 105h2v2h-2zM393 105h2v2h-2zM405 105h2v2h-2zM434 107h2v2h-2zM446 107h2v2h-2zM261 109h2v2h-2zM291 113h2v2h-2zM341 113h2v2h-2zM383 115h2v2h-2zM405 115h2v2h-2zM409 115h2v2h-2zM381 117h2v2h-2zM405 117h2v2h-2zM482 117h2v2h-2zM416 121h2v2h-2zM416 129h2v2h-2zM452 133h2v2h-2zM287 135h4v2h-4zM287 137h2v2h-2zM295 137h2v2h-2zM277 139h2v2h-2zM377 139h2v2h-2zM277 141h2v2h-2zM357 141h2v2h-2zM377 141h2v2h-2zM409 141h2v2h-2zM301 143h2v2h-2zM397 145h2v2h-2zM407 147h2v2h-2zM387 169h2v2h-2zM379 171h2v2h-2zM379 173h2v2h-2z"/><path fill="#6ccd5a" d="M436 21h2v2h-2zM416 23h2v2h-2zM490 23h2v2h-2zM450 31h2v2h-2zM401 33h2v2h-2zM470 33h2v2h-2zM486 35h2v2h-2zM325 37h2v2h-2zM466 39h2v2h-2zM263 47h2v2h-2zM438 47h2v2h-2zM257 51h2v2h-2zM353 51h2v2h-2zM490 51h2v2h-2zM255 53h2v2h-2zM440 53h2v2h-2zM331 55h2v2h-2zM472 55h2v2h-2zM484 55h2v2h-2zM287 61h2v2h-2zM444 61h2v2h-2zM271 63h2v2h-2zM411 63h2v2h-2zM432 63h2v2h-2zM315 65h2v2h-2zM347 65h2v2h-2zM482 65h2v2h-2zM259 67h2v2h-2zM325 67h2v2h-2zM347 67h2v2h-2zM363 67h2v2h-2zM470 67h2v2h-2zM434 69h2v2h-2zM466 69h2v2h-2zM261 71h2v2h-2zM339 73h2v2h-2zM365 73h2v2h-2zM411 73h2v2h-2zM291 75h2v2h-2zM353 77h2v2h-2zM391 79h2v2h-2zM297 81h2v2h-2zM321 81h2v2h-2zM422 81h2v2h-2zM311 83h2v2h-2zM343 83h2v2h-2zM357 83h2v2h-2zM375 83h2v2h-2zM309 85h2v2h-2zM319 87h2v2h-2zM327 87h2v2h-2zM351 87h2v2h-2zM478 87h2v2h-2zM359 89h2v2h-2zM466 89h2v2h-2zM391 91h2v2h-2zM319 93h2v2h-2zM373 93h2v2h-2zM446 93h2v2h-2zM383 95h2v2h-2zM311 97h2v2h-2zM411 97h2v2h-2zM434 97h2v2h-2zM343 99h2v2h-2zM357 99h2v2h-2zM420 99h2v2h-2zM470 99h2v2h-2zM327 101h2v2h-2zM381 101h2v2h-2zM261 103h2v2h-2zM472 105h2v2h-2zM365 107h2v2h-2zM387 107h2v2h-2zM478 107h2v2h-2zM333 109h2v2h-2zM399 109h2v2h-2zM468 109h2v2h-2zM365 111h2v2h-2zM395 113h2v2h-2zM468 113h2v2h-2zM474 113h2v2h-2zM367 119h2v2h-2zM383 119h2v2h-2zM430 119h2v2h-2zM476 119h2v2h-2zM393 123h2v2h-2zM474 125h2v2h-2zM409 127h2v2h-2zM339 129h2v2h-2zM369 135h2v2h-2zM460 135h2v2h-2zM289 139h2v2h-2zM438 143h2v2h-2zM422 151h2v2h-2zM301 228h2v2h-2z"/><path fill="#75d054" d="M452 27h2v2h-2zM476 31h2v2h-2zM337 35h2v2h-2zM367 37h2v2h-2zM472 37h2v2h-2zM434 39h2v2h-2zM434 41h2v2h-2zM446 41h2v2h-2zM424 45h2v2h-2zM363 47h2v2h-2zM393 47h2v2h-2zM413 49h3v2h-3zM460 49h2v2h-2zM313 51h2v2h-2zM383 51h2v2h-2zM395 51h2v2h-2zM428 51h2v2h-2zM460 51h2v2h-2zM315 55h2v2h-2zM281 57h2v2h-2zM263 59h2v2h-2zM277 59h2v2h-2zM309 59h2v2h-2zM277 61h2v2h-2zM339 61h2v2h-2zM452 61h2v2h-2zM486 61h2v2h-2zM359 63h2v2h-2zM285 71h2v2h-2zM309 71h2v2h-2zM345 71h2v2h-2zM351 71h2v2h-2zM369 71h2v2h-2zM335 73h2v2h-2zM367 73h2v2h-2zM273 75h2v2h-2zM329 75h2v2h-2zM347 75h2v2h-2zM452 75h2v2h-2zM291 77h2v2h-2zM315 77h4v2h-4zM303 79h2v2h-2zM309 79h2v2h-2zM335 79h2v2h-2zM375 79h2v2h-2zM293 81h2v2h-2zM335 81h2v2h-2zM289 83h2v2h-2zM319 83h2v2h-2zM345 85h2v2h-2zM365 85h2v2h-2zM393 85h2v2h-2zM450 85h2v2h-2zM335 87h2v2h-2zM486 87h2v2h-2zM494 87h2v2h-2zM385 89h2v2h-2zM307 91h2v2h-2zM329 91h2v2h-2zM377 93h2v2h-2zM381 93h2v2h-2zM329 95h2v2h-2zM395 95h2v2h-2zM426 95h2v2h-2zM327 97h2v2h-2zM397 97h2v2h-2zM333 99h2v2h-2zM365 99h2v2h-2zM397 99h2v2h-2zM365 101h2v2h-2zM395 107h2v2h-2zM440 113h2v2h-2zM476 113h2v2h-2zM391 115h2v2h-2zM355 119h2v2h-2zM355 121h2v2h-2zM363 125h2v2h-2zM407 127h2v2h-2zM375 129h2v2h-2zM432 129h2v2h-2zM391 131h2v2h-2zM291 135h4v2h-4zM383 135h2v2h-2zM289 137h2v2h-2zM389 137h2v2h-2zM397 141h2v2h-2zM401 143h2v2h-2zM413 149h3v2h-3zM395 159h2v2h-2zM395 161h2v2h-2zM375 165h2v2h-2z"/><path fill="#7fd34e" d="M293 21h2v2h-2zM462 21h2v2h-2zM301 23h2v2h-2zM287 25h2v2h-2zM275 31h2v2h-2zM309 31h2v2h-2zM446 53h2v2h-2zM257 55h2v2h-2zM275 55h2v2h-2zM347 55h2v2h-2zM464 55h2v2h-2zM273 57h2v2h-2zM357 59h2v2h-2zM323 61h2v2h-2zM357 61h2v2h-2zM438 61h2v2h-2zM476 61h2v2h-2zM267 67h2v2h-2zM367 67h2v2h-2zM317 69h2v2h-2zM303 71h2v2h-2zM315 71h2v2h-2zM277 79h2v2h-2zM454 81h2v2h-2zM317 83h2v2h-2zM321 85h2v2h-2zM357 87h2v2h-2zM369 87h2v2h-2zM379 87h2v2h-2zM407 87h2v2h-2zM442 91h2v2h-2zM407 95h2v2h-2zM446 95h2v2h-2zM323 97h2v2h-2zM454 97h2v2h-2zM331 99h2v2h-2zM377 101h2v2h-2zM347 107h2v2h-2zM379 109h2v2h-2zM379 115h2v2h-2zM387 119h2v2h-2zM411 119h2v2h-2zM436 123h2v2h-2zM411 127h2v2h-2zM379 131h2v2h-2zM407 131h2v2h-2zM357 139h2v2h-2zM301 147h2v2h-2zM424 147h2v2h-2zM432 147h2v2h-2zM418 155h2v2h-2zM413 157h3v2h-3zM371 159h2v2h-2z"/><path fill="#89d548" d="M420 21h2v2h-2zM434 21h2v2h-2zM466 21h2v2h-2zM413 23h3v2h-3zM424 23h2v2h-2zM315 27h2v2h-2zM462 27h2v2h-2zM387 29h2v2h-2zM440 29h2v2h-2zM383 35h2v2h-2zM424 35h2v2h-2zM428 43h2v2h-2zM448 43h2v2h-2zM329 45h2v2h-2zM411 45h2v2h-2zM261 47h2v2h-2zM289 49h2v2h-2zM393 55h2v2h-2zM391 57h2v2h-2zM277 65h2v2h-2zM446 67h2v2h-2zM313 71h2v2h-2zM460 73h2v2h-2zM305 79h2v2h-2zM351 79h2v2h-2zM361 79h2v2h-2zM407 81h2v2h-2zM424 87h2v2h-2zM393 91h2v2h-2zM351 93h2v2h-2zM333 95h2v2h-2zM375 97h2v2h-2zM411 101h2v2h-2zM259 103h2v2h-2zM452 103h2v2h-2zM416 105h2v2h-2zM383 107h2v2h-2zM422 107h2v2h-2zM371 111h2v2h-2zM345 113h2v2h-2zM420 119h2v2h-2zM470 119h2v2h-2zM403 121h4v2h-4zM460 127h2v2h-2zM389 129h2v2h-2zM409 131h2v2h-2zM424 133h2v2h-2zM391 137h2v2h-2zM291 141h2v2h-2zM411 141h2v2h-2zM454 143h2v2h-2zM411 147h2v2h-2zM430 149h2v2h-2zM428 151h2v2h-2z"/><path fill="#95d840" d="M311 23h2v2h-2zM357 23h2v2h-2zM319 25h2v2h-2zM460 27h2v2h-2zM377 29h2v2h-2zM405 31h2v2h-2zM269 35h2v2h-2zM379 37h2v2h-2zM399 39h2v2h-2zM385 49h2v2h-2zM399 49h2v2h-2zM297 51h2v2h-2zM484 51h2v2h-2zM397 53h2v2h-2zM277 55h2v2h-2zM395 57h2v2h-2zM446 57h2v2h-2zM291 59h2v2h-2zM267 61h2v2h-2zM279 61h2v2h-2zM418 63h2v2h-2zM261 65h2v2h-2zM293 67h2v2h-2zM271 71h2v2h-2zM267 73h2v2h-2zM341 73h2v2h-2zM349 73h2v2h-2zM436 73h2v2h-2zM293 77h2v2h-2zM361 77h2v2h-2zM385 77h2v2h-2zM442 79h2v2h-2zM311 81h2v2h-2zM399 81h2v2h-2zM424 83h2v2h-2zM377 87h2v2h-2zM321 89h2v2h-2zM317 97h2v2h-2zM474 97h4v2h-4zM468 101h2v2h-2zM472 101h2v2h-2zM361 105h2v2h-2zM381 105h2v2h-2zM438 113h2v2h-2zM413 117h3v2h-3zM422 117h2v2h-2zM387 129h2v2h-2zM422 133h2v2h-2zM397 137h2v2h-2zM409 137h2v2h-2zM454 137h2v2h-2zM279 141h2v2h-2zM293 143h2v2h-2zM385 147h2v2h-2zM389 161h2v2h-2z"/><path fill="#a0da39" d="M474 21h2v2h-2zM456 23h2v2h-2zM325 27h2v2h-2zM283 29h2v2h-2zM329 31h2v2h-2zM379 39h2v2h-2zM359 43h2v2h-2zM494 45h2v2h-2zM315 47h2v2h-2zM416 53h2v2h-2zM456 57h2v2h-2zM375 59h2v2h-2zM375 61h2v2h-2zM261 63h2v2h-2zM369 73h2v2h-2zM289 77h2v2h-2zM395 79h2v2h-2zM285 81h2v2h-2zM395 81h2v2h-2zM293 83h2v2h-2zM458 83h2v2h-2zM397 87h2v2h-2zM271 93h2v2h-2zM411 93h2v2h-2zM428 97h2v2h-2zM337 99h2v2h-2zM438 99h2v2h-2zM265 107h2v2h-2zM403 107h2v2h-2zM377 111h2v2h-2zM424 119h2v2h-2zM426 123h2v2h-2zM379 125h2v2h-2zM269 137h2v2h-2zM413 141h3v2h-3zM450 143h2v2h-2zM297 145h2v2h-2zM301 145h2v2h-2zM430 147h2v2h-2z"/><path fill="#aadc32" d="M379 23h2v2h-2zM349 27h2v2h-2zM375 29h2v2h-2zM458 31h2v2h-2zM303 49h2v2h-2zM446 49h2v2h-2zM259 55h2v2h-2zM303 59h2v2h-2zM389 69h2v2h-2zM271 73h2v2h-2zM480 77h2v2h-2zM347 83h2v2h-2zM391 83h2v2h-2zM456 83h2v2h-2zM395 85h2v2h-2zM446 85h2v2h-2zM315 87h2v2h-2zM422 87h2v2h-2zM391 89h2v2h-2zM325 97h2v2h-2zM381 97h2v2h-2zM464 97h2v2h-2zM466 113h2v2h-2zM418 125h2v2h-2zM428 133h2v2h-2zM413 135h3v2h-3zM413 137h3v2h-3zM456 139h2v2h-2zM401 147h2v2h-2zM409 151h2v2h-2z"/><path fill="#b5de2b" d="M486 33h2v2h-2zM488 41h2v2h-2zM395 53h2v2h-2zM289 55h2v2h-2zM263 61h2v2h-2zM411 61h2v2h-2zM289 69h2v2h-2zM454 75h2v2h-2zM311 77h2v2h-2zM492 77h2v2h-2zM271 79h2v2h-2zM466 79h2v2h-2zM305 83h2v2h-2zM309 83h2v2h-2zM389 85h2v2h-2zM464 85h2v2h-2zM430 87h2v2h-2zM393 89h2v2h-2zM446 89h2v2h-2zM331 91h2v2h-2zM486 91h2v2h-2zM379 93h2v2h-2zM403 93h2v2h-2zM337 101h2v2h-2zM381 103h2v2h-2zM418 103h2v2h-2zM456 107h2v2h-2zM436 111h2v2h-2zM452 111h2v2h-2zM482 111h2v2h-2zM395 115h2v2h-2zM418 115h2v2h-2zM389 117h2v2h-2zM389 121h2v2h-2zM401 123h2v2h-2zM426 129h2v2h-2zM409 133h2v2h-2z"/><path fill="#c0df25" d="M430 21h2v2h-2zM442 29h2v2h-2zM305 35h2v2h-2zM452 41h2v2h-2zM490 41h2v2h-2zM339 49h2v2h-2zM442 49h2v2h-2zM285 61h2v2h-2zM468 63h2v2h-2zM269 67h2v2h-2zM285 67h2v2h-2zM275 79h2v2h-2zM416 79h2v2h-2zM275 81h2v2h-2zM371 87h2v2h-2zM468 87h2v2h-2zM375 89h2v2h-2zM494 99h2v2h-2zM323 103h2v2h-2zM385 105h2v2h-2zM387 109h2v2h-2zM381 111h2v2h-2zM371 115h2v2h-2zM387 117h2v2h-2zM492 117h2v2h-2zM335 139h2v2h-2zM335 141h2v2h-2zM355 159h2v2h-2zM355 161h2v2h-2zM407 161h2v2h-2z"/><path fill="#cae11f" d="M383 21h2v2h-2zM424 27h2v2h-2zM401 29h2v2h-2zM490 31h2v2h-2zM440 41h2v2h-2zM484 45h2v2h-2zM474 51h2v2h-2zM486 53h2v2h-2zM283 59h2v2h-2zM403 63h2v2h-2zM265 69h2v2h-2zM299 69h2v2h-2zM403 75h2v2h-2zM359 77h2v2h-2zM299 79h2v2h-2zM405 87h2v2h-2zM359 95h2v2h-2zM329 103h2v2h-2zM407 109h2v2h-2zM422 109h2v2h-2zM448 119h2v2h-2zM436 121h2v2h-2z"/><path fill="#d5e21a" d="M305 23h2v2h-2zM355 29h2v2h-2zM333 41h2v2h-2zM486 49h2v2h-2zM440 57h2v2h-2zM283 61h2v2h-2zM420 65h2v2h-2zM486 65h2v2h-2zM261 77h2v2h-2zM349 77h2v2h-2zM411 79h2v2h-2zM426 79h2v2h-2zM265 87h2v2h-2zM411 95h2v2h-2zM401 115h2v2h-2zM399 129h2v2h-2zM267 137h2v2h-2zM297 139h2v2h-2z"/><path fill="#dfe318" d="M486 25h2v2h-2zM309 29h2v2h-2zM289 33h2v2h-2zM458 33h2v2h-2zM275 39h2v2h-2zM275 41h2v2h-2zM462 43h2v2h-2zM442 47h2v2h-2zM403 51h2v2h-2zM261 53h2v2h-2zM426 53h2v2h-2zM488 65h2v2h-2zM323 91h2v2h-2zM363 103h2v2h-2zM440 115h2v2h-2zM397 131h2v2h-2zM291 137h2v2h-2zM271 141h2v2h-2zM299 141h2v2h-2z"/><path fill="#eae51a" d="M448 35h2v2h-2zM480 37h2v2h-2zM281 41h2v2h-2zM472 45h2v2h-2zM403 49h2v2h-2zM416 49h2v2h-2zM436 59h2v2h-2zM259 69h2v2h-2zM273 73h2v2h-2zM309 73h2v2h-2zM385 73h2v2h-2zM458 85h2v2h-2zM339 93h2v2h-2zM333 107h2v2h-2zM369 109h2v2h-2zM409 117h2v2h-2zM472 119h2v2h-2zM275 141h2v2h-2z"/><path fill="#f4e61e" d="M426 29h2v2h-2zM331 33h2v2h-2zM468 33h2v2h-2zM420 37h2v2h-2zM474 37h2v2h-2zM488 47h2v2h-2zM287 53h2v2h-2zM393 61h2v2h-2zM476 67h2v2h-2zM466 91h2v2h-2zM486 93h2v2h-2zM430 97h2v2h-2zM381 127h2v2h-2zM389 127h2v2h-2z"/><path fill="#fde725" d="M263 21h2v2h-2zM271 21h4v2h-4zM279 21h2v2h-2zM287 21h2v2h-2zM311 21h2v2h-2zM317 21h2v2h-2zM351 21h2v2h-2zM369 21h2v2h-2zM379 21h2v2h-2zM409 21h2v2h-2zM422 21h2v2h-2zM440 21h6v2h-6zM450 21h2v2h-2zM460 21h2v2h-2zM468 21h2v2h-2zM472 21h2v2h-2zM482 21h4v2h-4zM492 21h4v2h-4zM261 23h2v2h-2zM432 23h2v2h-2zM448 23h2v2h-2zM464 23h2v2h-2zM476 23h2v2h-2zM486 23h2v2h-2zM492 23h2v2h-2zM279 25h2v2h-2zM401 25h2v2h-2zM430 25h2v2h-2zM474 25h2v2h-2zM482 25h2v2h-2zM261 27h2v2h-2zM359 27h2v2h-2zM387 27h2v2h-2zM442 27h2v2h-2zM456 27h2v2h-2zM484 27h2v2h-2zM271 29h2v2h-2zM438 29h2v2h-2zM444 29h2v2h-2zM460 29h2v2h-2zM476 29h2v2h-2zM480 29h2v2h-2zM494 29h2v2h-2zM277 31h2v2h-2zM444 31h2v2h-2zM464 31h2v2h-2zM478 31h2v2h-2zM259 33h2v2h-2zM349 33h2v2h-2zM387 33h2v2h-2zM464 33h4v2h-4zM482 33h2v2h-2zM259 35h2v2h-2zM454 35h2v2h-2zM458 35h2v2h-2zM462 35h2v2h-2zM466 35h2v2h-2zM472 35h2v2h-2zM484 35h2v2h-2zM275 37h2v2h-2zM432 37h2v2h-2zM440 37h2v2h-2zM454 37h2v2h-2zM468 37h2v2h-2zM488 37h2v2h-2zM444 39h4v2h-4zM450 39h2v2h-2zM480 39h4v2h-4zM462 41h2v2h-2zM492 41h2v2h-2zM361 43h2v2h-2zM460 43h2v2h-2zM474 43h4v2h-4zM484 43h2v2h-2zM416 45h2v2h-2zM434 45h2v2h-2zM440 45h2v2h-2zM490 45h2v2h-2zM257 47h2v2h-2zM466 47h2v2h-2zM474 47h2v2h-2zM480 47h2v2h-2zM255 49h2v2h-2zM271 49h2v2h-2zM281 49h2v2h-2zM476 49h2v2h-2zM480 49h2v2h-2zM492 49h2v2h-2zM255 51h2v2h-2zM466 51h2v2h-2zM494 51h2v2h-2zM265 53h4v2h-4zM480 53h4v2h-4zM436 55h2v2h-2zM458 55h2v2h-2zM476 55h2v2h-2zM263 57h2v2h-2zM470 57h2v2h-2zM486 57h2v2h-2zM275 59h2v2h-2zM295 59h2v2h-2zM315 59h2v2h-2zM335 59h2v2h-2zM355 59h2v2h-2zM373 59h2v2h-2zM391 59h2v2h-2zM466 59h2v2h-2zM257 61h2v2h-2zM275 61h2v2h-2zM295 61h2v2h-2zM315 61h2v2h-2zM335 61h2v2h-2zM355 61h2v2h-2zM462 61h2v2h-2zM480 61h2v2h-2zM279 63h2v2h-2zM470 63h2v2h-2zM490 63h2v2h-2zM255 65h2v2h-2zM409 65h2v2h-2zM456 65h2v2h-2zM257 67h2v2h-2zM397 67h2v2h-2zM416 67h2v2h-2zM257 69h2v2h-2zM438 69h2v2h-2zM454 69h2v2h-2zM293 71h2v2h-2zM432 71h2v2h-2zM255 73h4v2h-4zM472 73h2v2h-2zM381 75h2v2h-2zM405 75h2v2h-2zM428 75h2v2h-2zM474 75h2v2h-2zM484 75h2v2h-2zM488 75h2v2h-2zM494 75h2v2h-2zM295 79h2v2h-2zM313 79h4v2h-4zM355 79h2v2h-2zM399 79h2v2h-2zM480 79h2v2h-2zM255 81h2v2h-2zM295 81h2v2h-2zM315 81h2v2h-2zM355 81h2v2h-2zM470 81h2v2h-2zM452 83h2v2h-2zM472 83h2v2h-2zM315 85h2v2h-2zM401 85h2v2h-2zM428 85h2v2h-2zM403 87h2v2h-2zM255 89h2v2h-2zM355 89h2v2h-2zM474 89h2v2h-2zM494 91h2v2h-2zM424 95h2v2h-2zM275 99h2v2h-2zM295 99h2v2h-2zM315 99h2v2h-2zM335 99h2v2h-2zM339 99h2v2h-2zM355 99h2v2h-2zM416 99h2v2h-2zM275 101h2v2h-2zM295 101h2v2h-2zM315 101h2v2h-2zM335 101h2v2h-2zM355 101h2v2h-2zM369 101h2v2h-2zM416 101h2v2h-2zM255 103h2v2h-2zM337 103h2v2h-2zM399 103h2v2h-2zM494 103h2v2h-2zM255 105h2v2h-2zM259 105h4v2h-4zM257 107h8v2h-8zM486 107h2v2h-2zM341 109h2v2h-2zM257 113h2v2h-2zM257 119h2v2h-2zM275 119h2v2h-2zM295 119h2v2h-2zM315 119h2v2h-2zM335 119h2v2h-2zM375 119h2v2h-2zM395 119h2v2h-2zM407 119h2v2h-2zM275 121h2v2h-2zM295 121h2v2h-2zM315 121h2v2h-2zM335 121h2v2h-2zM375 121h2v2h-2zM395 121h2v2h-2zM416 127h2v2h-2zM448 127h2v2h-2zM259 129h4v2h-4zM480 129h2v2h-2zM261 131h2v2h-2zM263 133h2v2h-2zM263 137h4v2h-4zM293 137h2v2h-2zM263 139h14v2h-14zM291 139h6v2h-6zM315 139h2v2h-2zM355 139h2v2h-2zM375 139h2v2h-2zM395 139h2v2h-2zM273 141h2v2h-2zM293 141h6v2h-6zM315 141h2v2h-2zM355 141h2v2h-2zM375 141h2v2h-2zM395 141h2v2h-2zM454 141h2v2h-2zM295 143h6v2h-6zM299 145h2v2h-2zM416 147h2v2h-2zM434 151h2v2h-2zM428 153h2v2h-2zM345 155h2v2h-2zM345 157h2v2h-2zM349 157h2v2h-2zM275 159h2v2h-2zM353 159h2v2h-2zM375 159h2v2h-2zM416 159h2v2h-2zM275 161h2v2h-2zM375 161h2v2h-2zM413 161h3v2h-3zM271 167h2v2h-2zM373 173h2v2h-2zM273 175h2v2h-2zM283 175h2v2h-2zM377 179h2v2h-2zM279 181h2v2h-2zM291 212h2v2h-2zM291 214h4v2h-4zM293 216h2v2h-2zM297 224h2v2h-2zM297 226h4v2h-4zM299 228h2v2h-2zM299 230h4v2h-4zM315 254h2v2h-2zM329 270h2v2h-2zM325 272h2v2h-2zM331 276h2v2h-2zM333 278h2v2h-2zM337 284h2v2h-2zM339 286h4v2h-4zM345 292h2v2h-2zM345 296h2v2h-2zM345 298h2v2h-2zM347 302h6v2h-6z"/></g>
<line id="whiteline" x1="453.6" y1="21" x2="414.4" y2="69.8" stroke="#fff" stroke-width="0.6"/>
<g fill="#000"><rect x="94.945" y="19.945" width="402.11" height="1.11"/><rect x="94.945" y="421.945" width="402.11" height="1.11"/><rect x="94.945" y="19.945" width="1.11" height="403.11"/><rect x="495.945" y="19.945" width="1.11" height="403.11"/><rect x="94.945" y="423" width="1.11" height="4.5"/><rect x="144.945" y="423" width="1.11" height="4.5"/><rect x="194.945" y="423" width="1.11" height="4.5"/><rect x="244.945" y="423" width="1.11" height="4.5"/><rect x="295.945" y="423" width="1.11" height="4.5"/><rect x="345.945" y="423" width="1.11" height="4.5"/><rect x="395.945" y="423" width="1.11" height="4.5"/><rect x="445.945" y="423" width="1.11" height="4.5"/><rect x="495.945" y="423" width="1.11" height="4.5"/><rect x="90.5" y="19.945" width="4.5" height="1.11"/><rect x="90.5" y="70.945" width="4.5" height="1.11"/><rect x="90.5" y="120.945" width="4.5" height="1.11"/><rect x="90.5" y="170.945" width="4.5" height="1.11"/><rect x="90.5" y="220.945" width="4.5" height="1.11"/><rect x="90.5" y="270.945" width="4.5" height="1.11"/><rect x="90.5" y="320.945" width="4.5" height="1.11"/><rect x="90.5" y="371.945" width="4.5" height="1.11"/><rect x="90.5" y="421.945" width="4.5" height="1.11"/><rect x="523.945" y="19.945" width="21.11" height="1.11"/><rect x="523.945" y="421.945" width="21.11" height="1.11"/><rect x="523.945" y="19.945" width="1.11" height="403.11"/><rect x="543.945" y="19.945" width="1.11" height="403.11"/><rect x="545" y="20.945" width="4.5" height="1.11"/><rect x="545" y="100.945" width="4.5" height="1.11"/><rect x="545" y="180.945" width="4.5" height="1.11"/><rect x="545" y="260.945" width="4.5" height="1.11"/><rect x="545" y="340.945" width="4.5" height="1.11"/><rect x="545" y="421.945" width="4.5" height="1.11"/></g>
<g font-family="'DejaVu Sans', 'Liberation Sans', sans-serif" font-size="13.889px" fill="#000"><text x="95.03" y="442.4" text-anchor="middle">−10.0</text><text x="145.18" y="442.4" text-anchor="middle">−7.5</text><text x="195.33" y="442.4" text-anchor="middle">−5.0</text><text x="245.48" y="442.4" text-anchor="middle">−2.5</text><text x="295.64" y="442.4" text-anchor="middle">0.0</text><text x="345.79" y="442.4" text-anchor="middle">2.5</text><text x="395.94" y="442.4" text-anchor="middle">5.0</text><text x="446.10" y="442.4" text-anchor="middle">7.5</text><text x="496.25" y="442.4" text-anchor="middle">10.0</text><text x="85.3" y="427.20" text-anchor="end">−10.0</text><text x="85.3" y="377.05" text-anchor="end">−7.5</text><text x="85.3" y="326.90" text-anchor="end">−5.0</text><text x="85.3" y="276.75" text-anchor="end">−2.5</text><text x="85.3" y="226.60" text-anchor="end">0.0</text><text x="85.3" y="176.45" text-anchor="end">2.5</text><text x="85.3" y="126.30" text-anchor="end">5.0</text><text x="85.3" y="76.15" text-anchor="end">7.5</text><text x="85.3" y="26.00" text-anchor="end">10.0</text><text x="554.0" y="427.20" letter-spacing="-0.17">0.000000</text><text x="554.0" y="346.96" letter-spacing="-0.17">0.000002</text><text x="554.0" y="266.71" letter-spacing="-0.17">0.000004</text><text x="554.0" y="186.47" letter-spacing="-0.17">0.000006</text><text x="554.0" y="106.22" letter-spacing="-0.17">0.000008</text><text x="554.0" y="26.00" letter-spacing="-0.17">0.000010</text><text x="295.64" y="461.9" text-anchor="middle">[H,0,0] (in 0.866 A^-1)</text><text transform="translate(34.3,222.1) rotate(-90)" text-anchor="middle">[0,K,0] (in 0.865 A^-1)</text></g>
</svg></body></html>
